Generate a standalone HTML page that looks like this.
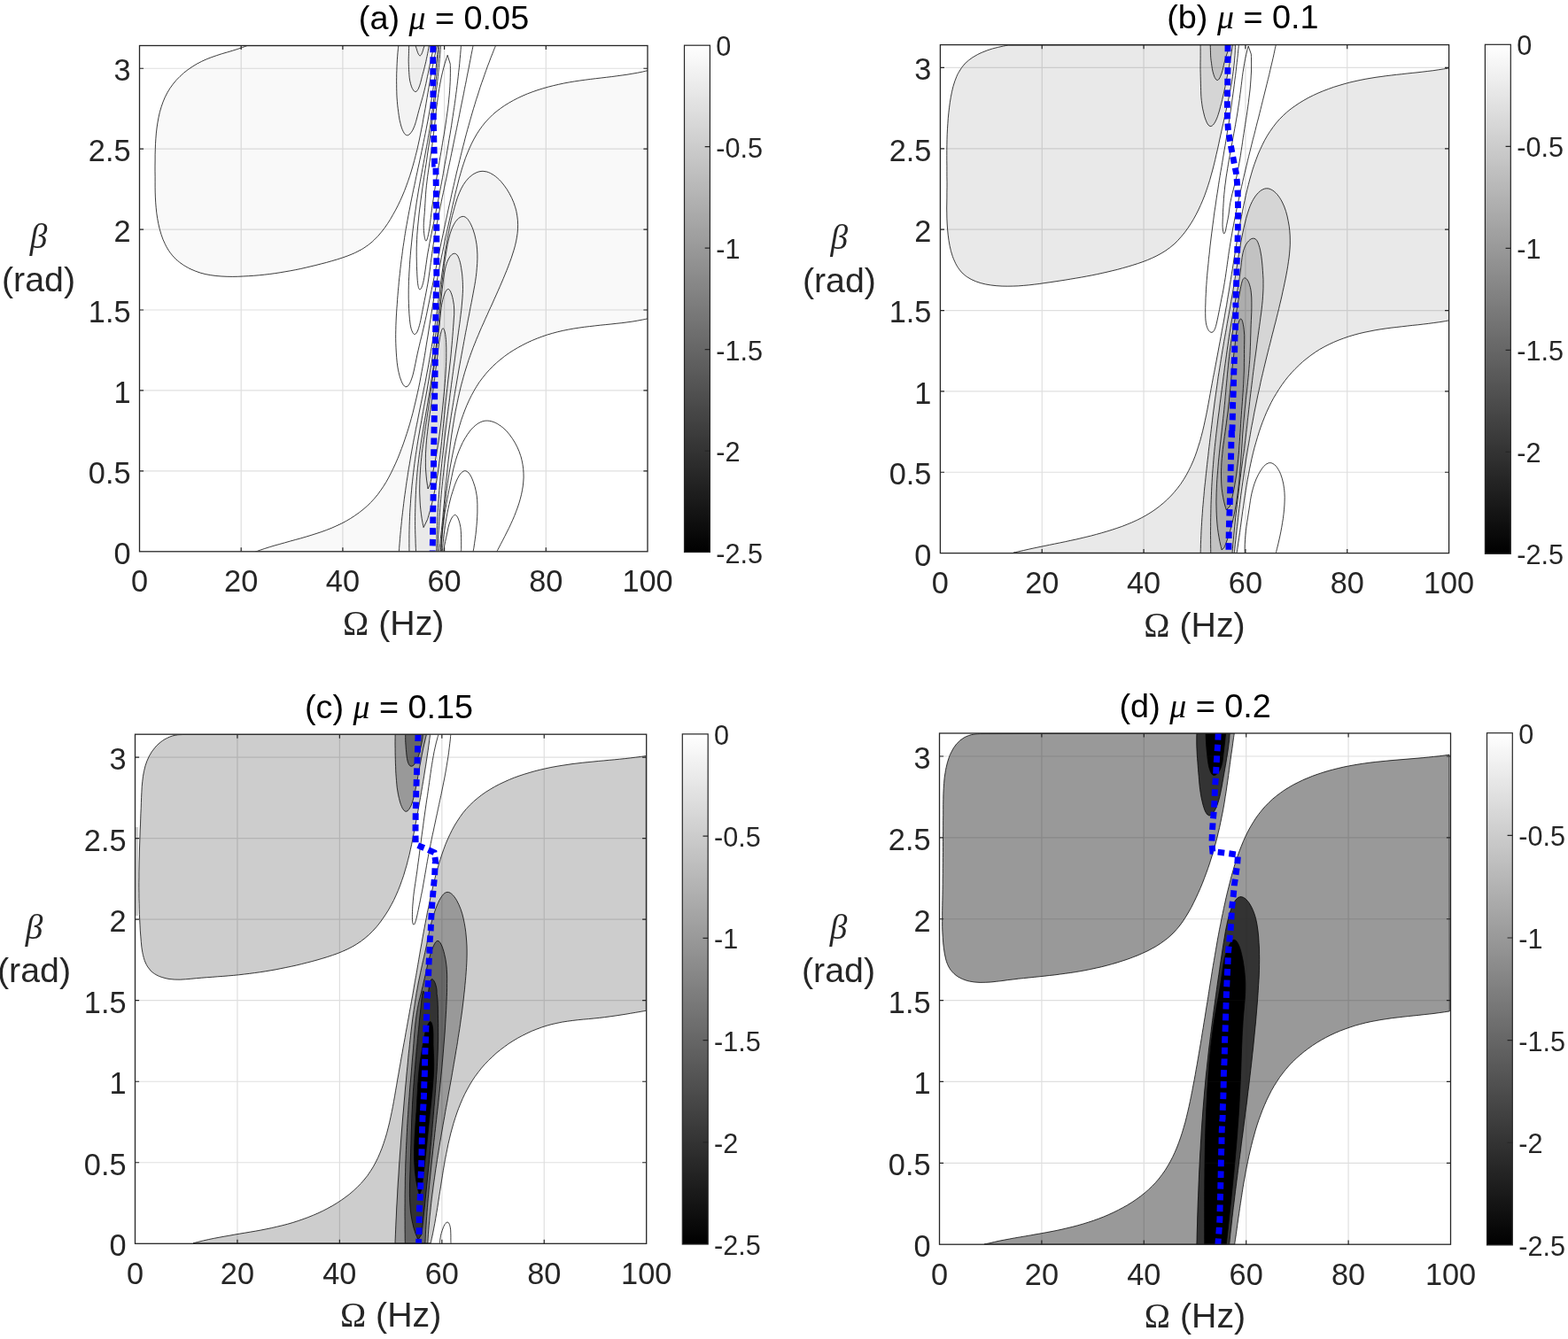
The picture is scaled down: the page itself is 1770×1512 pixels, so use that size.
<!DOCTYPE html>
<html lang="en"><head><meta charset="utf-8"><title>Contour figure</title>
<style>html,body{margin:0;padding:0;background:#fff}svg{display:block}text{font-family:"Liberation Sans",sans-serif;fill:#262626}.m{font-family:"Liberation Serif","DejaVu Serif",serif;font-style:italic}.r{font-family:"Liberation Serif","DejaVu Serif",serif}</style></head>
<body>
<svg xmlns="http://www.w3.org/2000/svg" width="1770" height="1512" viewBox="0 0 1770 1512">
<defs><linearGradient id="cb" x1="0" y1="0" x2="0" y2="1"><stop offset="0" stop-color="#fff"/><stop offset="1" stop-color="#000"/></linearGradient></defs>
<rect width="1770" height="1512" fill="#fff"/>
<g>
<g id="panel-a">
<clipPath id="clip-a"><rect x="157.5" y="51.5" width="573.5" height="571.3"/></clipPath>
<g clip-path="url(#clip-a)">
<path d="M279 51.6C278 51.9 275.3 53 273.5 53.6C271.7 54.3 269.8 54.9 267.9 55.5C266 56.1 264.1 56.7 262.2 57.3C260.2 57.9 258.3 58.4 256.4 59C254.4 59.6 252.5 60.1 250.5 60.7C248.6 61.3 246.6 61.9 244.7 62.6C242.8 63.2 240.8 63.9 238.9 64.6C237 65.3 235.1 66 233.2 66.8C231.4 67.6 229.5 68.4 227.7 69.3C225.9 70.2 224.1 71.1 222.3 72.1C220.5 73.1 218.8 74.2 217.1 75.3C215.4 76.4 213.7 77.5 212.1 78.7C210.5 79.9 208.9 81.1 207.4 82.4C205.9 83.7 204.4 85 203 86.4C201.6 87.7 200.2 89.2 198.9 90.6C197.6 92.1 196.4 93.6 195.2 95.1C194 96.6 192.9 98.2 191.8 99.8C190.8 101.4 189.8 103.1 188.8 104.8C187.9 106.4 187.1 108.2 186.2 109.9C185.4 111.6 184.7 113.4 184 115.2C183.3 117 182.7 118.9 182.1 120.7C181.5 122.6 180.9 124.5 180.4 126.4C179.9 128.3 179.5 130.2 179.1 132.2C178.7 134.1 178.3 136.1 178 138.1C177.6 140 177.3 142 177.1 144C176.8 146 176.6 148.1 176.4 150.1C176.2 152.1 176 154.2 175.9 156.2C175.7 158.3 175.6 160.3 175.5 162.4C175.4 164.5 175.3 166.5 175.3 168.6C175.2 170.7 175.2 172.7 175.1 174.8C175.1 176.9 175.1 178.9 175.1 181C175 183 175 185.1 175 187.1C175 189.2 175 191.2 175 193.2C175 195.3 175 197.3 175.1 199.3C175.1 201.3 175.1 203.3 175.1 205.3C175.1 207.2 175.1 209.2 175.1 211.2C175.1 213.1 175.2 215.1 175.2 217.1C175.3 219 175.3 221 175.4 222.9C175.5 224.9 175.6 226.8 175.7 228.8C175.8 230.8 176 232.7 176.2 234.7C176.4 236.7 176.6 238.6 176.8 240.6C177.1 242.6 177.4 244.6 177.7 246.6C178 248.6 178.4 250.6 178.8 252.6C179.2 254.6 179.7 256.6 180.2 258.6C180.7 260.5 181.3 262.5 181.9 264.5C182.5 266.4 183.2 268.3 183.9 270.2C184.7 272.1 185.5 273.9 186.4 275.7C187.2 277.5 188.2 279.3 189.2 280.9C190.2 282.6 191.3 284.3 192.5 285.8C193.6 287.4 194.9 288.8 196.2 290.2C197.5 291.7 198.9 293 200.4 294.3C201.8 295.5 203.4 296.7 205 297.9C206.5 299 208.2 300 209.9 301C211.5 302 213.3 302.9 215.1 303.8C216.8 304.6 218.6 305.4 220.5 306.1C222.3 306.8 224.2 307.5 226.1 308.1C228 308.6 230 309.1 231.9 309.6C233.9 310 235.9 310.4 237.8 310.7C239.8 311 241.8 311.3 243.9 311.5C245.9 311.7 247.9 311.9 249.9 312C252 312.2 254 312.3 256.1 312.3C258.1 312.4 260.2 312.4 262.2 312.4C264.3 312.4 266.3 312.3 268.4 312.3C270.4 312.2 272.4 312.1 274.5 312C276.5 312 278.5 311.8 280.5 311.7C282.5 311.6 284.5 311.5 286.5 311.3C288.5 311.1 290.5 311 292.5 310.8C294.5 310.6 296.5 310.4 298.4 310.2C300.4 309.9 302.4 309.7 304.3 309.5C306.3 309.2 308.3 308.9 310.2 308.7C312.2 308.4 314.1 308.1 316.1 307.8C318 307.5 320 307.2 321.9 306.8C323.9 306.5 325.8 306.1 327.7 305.8C329.7 305.4 331.6 305 333.6 304.7C335.5 304.3 337.4 303.9 339.4 303.5C341.3 303 343.3 302.6 345.2 302.2C347.2 301.7 349.1 301.3 351 300.8C353 300.4 354.9 299.9 356.9 299.4C358.8 298.9 360.8 298.4 362.7 297.9C364.7 297.4 366.7 296.9 368.6 296.4C370.6 295.8 372.6 295.3 374.5 294.7C376.5 294.2 378.5 293.6 380.4 293C382.4 292.4 384.3 291.8 386.3 291.1C388.2 290.5 390.1 289.8 392 289.1C393.9 288.4 395.8 287.6 397.7 286.8C399.5 286.1 401.3 285.2 403.1 284.3C404.9 283.4 406.7 282.5 408.4 281.5C410.1 280.5 411.7 279.5 413.3 278.3C415 277.2 416.5 276 418 274.8C419.6 273.6 421 272.3 422.4 270.9C423.9 269.6 425.2 268.1 426.6 266.7C427.9 265.2 429.2 263.7 430.4 262.2C431.7 260.7 432.9 259.1 434.1 257.5C435.2 255.9 436.4 254.2 437.5 252.6C438.6 250.9 439.7 249.2 440.7 247.5C441.7 245.8 442.8 244.1 443.7 242.3C444.7 240.6 445.7 238.9 446.6 237.1C447.5 235.4 448.4 233.6 449.3 231.8C450.2 230 451 228.2 451.9 226.4C452.7 224.6 453.5 222.8 454.3 221C455.1 219.2 455.8 217.3 456.6 215.5C457.3 213.6 458 211.8 458.7 209.9C459.4 208.1 460.1 206.2 460.7 204.3C461.4 202.5 462 200.6 462.6 198.7C463.2 196.8 463.8 194.9 464.4 193C465 191.1 465.6 189.2 466.1 187.2C466.7 185.3 467.2 183.4 467.7 181.4C468.2 179.5 468.7 177.6 469.2 175.6C469.7 173.7 470.2 171.7 470.7 169.8C471.1 167.8 471.6 165.9 472 163.9C472.5 161.9 472.9 160 473.3 158C473.7 156 474.1 154.1 474.5 152.1C474.9 150.1 475.3 148.1 475.7 146.1C476.1 144.2 476.5 142.2 476.9 140.2C477.2 138.2 477.6 136.2 477.9 134.2C478.3 132.2 478.7 130.2 479 128.2C479.4 126.3 479.7 124.3 480.1 122.3C480.4 120.3 480.7 118.3 481.1 116.3C481.4 114.3 481.8 112.3 482.1 110.3C482.4 108.3 482.8 106.3 483.1 104.4C483.5 102.4 483.8 100.4 484.1 98.4C484.5 96.4 484.8 94.4 485.2 92.5C485.5 90.5 485.9 88.5 486.2 86.5C486.6 84.6 486.9 82.6 487.3 80.6C487.7 78.7 488 76.7 488.4 74.8C488.8 72.8 489.2 70.9 489.6 68.9C489.9 67 490.3 65 490.8 63.1C491.2 61.2 491.6 59.2 492 57.3C492.4 55.4 493.1 52.5 493.3 51.6Z" fill="#f9f9f9" stroke="#000" stroke-opacity="0.85" stroke-width="0.9" stroke-linejoin="round"/>
<path d="M731.3 79.6C730.3 79.9 727.4 80.5 725.5 81C723.6 81.4 721.6 81.8 719.7 82.2C717.8 82.5 715.8 82.9 713.9 83.2C711.9 83.6 710 83.9 708 84.2C706.1 84.5 704.1 84.8 702.2 85C700.2 85.3 698.2 85.6 696.3 85.8C694.3 86.1 692.3 86.3 690.4 86.6C688.4 86.8 686.4 87.1 684.4 87.3C682.4 87.5 680.5 87.8 678.5 88C676.5 88.2 674.5 88.5 672.5 88.7C670.5 89 668.5 89.2 666.6 89.4C664.6 89.7 662.6 89.9 660.6 90.2C658.6 90.5 656.6 90.7 654.6 91C652.6 91.3 650.6 91.6 648.6 91.9C646.6 92.3 644.6 92.6 642.6 92.9C640.6 93.3 638.6 93.7 636.6 94C634.6 94.4 632.6 94.8 630.6 95.3C628.6 95.7 626.6 96.2 624.6 96.7C622.7 97.1 620.7 97.7 618.7 98.2C616.7 98.7 614.8 99.3 612.8 99.9C610.9 100.4 608.9 101 607 101.7C605.1 102.3 603.1 103 601.2 103.7C599.3 104.4 597.5 105.1 595.6 105.8C593.7 106.6 591.9 107.4 590 108.2C588.2 109 586.4 109.8 584.6 110.7C582.9 111.6 581.1 112.5 579.4 113.4C577.6 114.3 575.9 115.3 574.3 116.3C572.6 117.3 570.9 118.3 569.3 119.4C567.7 120.4 566.1 121.5 564.6 122.7C563 123.8 561.5 125 560 126.2C558.6 127.4 557.1 128.6 555.7 129.9C554.3 131.2 553 132.5 551.7 133.9C550.3 135.2 549.1 136.6 547.8 138.1C546.6 139.5 545.4 141 544.3 142.5C543.1 144 542 145.5 541 147.1C539.9 148.7 538.9 150.3 537.9 151.9C536.9 153.6 535.9 155.3 535 157C534.1 158.7 533.2 160.4 532.4 162.1C531.5 163.9 530.7 165.7 529.9 167.5C529.1 169.3 528.3 171.1 527.6 173C526.8 174.8 526.1 176.7 525.4 178.5C524.8 180.4 524.1 182.3 523.5 184.2C522.8 186.2 522.2 188.1 521.6 190C521 192 520.4 193.9 519.9 195.9C519.3 197.9 518.7 199.8 518.2 201.8C517.7 203.8 517.2 205.8 516.7 207.8C516.1 209.8 515.7 211.8 515.2 213.8C514.7 215.8 514.2 217.8 513.7 219.8C513.3 221.8 512.8 223.8 512.4 225.8C511.9 227.8 511.5 229.8 511 231.8C510.6 233.8 510.1 235.7 509.7 237.7C509.2 239.7 508.8 241.7 508.4 243.6C507.9 245.6 507.5 247.6 507.1 249.5C506.6 251.5 506.2 253.4 505.8 255.4C505.3 257.3 504.9 259.3 504.5 261.2C504.1 263.2 503.7 265.1 503.3 267C502.8 269 502.4 270.9 502 272.8C501.6 274.8 501.2 276.7 500.8 278.6C500.4 280.6 500 282.5 499.6 284.4C499.2 286.4 498.8 288.3 498.4 290.2C498 292.1 497.7 294.1 497.3 296C496.9 297.9 496.5 299.8 496.1 301.8C495.8 303.7 495.4 305.6 495 307.5C494.7 309.5 494.3 311.4 493.9 313.3C493.6 315.3 493.2 317.2 492.9 319.1C492.5 321.1 492.2 323 491.8 324.9C491.5 326.9 491.1 328.8 490.8 330.8C490.5 332.7 490.1 334.7 489.8 336.6C489.5 338.6 489.1 340.5 488.8 342.5C488.5 344.4 488.2 346.4 487.9 348.4C487.5 350.3 487.2 352.3 486.9 354.3C486.6 356.2 486.3 358.2 486 360.2C485.7 362.2 485.3 364.1 485 366.1C484.7 368.1 484.4 370.1 484.1 372C483.8 374 483.5 376 483.2 378C482.8 380 482.5 382 482.2 383.9C481.9 385.9 481.6 387.9 481.2 389.9C480.9 391.9 480.6 393.9 480.3 395.8C479.9 397.8 479.6 399.8 479.3 401.8C478.9 403.8 478.6 405.8 478.3 407.7C477.9 409.7 477.6 411.7 477.2 413.7C476.9 415.7 476.5 417.6 476.1 419.6C475.8 421.6 475.4 423.6 475 425.5C474.6 427.5 474.2 429.5 473.9 431.5C473.5 433.4 473.1 435.4 472.7 437.4C472.2 439.3 471.8 441.3 471.4 443.3C471 445.2 470.5 447.2 470.1 449.1C469.7 451.1 469.2 453 468.7 455C468.3 456.9 467.8 458.9 467.3 460.8C466.8 462.8 466.4 464.7 465.9 466.6C465.3 468.6 464.8 470.5 464.3 472.4C463.8 474.3 463.2 476.3 462.7 478.2C462.1 480.1 461.6 482 461 483.9C460.4 485.8 459.8 487.7 459.2 489.6C458.6 491.5 458 493.4 457.3 495.3C456.7 497.2 456.1 499.1 455.4 500.9C454.7 502.8 454 504.7 453.3 506.5C452.6 508.4 451.9 510.3 451.2 512.1C450.5 514 449.7 515.8 449 517.6C448.2 519.5 447.4 521.3 446.6 523.1C445.8 524.9 445 526.7 444.1 528.5C443.3 530.3 442.4 532.1 441.5 533.9C440.7 535.7 439.7 537.4 438.8 539.1C437.9 540.9 436.9 542.6 435.9 544.3C434.9 546 433.9 547.6 432.8 549.3C431.8 550.9 430.7 552.5 429.5 554.1C428.4 555.7 427.3 557.3 426.1 558.8C424.9 560.3 423.6 561.8 422.4 563.2C421.1 564.7 419.8 566.1 418.4 567.5C417.1 568.9 415.7 570.2 414.3 571.5C412.9 572.8 411.4 574.1 409.9 575.3C408.4 576.6 406.9 577.8 405.3 578.9C403.8 580.1 402.2 581.2 400.5 582.3C398.9 583.4 397.3 584.5 395.6 585.5C393.9 586.5 392.2 587.5 390.5 588.5C388.7 589.4 387 590.4 385.2 591.3C383.4 592.2 381.6 593 379.8 593.8C377.9 594.7 376.1 595.5 374.2 596.3C372.3 597 370.5 597.8 368.6 598.5C366.7 599.2 364.7 599.9 362.8 600.6C360.9 601.3 358.9 601.9 357 602.5C355 603.2 353.1 603.8 351.1 604.4C349.2 605 347.2 605.6 345.2 606.2C343.2 606.8 341.3 607.3 339.3 607.9C337.3 608.4 335.3 609 333.4 609.5C331.4 610.1 329.4 610.6 327.5 611.1C325.5 611.7 323.5 612.2 321.6 612.8C319.6 613.3 317.7 613.8 315.8 614.4C313.8 614.9 311.9 615.5 310 616C308.1 616.6 306.2 617.1 304.3 617.7C302.4 618.3 300.6 618.9 298.7 619.5C296.9 620.1 295.1 620.7 293.3 621.3C291.4 622 288.8 623 287.9 623.3L497.3 623.3C497.4 622.3 497.6 619.2 497.8 617.2C497.9 615.1 498.1 613.1 498.3 611.1C498.4 609.1 498.6 607.1 498.8 605.1C499 603.1 499.1 601.1 499.3 599.1C499.5 597.1 499.7 595.1 499.9 593.1C500 591.1 500.2 589.1 500.4 587.1C500.6 585.1 500.8 583.2 501 581.2C501.2 579.2 501.4 577.2 501.6 575.3C501.9 573.3 502.1 571.3 502.3 569.4C502.5 567.4 502.7 565.4 503 563.5C503.2 561.5 503.5 559.5 503.7 557.6C504 555.6 504.2 553.6 504.5 551.7C504.8 549.7 505 547.7 505.3 545.8C505.6 543.8 505.9 541.8 506.2 539.9C506.5 537.9 506.8 535.9 507.1 533.9C507.4 532 507.8 530 508.1 528C508.5 526 508.8 524 509.2 522C509.5 520.1 509.9 518.1 510.3 516.1C510.7 514.1 511.1 512.1 511.5 510.1C511.9 508.1 512.3 506.1 512.8 504.1C513.2 502.1 513.7 500.1 514.1 498.1C514.6 496.1 515.1 494.1 515.6 492.1C516.1 490.1 516.6 488.1 517.2 486.2C517.7 484.2 518.3 482.2 518.9 480.3C519.5 478.3 520.1 476.4 520.7 474.4C521.4 472.5 522 470.6 522.7 468.7C523.4 466.8 524.1 464.9 524.8 463C525.6 461.1 526.3 459.3 527.1 457.4C527.9 455.6 528.7 453.8 529.5 452C530.4 450.2 531.3 448.4 532.2 446.6C533.1 444.9 534 443.1 535 441.4C536 439.7 537 438 538 436.3C539 434.7 540.1 433 541.2 431.4C542.3 429.8 543.5 428.3 544.7 426.7C545.8 425.2 547.1 423.7 548.3 422.2C549.6 420.7 550.9 419.2 552.2 417.8C553.5 416.4 554.9 415 556.3 413.6C557.7 412.3 559.1 411 560.5 409.7C562 408.4 563.5 407.1 565 405.9C566.5 404.6 568.1 403.4 569.6 402.3C571.2 401.1 572.8 399.9 574.4 398.8C576.1 397.7 577.7 396.7 579.4 395.6C581.1 394.6 582.8 393.5 584.5 392.6C586.2 391.6 588 390.6 589.8 389.7C591.5 388.8 593.3 387.9 595.1 387C596.9 386.1 598.8 385.3 600.6 384.5C602.4 383.7 604.3 382.9 606.2 382.2C608.1 381.5 609.9 380.8 611.8 380.1C613.8 379.4 615.7 378.8 617.6 378.1C619.5 377.5 621.5 376.9 623.4 376.4C625.4 375.8 627.4 375.3 629.3 374.8C631.3 374.3 633.3 373.8 635.3 373.4C637.3 373 639.3 372.6 641.3 372.2C643.3 371.8 645.3 371.4 647.3 371.1C649.3 370.8 651.3 370.5 653.3 370.2C655.3 369.9 657.4 369.6 659.4 369.3C661.4 369.1 663.5 368.8 665.5 368.6C667.5 368.3 669.5 368.1 671.6 367.9C673.6 367.7 675.6 367.5 677.7 367.2C679.7 367 681.7 366.8 683.8 366.6C685.8 366.4 687.8 366.2 689.8 366C691.8 365.8 693.9 365.6 695.9 365.3C697.9 365.1 699.9 364.9 701.9 364.7C703.9 364.4 705.9 364.2 707.9 363.9C709.8 363.6 711.8 363.4 713.8 363.1C715.8 362.8 717.7 362.5 719.7 362.1C721.6 361.8 723.6 361.4 725.5 361C727.4 360.7 730.3 360 731.3 359.8Z" fill="#f9f9f9" stroke="#000" stroke-opacity="0.85" stroke-width="0.9" stroke-linejoin="round"/>
<path d="M450.3 623.3C450.4 622.5 450.6 620 450.7 618.3C450.8 616.7 450.9 615 451.1 613.3C451.2 611.7 451.3 610 451.5 608.4C451.6 606.7 451.8 605.1 451.9 603.4C452.1 601.7 452.2 600.1 452.4 598.4C452.5 596.8 452.7 595.1 452.9 593.4C453 591.8 453.2 590.1 453.4 588.5C453.6 586.8 453.7 585.2 453.9 583.5C454.1 581.8 454.3 580.2 454.5 578.5C454.7 576.9 454.9 575.2 455.1 573.5C455.3 571.9 455.5 570.2 455.7 568.6C455.9 566.9 456.1 565.3 456.3 563.6C456.6 561.9 456.8 560.3 457 558.6C457.2 557 457.5 555.3 457.7 553.7C457.9 552 458.2 550.4 458.4 548.7C458.6 547 458.9 545.4 459.1 543.7C459.4 542.1 459.6 540.4 459.9 538.8C460.1 537.1 460.4 535.5 460.6 533.8C460.9 532.2 461.2 530.5 461.4 528.9C461.7 527.2 462 525.6 462.3 523.9C462.5 522.3 462.8 520.7 463.1 519C463.4 517.4 463.6 515.7 463.9 514.1C464.2 512.4 464.5 510.8 464.8 509.2C465.1 507.5 465.4 505.9 465.7 504.2C466 502.6 466.3 501 466.6 499.3C466.9 497.7 467.2 496 467.5 494.4C467.8 492.8 468.2 491.1 468.5 489.5C468.8 487.9 469.1 486.3 469.4 484.6C469.7 483 470.1 481.4 470.4 479.7C470.7 478.1 471 476.5 471.4 474.8C471.7 473.2 472 471.6 472.3 470C472.7 468.3 473 466.7 473.3 465.1C473.6 463.4 474 461.8 474.3 460.2C474.6 458.6 475 456.9 475.3 455.3C475.6 453.7 475.9 452 476.3 450.4C476.6 448.8 476.9 447.2 477.3 445.5C477.6 443.9 477.9 442.3 478.2 440.6C478.6 439 478.9 437.4 479.2 435.7C479.5 434.1 479.8 432.5 480.2 430.9C480.5 429.2 480.8 427.6 481.1 425.9C481.4 424.3 481.7 422.7 482 421C482.3 419.4 482.7 417.8 483 416.1C483.3 414.5 483.6 412.9 483.9 411.2C484.2 409.6 484.5 407.9 484.7 406.3C485 404.6 485.3 403 485.6 401.3C485.9 399.7 486.2 398 486.4 396.4C486.7 394.7 487 393.1 487.3 391.4C487.5 389.8 487.8 388.1 488.1 386.5C488.3 384.8 488.6 383.2 488.8 381.5C489.1 379.8 489.3 378.2 489.6 376.5C489.8 374.9 490.1 373.2 490.3 371.5C490.6 369.9 490.8 368.2 491.1 366.6C491.3 364.9 491.5 363.2 491.8 361.6C492 359.9 492.2 358.3 492.5 356.6C492.7 354.9 492.9 353.3 493.2 351.6C493.4 350 493.6 348.3 493.8 346.6C494.1 345 494.3 343.3 494.5 341.7C494.7 340 495 338.3 495.2 336.7C495.4 335 495.6 333.4 495.9 331.7C496.1 330.1 496.3 328.4 496.5 326.8C496.8 325.1 497 323.5 497.2 321.8C497.4 320.2 497.6 318.6 497.9 316.9C498.1 315.3 498.3 313.6 498.5 312C498.8 310.4 499 308.7 499.2 307.1C499.5 305.5 499.7 303.8 499.9 302.2C500.2 300.6 500.4 299 500.6 297.3C500.9 295.7 501.1 294.1 501.3 292.5C501.6 290.9 501.8 289.3 502.1 287.7C502.3 286.1 502.6 284.5 502.8 282.9C503.1 281.2 503.3 279.6 503.6 278C503.9 276.4 504.1 274.8 504.4 273.2C504.7 271.6 505 270 505.3 268.4C505.6 266.8 505.9 265.1 506.2 263.5C506.5 261.9 506.8 260.3 507.2 258.6C507.5 257 507.8 255.3 508.2 253.7C508.6 252 508.9 250.4 509.3 248.7C509.7 247 510.1 245.3 510.5 243.6C511 241.9 511.4 240.2 511.9 238.5C512.3 236.8 512.8 235.1 513.3 233.3C513.8 231.6 514.3 229.8 514.8 228.1C515.4 226.3 515.9 224.6 516.5 222.8C517.2 221.1 517.8 219.4 518.5 217.8C519.2 216.1 519.9 214.5 520.7 212.9C521.5 211.3 522.4 209.8 523.3 208.3C524.2 206.9 525.2 205.5 526.2 204.2C527.2 202.9 528.4 201.7 529.5 200.5C530.6 199.4 531.9 198.4 533.1 197.5C534.3 196.7 535.6 195.9 536.9 195.3C538.2 194.6 539.6 194.1 540.9 193.8C542.3 193.5 543.7 193.3 545.1 193.3C546.5 193.4 547.9 193.6 549.3 193.9C550.7 194.3 552.1 194.8 553.5 195.5C554.8 196.2 556.2 197 557.6 197.9C558.9 198.9 560.3 199.9 561.6 201.1C562.9 202.2 564.1 203.5 565.4 204.8C566.6 206.2 567.8 207.6 568.9 209.1C570 210.5 571.1 212.1 572.1 213.6C573.1 215.2 574.1 216.8 575 218.4C575.9 220 576.8 221.7 577.6 223.4C578.4 225.1 579.1 226.8 579.8 228.5C580.4 230.2 581 231.9 581.5 233.6C582.1 235.3 582.5 237 582.9 238.7C583.3 240.4 583.6 242.1 583.8 243.8C584.1 245.4 584.3 247.1 584.4 248.8C584.5 250.4 584.6 252 584.6 253.7C584.6 255.3 584.6 256.9 584.5 258.6C584.4 260.2 584.3 261.8 584.1 263.4C583.9 265 583.7 266.6 583.4 268.2C583.1 269.8 582.8 271.4 582.5 272.9C582.2 274.5 581.8 276.1 581.4 277.7C581 279.2 580.5 280.8 580.1 282.3C579.6 283.9 579.1 285.5 578.6 287C578.1 288.6 577.6 290.1 577.1 291.7C576.5 293.2 576 294.7 575.4 296.3C574.8 297.8 574.3 299.4 573.7 300.9C573.1 302.4 572.5 304 571.9 305.5C571.3 307 570.7 308.6 570 310.1C569.4 311.6 568.8 313.1 568.1 314.7C567.5 316.2 566.9 317.7 566.2 319.2C565.6 320.8 564.9 322.3 564.2 323.8C563.6 325.3 562.9 326.8 562.2 328.4C561.6 329.9 560.9 331.4 560.2 332.9C559.5 334.4 558.8 335.9 558.1 337.5C557.5 339 556.8 340.5 556.1 342C555.4 343.5 554.7 345 554 346.6C553.3 348.1 552.6 349.6 551.9 351.1C551.2 352.6 550.5 354.2 549.9 355.7C549.2 357.2 548.5 358.7 547.8 360.2C547.1 361.8 546.4 363.3 545.8 364.8C545.1 366.3 544.4 367.9 543.7 369.4C543.1 370.9 542.4 372.5 541.7 374C541.1 375.5 540.4 377.1 539.8 378.6C539.1 380.1 538.5 381.7 537.8 383.2C537.2 384.7 536.6 386.3 536 387.8C535.4 389.4 534.7 390.9 534.1 392.5C533.5 394 533 395.6 532.4 397.1C531.8 398.7 531.2 400.3 530.7 401.8C530.1 403.4 529.6 405 529 406.5C528.5 408.1 528 409.7 527.5 411.3C527 412.8 526.5 414.4 526 416C525.5 417.6 525 419.2 524.5 420.8C524.1 422.3 523.6 423.9 523.2 425.5C522.7 427.1 522.3 428.7 521.9 430.3C521.4 431.9 521 433.5 520.6 435.1C520.2 436.8 519.8 438.4 519.4 440C519 441.6 518.7 443.2 518.3 444.8C517.9 446.4 517.6 448.1 517.2 449.7C516.8 451.3 516.5 452.9 516.2 454.6C515.8 456.2 515.5 457.8 515.2 459.4C514.9 461.1 514.5 462.7 514.2 464.3C513.9 466 513.6 467.6 513.3 469.2C513 470.9 512.8 472.5 512.5 474.2C512.2 475.8 511.9 477.5 511.7 479.1C511.4 480.7 511.1 482.4 510.9 484C510.6 485.7 510.4 487.3 510.1 489C509.9 490.6 509.7 492.3 509.4 493.9C509.2 495.6 509 497.3 508.7 498.9C508.5 500.6 508.3 502.2 508.1 503.9C507.9 505.5 507.7 507.2 507.5 508.9C507.3 510.5 507.1 512.2 506.9 513.8C506.7 515.5 506.5 517.2 506.3 518.8C506.1 520.5 505.9 522.2 505.7 523.8C505.6 525.5 505.4 527.1 505.2 528.8C505 530.5 504.8 532.1 504.7 533.8C504.5 535.5 504.3 537.1 504.2 538.8C504 540.5 503.8 542.1 503.7 543.8C503.5 545.5 503.3 547.1 503.2 548.8C503 550.5 502.9 552.1 502.7 553.8C502.5 555.5 502.4 557.1 502.2 558.8C502.1 560.5 501.9 562.1 501.8 563.8C501.6 565.4 501.4 567.1 501.3 568.8C501.1 570.4 501 572.1 500.8 573.8C500.7 575.4 500.5 577.1 500.3 578.7C500.2 580.4 500 582.1 499.9 583.7C499.7 585.4 499.5 587 499.4 588.7C499.2 590.4 499 592 498.9 593.7C498.7 595.3 498.5 597 498.4 598.6C498.2 600.3 498 601.9 497.8 603.6C497.7 605.2 497.5 606.9 497.3 608.5C497.1 610.2 496.9 611.8 496.8 613.4C496.6 615.1 496.4 616.7 496.2 618.4C496 620 495.7 622.5 495.6 623.3Z" fill="#f3f3f3" stroke="#000" stroke-opacity="0.85" stroke-width="0.9" stroke-linejoin="round"/>
<path d="M462 623.3C462 622.5 461.9 620 461.9 618.3C461.9 616.7 461.9 615 461.9 613.4C461.8 611.7 461.8 610 461.9 608.4C461.9 606.7 461.9 605.1 461.9 603.4C461.9 601.7 461.9 600.1 462 598.4C462 596.7 462.1 595.1 462.1 593.4C462.2 591.7 462.2 590.1 462.3 588.4C462.3 586.7 462.4 585.1 462.5 583.4C462.6 581.7 462.6 580.1 462.7 578.4C462.8 576.7 462.9 575.1 463 573.4C463.1 571.7 463.2 570 463.4 568.4C463.5 566.7 463.6 565 463.7 563.4C463.9 561.7 464 560 464.1 558.4C464.3 556.7 464.4 555 464.6 553.3C464.7 551.7 464.9 550 465 548.3C465.2 546.7 465.4 545 465.6 543.3C465.7 541.7 465.9 540 466.1 538.4C466.3 536.7 466.5 535 466.7 533.4C466.9 531.7 467.1 530.1 467.3 528.4C467.5 526.8 467.7 525.1 467.9 523.4C468.2 521.8 468.4 520.1 468.6 518.5C468.9 516.8 469.1 515.2 469.3 513.6C469.6 511.9 469.8 510.3 470.1 508.6C470.3 507 470.6 505.4 470.8 503.7C471.1 502.1 471.4 500.4 471.6 498.8C471.9 497.2 472.2 495.5 472.4 493.9C472.7 492.3 473 490.6 473.3 489C473.6 487.4 473.8 485.8 474.1 484.1C474.4 482.5 474.7 480.9 475 479.2C475.3 477.6 475.6 476 475.9 474.4C476.2 472.7 476.4 471.1 476.7 469.5C477 467.8 477.3 466.2 477.6 464.6C477.9 463 478.2 461.3 478.5 459.7C478.8 458.1 479.1 456.4 479.4 454.8C479.7 453.2 480 451.5 480.3 449.9C480.6 448.3 480.9 446.6 481.2 445C481.5 443.4 481.8 441.7 482.1 440.1C482.3 438.4 482.6 436.8 482.9 435.1C483.2 433.5 483.5 431.9 483.8 430.2C484.1 428.6 484.3 426.9 484.6 425.2C484.9 423.6 485.2 421.9 485.4 420.3C485.7 418.6 486 417 486.2 415.3C486.5 413.6 486.8 412 487 410.3C487.3 408.6 487.5 407 487.8 405.3C488 403.6 488.3 402 488.5 400.3C488.8 398.6 489 396.9 489.3 395.3C489.5 393.6 489.7 391.9 490 390.3C490.2 388.6 490.5 386.9 490.7 385.3C490.9 383.6 491.1 381.9 491.4 380.3C491.6 378.6 491.8 376.9 492.1 375.3C492.3 373.6 492.5 371.9 492.7 370.3C492.9 368.6 493.1 367 493.4 365.3C493.6 363.6 493.8 362 494 360.3C494.2 358.7 494.4 357.1 494.6 355.4C494.8 353.8 495 352.1 495.2 350.5C495.4 348.9 495.6 347.2 495.8 345.6C496 344 496.2 342.4 496.4 340.7C496.6 339.1 496.8 337.5 497 335.9C497.2 334.3 497.4 332.7 497.5 331.1C497.7 329.5 497.9 327.9 498.1 326.4C498.3 324.8 498.5 323.2 498.6 321.6C498.8 320 499 318.5 499.2 316.9C499.4 315.3 499.6 313.7 499.8 312.1C500 310.5 500.2 308.9 500.4 307.3C500.6 305.6 500.8 304 501 302.3C501.3 300.7 501.5 299 501.7 297.3C502 295.6 502.2 293.9 502.5 292.1C502.8 290.4 503.1 288.6 503.4 286.8C503.6 284.9 504 283.1 504.3 281.2C504.6 279.3 505 277.4 505.3 275.5C505.7 273.6 506.1 271.6 506.6 269.7C507 267.8 507.5 265.9 508 264.1C508.6 262.2 509.2 260.4 509.9 258.7C510.5 257 511.3 255.4 512.1 253.9C512.9 252.4 513.8 250.9 514.7 249.7C515.6 248.5 516.6 247.4 517.6 246.6C518.6 245.8 519.6 245.1 520.7 244.8C521.7 244.4 522.7 244.3 523.7 244.5C524.7 244.8 525.7 245.3 526.6 246.1C527.6 246.9 528.5 248.1 529.3 249.4C530.2 250.7 531 252.2 531.8 253.9C532.6 255.5 533.3 257.3 534 259.2C534.6 261 535.2 263 535.8 264.9C536.3 266.9 536.7 268.8 537.1 270.7C537.5 272.7 537.8 274.5 538.1 276.4C538.3 278.2 538.5 280.1 538.6 281.9C538.8 283.7 538.8 285.4 538.9 287.2C538.9 289 538.9 290.7 538.9 292.4C538.8 294.2 538.8 295.9 538.7 297.6C538.6 299.3 538.5 300.9 538.3 302.6C538.2 304.3 538 305.9 537.9 307.6C537.7 309.3 537.5 310.9 537.3 312.5C537 314.2 536.8 315.8 536.6 317.4C536.3 319 536 320.7 535.8 322.3C535.5 323.9 535.2 325.5 534.9 327.1C534.6 328.7 534.3 330.3 534 331.9C533.7 333.5 533.4 335.1 533.1 336.7C532.8 338.3 532.5 339.9 532.2 341.5C531.8 343.1 531.5 344.8 531.2 346.4C530.9 348 530.6 349.6 530.3 351.2C530 352.8 529.7 354.5 529.4 356.1C529 357.7 528.7 359.3 528.4 360.9C528.1 362.6 527.8 364.2 527.5 365.8C527.2 367.5 526.9 369.1 526.6 370.7C526.3 372.3 525.9 374 525.6 375.6C525.3 377.3 525 378.9 524.7 380.5C524.4 382.2 524.1 383.8 523.8 385.4C523.5 387.1 523.2 388.7 522.9 390.4C522.6 392 522.3 393.6 522 395.3C521.7 396.9 521.4 398.6 521.1 400.2C520.8 401.9 520.5 403.5 520.2 405.2C519.9 406.8 519.6 408.4 519.3 410.1C519 411.7 518.7 413.4 518.4 415C518.1 416.7 517.8 418.3 517.5 420C517.2 421.6 516.9 423.3 516.7 424.9C516.4 426.6 516.1 428.2 515.8 429.9C515.5 431.5 515.2 433.2 515 434.8C514.7 436.5 514.4 438.1 514.1 439.8C513.8 441.4 513.6 443.1 513.3 444.7C513 446.3 512.7 448 512.5 449.6C512.2 451.3 511.9 452.9 511.7 454.6C511.4 456.2 511.1 457.9 510.9 459.5C510.6 461.2 510.3 462.8 510.1 464.5C509.8 466.1 509.6 467.7 509.3 469.4C509.1 471 508.8 472.7 508.6 474.3C508.3 476 508.1 477.6 507.8 479.3C507.6 480.9 507.3 482.6 507.1 484.2C506.9 485.8 506.6 487.5 506.4 489.1C506.1 490.8 505.9 492.4 505.7 494.1C505.4 495.7 505.2 497.4 505 499C504.8 500.7 504.5 502.3 504.3 504C504.1 505.6 503.9 507.3 503.7 508.9C503.5 510.5 503.2 512.2 503 513.8C502.8 515.5 502.6 517.1 502.4 518.8C502.2 520.4 502 522.1 501.8 523.7C501.6 525.4 501.4 527 501.2 528.7C501 530.3 500.8 532 500.7 533.6C500.5 535.3 500.3 536.9 500.1 538.6C499.9 540.2 499.8 541.9 499.6 543.5C499.4 545.2 499.2 546.8 499.1 548.5C498.9 550.1 498.7 551.8 498.6 553.4C498.4 555.1 498.3 556.8 498.1 558.4C498 560.1 497.8 561.7 497.7 563.4C497.5 565 497.4 566.7 497.2 568.3C497.1 570 497 571.7 496.8 573.3C496.7 575 496.6 576.6 496.5 578.3C496.3 579.9 496.2 581.6 496.1 583.3C496 584.9 495.9 586.6 495.8 588.3C495.7 589.9 495.6 591.6 495.5 593.2C495.4 594.9 495.3 596.6 495.2 598.2C495.1 599.9 495 601.6 494.9 603.2C494.8 604.9 494.7 606.6 494.7 608.2C494.6 609.9 494.5 611.6 494.5 613.2C494.4 614.9 494.3 616.6 494.3 618.3C494.2 619.9 494.1 622.4 494.1 623.3Z" fill="#eeeeee" stroke="#000" stroke-opacity="0.85" stroke-width="0.9" stroke-linejoin="round"/>
<path d="M469.6 623.3C469.5 622.5 469.4 620 469.3 618.4C469.3 616.7 469.2 615.1 469.1 613.4C469.1 611.8 469 610.1 469 608.5C468.9 606.8 468.9 605.1 468.8 603.5C468.8 601.8 468.7 600.2 468.7 598.5C468.7 596.8 468.7 595.2 468.6 593.5C468.6 591.8 468.6 590.2 468.6 588.5C468.6 586.8 468.6 585.1 468.6 583.5C468.6 581.8 468.6 580.1 468.7 578.4C468.7 576.8 468.7 575.1 468.8 573.4C468.8 571.7 468.8 570.1 468.9 568.4C468.9 566.7 469 565 469.1 563.4C469.1 561.7 469.2 560 469.3 558.4C469.4 556.7 469.4 555 469.5 553.3C469.6 551.7 469.7 550 469.8 548.3C469.9 546.7 470.1 545 470.2 543.3C470.3 541.7 470.4 540 470.6 538.3C470.7 536.7 470.9 535 471 533.4C471.2 531.7 471.4 530.1 471.5 528.4C471.7 526.8 471.9 525.1 472.1 523.5C472.3 521.8 472.5 520.2 472.7 518.6C472.9 516.9 473.1 515.3 473.3 513.6C473.5 512 473.7 510.4 474 508.7C474.2 507.1 474.4 505.5 474.7 503.9C474.9 502.2 475.2 500.6 475.4 499C475.7 497.3 475.9 495.7 476.2 494.1C476.4 492.5 476.7 490.8 477 489.2C477.2 487.6 477.5 485.9 477.8 484.3C478.1 482.7 478.3 481.1 478.6 479.4C478.9 477.8 479.2 476.2 479.4 474.6C479.7 472.9 480 471.3 480.3 469.7C480.6 468 480.8 466.4 481.1 464.8C481.4 463.1 481.7 461.5 482 459.8C482.3 458.2 482.5 456.6 482.8 454.9C483.1 453.3 483.4 451.6 483.6 450C483.9 448.3 484.2 446.7 484.5 445C484.7 443.3 485 441.7 485.3 440C485.5 438.4 485.8 436.7 486.1 435C486.3 433.4 486.6 431.7 486.8 430C487.1 428.4 487.3 426.7 487.6 425C487.8 423.4 488.1 421.7 488.3 420C488.6 418.3 488.8 416.7 489.1 415C489.3 413.3 489.5 411.7 489.8 410C490 408.3 490.2 406.7 490.4 405C490.7 403.3 490.9 401.7 491.1 400C491.3 398.4 491.5 396.7 491.8 395.1C492 393.4 492.2 391.8 492.4 390.1C492.6 388.5 492.8 386.8 493 385.2C493.2 383.6 493.4 381.9 493.6 380.3C493.8 378.7 493.9 377.1 494.1 375.4C494.3 373.8 494.5 372.2 494.7 370.6C494.8 369 495 367.4 495.2 365.8C495.3 364.2 495.5 362.7 495.7 361.1C495.8 359.5 496 357.9 496.1 356.4C496.3 354.8 496.4 353.2 496.6 351.7C496.7 350.1 496.9 348.5 497 346.9C497.2 345.3 497.3 343.7 497.5 342C497.7 340.4 497.8 338.8 498 337.1C498.2 335.4 498.4 333.7 498.6 332C498.8 330.2 499 328.4 499.2 326.6C499.4 324.8 499.6 322.9 499.9 321C500.1 319.1 500.3 317.2 500.6 315.2C500.9 313.2 501.2 311.1 501.5 309.1C501.8 307.2 502.2 305.1 502.6 303.2C503.1 301.3 503.5 299.4 504.1 297.7C504.6 296 505.3 294.4 506 293C506.7 291.6 507.5 290.3 508.3 289.2C509.1 288.2 510 287.4 510.9 286.9C511.7 286.4 512.6 286.1 513.5 286.3C514.3 286.4 515.1 286.9 515.8 287.7C516.5 288.5 517.2 289.7 517.8 291.2C518.4 292.6 518.9 294.4 519.4 296.2C519.9 298.1 520.3 300.2 520.6 302.4C521 304.5 521.3 306.7 521.6 308.9C521.8 311.1 522 313.3 522.1 315.3C522.3 317.4 522.4 319.3 522.4 321.2C522.5 323 522.5 324.8 522.5 326.5C522.4 328.2 522.4 329.8 522.3 331.4C522.2 333 522.1 334.6 522 336.2C521.9 337.8 521.7 339.4 521.6 341C521.5 342.6 521.3 344.2 521.2 345.8C521 347.4 520.8 349 520.7 350.6C520.5 352.3 520.3 353.9 520.1 355.5C519.9 357.2 519.7 358.8 519.5 360.4C519.3 362.1 519.1 363.7 518.9 365.3C518.6 367 518.4 368.6 518.2 370.3C518 371.9 517.7 373.6 517.5 375.2C517.3 376.8 517.1 378.5 516.8 380.1C516.6 381.8 516.4 383.4 516.2 385.1C515.9 386.7 515.7 388.4 515.5 390C515.3 391.7 515 393.3 514.8 395C514.6 396.6 514.4 398.3 514.1 399.9C513.9 401.6 513.7 403.2 513.5 404.9C513.2 406.5 513 408.2 512.8 409.8C512.6 411.5 512.4 413.1 512.1 414.8C511.9 416.4 511.7 418.1 511.5 419.7C511.3 421.4 511 423 510.8 424.7C510.6 426.3 510.4 428 510.2 429.6C509.9 431.3 509.7 432.9 509.5 434.6C509.3 436.2 509.1 437.9 508.9 439.5C508.7 441.2 508.4 442.8 508.2 444.5C508 446.1 507.8 447.8 507.6 449.4C507.4 451.1 507.2 452.7 507 454.4C506.7 456 506.5 457.7 506.3 459.3C506.1 461 505.9 462.6 505.7 464.3C505.5 465.9 505.3 467.6 505.1 469.2C504.9 470.9 504.6 472.5 504.4 474.2C504.2 475.8 504 477.5 503.8 479.1C503.6 480.8 503.4 482.4 503.2 484.1C503 485.7 502.8 487.4 502.6 489C502.4 490.7 502.2 492.3 502 494C501.8 495.6 501.6 497.3 501.4 498.9C501.3 500.6 501.1 502.2 500.9 503.9C500.7 505.5 500.5 507.2 500.3 508.8C500.1 510.5 499.9 512.2 499.8 513.8C499.6 515.5 499.4 517.1 499.2 518.8C499.1 520.4 498.9 522.1 498.7 523.7C498.5 525.4 498.4 527 498.2 528.7C498 530.3 497.9 532 497.7 533.6C497.6 535.3 497.4 537 497.2 538.6C497.1 540.3 496.9 541.9 496.8 543.6C496.6 545.2 496.5 546.9 496.4 548.5C496.2 550.2 496.1 551.9 495.9 553.5C495.8 555.2 495.7 556.8 495.5 558.5C495.4 560.1 495.3 561.8 495.2 563.5C495.1 565.1 494.9 566.8 494.8 568.4C494.7 570.1 494.6 571.7 494.5 573.4C494.4 575.1 494.3 576.7 494.2 578.4C494.1 580 494 581.7 493.9 583.4C493.8 585 493.7 586.7 493.7 588.3C493.6 590 493.5 591.7 493.5 593.3C493.4 595 493.3 596.6 493.3 598.3C493.2 600 493.1 601.6 493.1 603.3C493 605 493 606.6 493 608.3C492.9 610 492.9 611.6 492.9 613.3C492.8 614.9 492.8 616.6 492.8 618.3C492.8 619.9 492.8 622.4 492.8 623.3Z" fill="#e9e9e9" stroke="#000" stroke-opacity="0.85" stroke-width="0.9" stroke-linejoin="round"/>
<path d="M478.1 595.6C477.9 594.7 477.4 592.3 477.1 590.6C476.8 589 476.5 587.4 476.2 585.7C475.9 584.1 475.7 582.4 475.5 580.8C475.3 579.1 475.1 577.5 474.9 575.8C474.7 574.2 474.6 572.6 474.4 570.9C474.3 569.3 474.2 567.6 474.1 566C474 564.3 473.9 562.7 473.9 561C473.8 559.4 473.8 557.7 473.7 556.1C473.7 554.4 473.7 552.8 473.7 551.1C473.7 549.5 473.7 547.8 473.8 546.2C473.8 544.5 473.9 542.8 473.9 541.2C474 539.5 474.1 537.9 474.2 536.2C474.2 534.6 474.3 532.9 474.5 531.3C474.6 529.6 474.7 528 474.8 526.3C475 524.7 475.1 523 475.3 521.3C475.4 519.7 475.6 518 475.8 516.4C476 514.7 476.2 513.1 476.3 511.4C476.5 509.8 476.7 508.1 476.9 506.5C477.2 504.8 477.4 503.1 477.6 501.5C477.8 499.8 478 498.2 478.3 496.5C478.5 494.9 478.7 493.2 479 491.6C479.2 489.9 479.5 488.3 479.7 486.6C479.9 485 480.2 483.3 480.4 481.7C480.7 480 480.9 478.4 481.2 476.7C481.4 475 481.7 473.4 482 471.8C482.2 470.1 482.5 468.5 482.7 466.8C483 465.2 483.2 463.5 483.5 461.9C483.7 460.2 484 458.6 484.2 456.9C484.4 455.3 484.7 453.6 484.9 452C485.2 450.3 485.4 448.7 485.6 447.1C485.8 445.4 486.1 443.8 486.3 442.1C486.5 440.5 486.7 438.8 487 437.2C487.2 435.6 487.4 433.9 487.6 432.3C487.8 430.6 488.1 429 488.3 427.4C488.5 425.7 488.7 424.1 488.9 422.4C489.1 420.8 489.3 419.1 489.5 417.5C489.8 415.8 490 414.2 490.2 412.6C490.4 410.9 490.6 409.3 490.8 407.6C491 406 491.3 404.3 491.5 402.7C491.7 401 491.9 399.4 492.1 397.7C492.4 396.1 492.6 394.4 492.8 392.7C493 391.1 493.3 389.4 493.5 387.8C493.7 386.1 494 384.4 494.2 382.8C494.4 381.2 494.6 379.5 494.8 377.9C495 376.3 495.2 374.7 495.4 373.2C495.6 371.6 495.8 370.1 496 368.5C496.1 367 496.3 365.4 496.4 363.8C496.6 362.1 496.7 360.4 496.9 358.7C497.1 356.9 497.2 355 497.4 353.1C497.6 351.2 497.8 349.3 498.1 347.3C498.4 345.3 498.7 343.3 499.2 341.3C499.6 339.4 500.1 337.3 500.6 335.5C501.2 333.7 501.8 331.9 502.4 330.5C503 329.1 503.7 327.9 504.4 327.2C505 326.6 505.7 326.3 506.4 326.5C507 326.8 507.7 327.6 508.3 328.7C508.9 329.8 509.5 331.3 510 332.9C510.5 334.6 511 336.5 511.4 338.4C511.8 340.4 512.1 342.5 512.4 344.4C512.6 346.3 512.7 348.2 512.7 350C512.8 351.8 512.7 353.5 512.7 355.2C512.6 356.8 512.5 358.4 512.3 360C512.2 361.7 512.1 363.3 512 364.9C511.9 366.5 511.7 368.1 511.6 369.8C511.5 371.4 511.4 373 511.3 374.6C511.1 376.3 511 377.9 510.9 379.5C510.8 381.2 510.6 382.8 510.5 384.4C510.4 386.1 510.2 387.7 510.1 389.3C509.9 391 509.8 392.6 509.6 394.2C509.5 395.9 509.3 397.5 509.2 399.2C509 400.8 508.8 402.5 508.7 404.1C508.5 405.8 508.3 407.4 508.2 409C508 410.7 507.8 412.3 507.6 414C507.4 415.6 507.3 417.3 507.1 418.9C506.9 420.6 506.7 422.3 506.5 423.9C506.3 425.6 506.1 427.2 505.9 428.9C505.8 430.5 505.6 432.2 505.4 433.8C505.2 435.5 505 437.1 504.8 438.8C504.6 440.5 504.4 442.1 504.2 443.8C504.1 445.4 503.9 447.1 503.7 448.8C503.5 450.4 503.3 452.1 503.1 453.7C503 455.4 502.8 457 502.6 458.7C502.4 460.4 502.3 462 502.1 463.7C501.9 465.3 501.7 467 501.6 468.6C501.4 470.3 501.3 472 501.1 473.6C500.9 475.3 500.8 476.9 500.6 478.6C500.4 480.2 500.3 481.9 500.1 483.6C500 485.2 499.8 486.9 499.6 488.5C499.5 490.2 499.3 491.8 499.1 493.5C499 495.1 498.8 496.8 498.6 498.4C498.4 500.1 498.3 501.7 498.1 503.4C497.9 505 497.7 506.7 497.5 508.3C497.4 510 497.2 511.6 497 513.3C496.8 514.9 496.6 516.6 496.4 518.2C496.2 519.9 496 521.5 495.7 523.2C495.5 524.8 495.3 526.4 495.1 528.1C494.8 529.7 494.6 531.4 494.4 533C494.1 534.6 493.9 536.3 493.6 537.9C493.3 539.5 493.1 541.2 492.8 542.8C492.5 544.4 492.2 546.1 491.9 547.7C491.6 549.3 491.3 551 491 552.6C490.7 554.2 490.4 555.8 490 557.5C489.7 559.1 489.3 560.7 489 562.3C488.6 564 488.3 565.6 487.9 567.2C487.5 568.8 487.1 570.4 486.7 572C486.3 573.7 485.8 575.3 485.4 576.9C485 578.5 484.5 580.1 484 581.7C483.6 583.3 482.8 585.7 482.6 586.5Z" fill="#e4e4e4" stroke="#000" stroke-opacity="0.85" stroke-width="0.9" stroke-linejoin="round"/>
<path d="M483.1 552C483 551.2 482.5 548.7 482.3 547C482 545.4 481.8 543.7 481.6 542.1C481.4 540.4 481.2 538.8 481.1 537.1C480.9 535.4 480.8 533.8 480.7 532.1C480.6 530.5 480.5 528.8 480.4 527.1C480.4 525.5 480.4 523.8 480.4 522.2C480.3 520.5 480.4 518.8 480.4 517.2C480.4 515.5 480.5 513.9 480.5 512.2C480.6 510.5 480.7 508.9 480.8 507.2C480.9 505.6 481 503.9 481.1 502.2C481.2 500.6 481.4 498.9 481.5 497.2C481.7 495.6 481.8 493.9 482 492.3C482.2 490.6 482.4 488.9 482.6 487.3C482.8 485.6 483 483.9 483.2 482.3C483.4 480.6 483.6 478.9 483.8 477.3C484 475.6 484.3 473.9 484.5 472.3C484.7 470.6 484.9 468.9 485.2 467.3C485.4 465.6 485.7 463.9 485.9 462.3C486.1 460.6 486.4 458.9 486.6 457.2C486.8 455.6 487.1 453.9 487.3 452.2C487.5 450.6 487.7 448.9 488 447.2C488.2 445.5 488.4 443.9 488.6 442.2C488.8 440.5 489.1 438.9 489.3 437.2C489.5 435.6 489.7 433.9 489.9 432.2C490.2 430.6 490.4 428.9 490.6 427.3C490.8 425.7 491 424 491.2 422.4C491.4 420.8 491.6 419.1 491.8 417.5C492.1 415.9 492.3 414.3 492.5 412.7C492.7 411.1 492.9 409.5 493.1 407.9C493.3 406.3 493.5 404.8 493.7 403.1C493.9 401.5 494.1 399.9 494.3 398.2C494.5 396.4 494.6 394.7 494.9 392.8C495.1 390.9 495.3 388.9 495.6 386.8C495.9 384.7 496.3 382.4 496.7 380.3C497.1 378.3 497.5 376.2 498 374.7C498.4 373.1 498.9 371.8 499.4 371.2C499.9 370.6 500.4 370.7 500.9 371.3C501.3 371.9 501.8 373.4 502.2 374.9C502.6 376.4 502.9 378.4 503.1 380.4C503.4 382.3 503.5 384.5 503.6 386.6C503.7 388.7 503.7 390.8 503.8 392.8C503.8 394.8 503.8 396.7 503.8 398.5C503.8 400.3 503.8 402 503.8 403.7C503.8 405.3 503.7 406.9 503.7 408.5C503.6 410.1 503.6 411.7 503.5 413.3C503.4 414.8 503.3 416.4 503.2 418C503.1 419.5 503 421.1 502.9 422.8C502.8 424.4 502.7 426 502.6 427.6C502.5 429.3 502.4 430.9 502.2 432.6C502.1 434.2 502 435.9 501.8 437.6C501.7 439.3 501.5 441 501.4 442.6C501.2 444.3 501.1 446 500.9 447.7C500.7 449.4 500.6 451.1 500.4 452.8C500.2 454.5 500.1 456.2 499.9 457.9C499.7 459.6 499.6 461.2 499.4 462.9C499.2 464.6 499 466.3 498.8 467.9C498.7 469.6 498.5 471.3 498.3 473C498.1 474.6 497.9 476.3 497.7 477.9C497.5 479.6 497.3 481.3 497.1 482.9C496.9 484.6 496.7 486.2 496.4 487.9C496.2 489.5 496 491.2 495.8 492.8C495.5 494.5 495.3 496.1 495.1 497.8C494.8 499.4 494.6 501 494.3 502.7C494.1 504.3 493.8 506 493.5 507.6C493.3 509.2 493 510.9 492.7 512.5C492.4 514.2 492.1 515.8 491.8 517.4C491.5 519.1 491.2 520.7 490.9 522.3C490.6 524 490.3 525.6 489.9 527.2C489.6 528.9 489.2 530.5 488.9 532.2C488.5 533.8 488.2 535.4 487.8 537.1C487.4 538.7 487 540.3 486.6 542C486.2 543.6 485.6 546.1 485.4 546.9Z" fill="#dfdfdf" stroke="#000" stroke-opacity="0.85" stroke-width="0.9" stroke-linejoin="round"/>
<path d="M449.8 51.6C449.7 52.2 449.5 54.1 449.4 55.4C449.3 56.7 449.1 58 449 59.3C448.9 60.6 448.8 61.9 448.7 63.2C448.6 64.6 448.5 65.9 448.4 67.2C448.4 68.6 448.3 69.9 448.2 71.3C448.1 72.6 448.1 74 448 75.3C448 76.7 447.9 78.1 447.9 79.4C447.8 80.8 447.8 82.1 447.7 83.5C447.7 84.8 447.7 86.2 447.7 87.5C447.7 88.9 447.6 90.2 447.6 91.5C447.6 92.9 447.6 94.2 447.7 95.5C447.7 96.8 447.7 98.1 447.7 99.4C447.7 100.7 447.8 102 447.8 103.3C447.8 104.6 447.9 105.8 447.9 107.1C448 108.3 448.1 109.6 448.1 110.9C448.2 112.1 448.3 113.4 448.4 114.6C448.5 115.9 448.6 117.2 448.7 118.5C448.9 119.8 449 121.1 449.2 122.4C449.3 123.8 449.5 125.1 449.7 126.5C449.9 127.9 450.1 129.3 450.3 130.7C450.5 132.2 450.8 133.7 451 135.2C451.3 136.7 451.7 138.2 452.1 139.7C452.4 141.2 452.9 142.8 453.4 144.2C453.9 145.7 454.5 147.2 455.2 148.5C455.8 149.7 456.5 150.9 457.2 151.6C458 152.3 458.8 152.8 459.5 152.8C460.3 152.9 461.2 152.5 461.9 151.9C462.7 151.4 463.5 150.5 464.2 149.5C465 148.5 465.7 147.2 466.3 146C467 144.7 467.5 143.3 468.1 141.8C468.6 140.4 469 138.9 469.5 137.4C469.9 136 470.3 134.4 470.7 133C471 131.5 471.4 130 471.8 128.6C472.2 127.2 472.5 125.9 472.9 124.5C473.3 123.2 473.6 121.9 474 120.6C474.3 119.4 474.7 118.1 475 116.9C475.4 115.7 475.7 114.5 476.1 113.2C476.4 112 476.8 110.8 477.1 109.6C477.4 108.4 477.8 107.2 478.1 105.9C478.4 104.7 478.7 103.5 479 102.2C479.3 101 479.6 99.7 479.9 98.4C480.2 97.1 480.5 95.9 480.8 94.6C481.1 93.3 481.3 92 481.6 90.7C481.9 89.3 482.2 88 482.4 86.7C482.7 85.4 483 84.1 483.3 82.7C483.5 81.4 483.8 80.1 484.1 78.8C484.4 77.4 484.6 76.1 484.9 74.8C485.2 73.5 485.5 72.1 485.7 70.8C486 69.5 486.3 68.2 486.6 66.9C486.9 65.6 487.2 64.3 487.4 63C487.7 61.7 488 60.4 488.3 59.1C488.7 57.8 489 56.6 489.3 55.3C489.6 54.1 490.1 52.2 490.3 51.6Z" fill="#f3f3f3" stroke="#000" stroke-opacity="0.85" stroke-width="0.9" stroke-linejoin="round"/>
<path d="M461.7 51.6C461.6 52.1 461.6 53.5 461.6 54.5C461.5 55.5 461.5 56.6 461.5 57.6C461.4 58.6 461.4 59.7 461.4 60.7C461.3 61.7 461.3 62.8 461.3 63.8C461.2 64.8 461.2 65.9 461.2 66.9C461.2 67.9 461.2 68.8 461.2 69.8C461.2 70.8 461.2 71.7 461.3 72.7C461.3 73.6 461.3 74.5 461.4 75.5C461.4 76.5 461.5 77.4 461.5 78.4C461.6 79.4 461.6 80.4 461.7 81.4C461.8 82.4 461.8 83.5 461.9 84.6C462 85.6 462.1 86.7 462.2 87.8C462.4 88.9 462.5 90 462.7 91.1C462.9 92.2 463.2 93.4 463.5 94.5C463.8 95.6 464.1 96.7 464.5 97.8C464.9 98.8 465.4 99.9 465.9 100.7C466.4 101.6 466.9 102.4 467.5 102.9C468 103.4 468.6 103.7 469.1 103.6C469.7 103.5 470.2 103.1 470.8 102.6C471.3 102 471.8 101.1 472.3 100.2C472.7 99.2 473.2 98.1 473.6 96.9C474 95.8 474.3 94.6 474.7 93.4C475 92.2 475.3 91 475.6 89.9C475.9 88.7 476.2 87.6 476.4 86.6C476.7 85.5 477 84.6 477.2 83.6C477.5 82.6 477.7 81.7 478 80.8C478.2 79.9 478.4 79 478.7 78.1C478.9 77.2 479.1 76.2 479.4 75.3C479.6 74.4 479.8 73.4 480.1 72.4C480.3 71.5 480.5 70.5 480.8 69.5C481 68.5 481.2 67.5 481.4 66.5C481.7 65.5 481.9 64.5 482.1 63.5C482.3 62.5 482.5 61.5 482.7 60.5C482.9 59.5 483.1 58.5 483.3 57.5C483.5 56.5 483.6 55.5 483.8 54.5C484 53.5 484.2 52.1 484.3 51.6Z" fill="#eeeeee" stroke="#000" stroke-opacity="0.85" stroke-width="0.9" stroke-linejoin="round"/>
<path d="M469 51.6C469.2 52 469.6 53.2 469.9 54.2C470.3 55.2 470.6 56.6 471 57.8C471.4 58.9 471.8 60.4 472.4 61.2C472.9 62.1 473.5 62.9 474.1 62.9C474.7 62.9 475.3 62.1 475.8 61.2C476.3 60.4 476.8 58.9 477.2 57.8C477.6 56.6 477.9 55.2 478.2 54.2C478.6 53.2 479 52 479.2 51.6Z" fill="#e9e9e9" stroke="#000" stroke-opacity="0.85" stroke-width="0.9" stroke-linejoin="round"/>
<path d="M494.5 51.6C494.4 52.4 494.2 54.9 494.1 56.5C493.9 58.2 493.8 59.9 493.6 61.5C493.5 63.2 493.3 64.8 493.2 66.5C493 68.2 492.8 69.8 492.6 71.5C492.5 73.1 492.3 74.8 492.1 76.5C491.9 78.1 491.7 79.8 491.5 81.4C491.3 83.1 491.1 84.8 490.9 86.4C490.7 88.1 490.4 89.7 490.2 91.4C490 93 489.8 94.7 489.5 96.4C489.3 98 489.1 99.7 488.8 101.3C488.6 103 488.3 104.6 488.1 106.3C487.8 108 487.5 109.6 487.3 111.3C487 112.9 486.7 114.6 486.5 116.2C486.2 117.9 485.9 119.5 485.6 121.2C485.3 122.8 485.1 124.5 484.8 126.1C484.5 127.8 484.2 129.4 483.9 131.1C483.6 132.7 483.3 134.4 483 136C482.7 137.7 482.4 139.3 482 141C481.7 142.6 481.4 144.2 481.1 145.9C480.8 147.5 480.5 149.2 480.1 150.8C479.8 152.4 479.5 154.1 479.1 155.7C478.8 157.3 478.5 159 478.1 160.6C477.8 162.2 477.5 163.9 477.1 165.5C476.8 167.1 476.4 168.8 476.1 170.4C475.8 172 475.4 173.6 475.1 175.3C474.7 176.9 474.4 178.5 474 180.2C473.7 181.8 473.3 183.4 473 185C472.6 186.7 472.3 188.3 471.9 189.9C471.6 191.5 471.2 193.1 470.9 194.8C470.5 196.4 470.2 198 469.8 199.6C469.5 201.3 469.1 202.9 468.8 204.5C468.5 206.1 468.1 207.8 467.8 209.4C467.4 211 467.1 212.7 466.7 214.3C466.4 215.9 466.1 217.5 465.7 219.2C465.4 220.8 465.1 222.4 464.7 224.1C464.4 225.7 464.1 227.3 463.7 229C463.4 230.6 463.1 232.2 462.8 233.9C462.4 235.5 462.1 237.1 461.8 238.8C461.5 240.4 461.2 242.1 460.9 243.7C460.6 245.4 460.3 247 460 248.6C459.7 250.3 459.4 251.9 459.1 253.6C458.8 255.2 458.5 256.9 458.2 258.6C458 260.2 457.7 261.9 457.4 263.5C457.2 265.2 456.9 266.9 456.6 268.5C456.4 270.2 456.1 271.9 455.9 273.5C455.6 275.2 455.4 276.9 455.1 278.5C454.9 280.2 454.7 281.9 454.4 283.6C454.2 285.2 454 286.9 453.8 288.6C453.5 290.2 453.3 291.9 453.1 293.6C452.9 295.3 452.7 296.9 452.5 298.6C452.3 300.3 452.1 301.9 451.9 303.6C451.7 305.3 451.5 307 451.4 308.6C451.2 310.3 451 312 450.8 313.6C450.7 315.3 450.5 317 450.3 318.6C450.2 320.3 450 321.9 449.9 323.6C449.7 325.3 449.6 326.9 449.4 328.6C449.3 330.2 449.1 331.9 449 333.5C448.9 335.2 448.7 336.8 448.6 338.5C448.5 340.1 448.4 341.7 448.3 343.4C448.1 345 448 346.6 447.9 348.3C447.8 349.9 447.7 351.5 447.6 353.1C447.5 354.8 447.4 356.4 447.3 358C447.3 359.6 447.2 361.2 447.1 362.8C447 364.4 447 366 446.9 367.6C446.8 369.3 446.8 370.9 446.8 372.5C446.7 374.1 446.7 375.8 446.7 377.4C446.7 379.1 446.7 380.7 446.7 382.4C446.7 384.1 446.7 385.8 446.8 387.5C446.8 389.2 446.9 391 447 392.7C447 394.5 447.1 396.3 447.3 398.1C447.4 399.9 447.5 401.8 447.7 403.6C447.8 405.5 448 407.4 448.2 409.3C448.5 411.2 448.7 413.1 449 415C449.3 416.9 449.7 418.8 450.1 420.5C450.5 422.3 450.9 424.1 451.4 425.8C451.9 427.5 452.5 429.1 453.2 430.6C453.8 432.1 454.6 433.6 455.3 434.6C456.1 435.7 456.9 436.5 457.8 436.8C458.6 437 459.4 436.7 460.2 436.1C461 435.4 461.8 434.2 462.6 432.8C463.3 431.5 464 429.7 464.6 427.9C465.3 426.1 465.9 424.1 466.4 422.1C466.9 420.1 467.4 418 467.8 416C468.2 414 468.6 412 469 410.2C469.4 408.3 469.7 406.6 470.1 404.8C470.4 403.1 470.8 401.5 471.1 399.9C471.5 398.3 471.8 396.7 472.2 395.1C472.5 393.5 472.9 391.9 473.3 390.4C473.7 388.8 474.1 387.2 474.4 385.6C474.8 384 475.2 382.4 475.6 380.8C476 379.2 476.4 377.6 476.8 376C477.2 374.4 477.6 372.8 477.9 371.2C478.3 369.6 478.7 368 479 366.4C479.4 364.8 479.8 363.2 480.1 361.5C480.5 359.9 480.8 358.3 481.2 356.7C481.5 355 481.9 353.4 482.2 351.8C482.6 350.1 482.9 348.5 483.2 346.9C483.6 345.2 483.9 343.6 484.2 342C484.6 340.3 484.9 338.7 485.2 337C485.6 335.4 485.9 333.8 486.2 332.1C486.6 330.5 486.9 328.8 487.2 327.2C487.5 325.6 487.9 323.9 488.2 322.3C488.5 320.6 488.9 319 489.2 317.4C489.5 315.7 489.9 314.1 490.2 312.5C490.5 310.8 490.9 309.2 491.2 307.5C491.5 305.9 491.8 304.3 492.2 302.6C492.5 301 492.8 299.4 493.2 297.7C493.5 296.1 493.9 294.5 494.2 292.8C494.5 291.2 494.9 289.6 495.2 287.9C495.5 286.3 495.9 284.7 496.2 283C496.5 281.4 496.9 279.8 497.2 278.2C497.6 276.5 497.9 274.9 498.2 273.3C498.6 271.6 498.9 270 499.3 268.4C499.6 266.7 500 265.1 500.3 263.5C500.6 261.8 501 260.2 501.3 258.6C501.7 257 502 255.3 502.4 253.7C502.7 252.1 503.1 250.4 503.4 248.8C503.8 247.2 504.1 245.6 504.5 243.9C504.8 242.3 505.2 240.7 505.5 239C505.9 237.4 506.2 235.8 506.6 234.1C507 232.5 507.3 230.9 507.7 229.3C508 227.6 508.4 226 508.8 224.4C509.1 222.7 509.5 221.1 509.8 219.5C510.2 217.9 510.6 216.2 510.9 214.6C511.3 213 511.7 211.3 512.1 209.7C512.4 208.1 512.8 206.4 513.2 204.8C513.5 203.2 513.9 201.6 514.3 199.9C514.7 198.3 515.1 196.7 515.4 195C515.8 193.4 516.2 191.8 516.6 190.2C517 188.5 517.4 186.9 517.8 185.3C518.2 183.7 518.6 182 519 180.4C519.4 178.8 519.8 177.2 520.2 175.5C520.6 173.9 521 172.3 521.4 170.7C521.8 169.1 522.2 167.4 522.6 165.8C523 164.2 523.4 162.6 523.9 161C524.3 159.3 524.7 157.7 525.1 156.1C525.6 154.5 526 152.9 526.4 151.3C526.9 149.6 527.3 148 527.7 146.4C528.2 144.8 528.6 143.2 529.1 141.6C529.5 140 530 138.4 530.4 136.8C530.9 135.1 531.3 133.5 531.8 131.9C532.3 130.3 532.7 128.7 533.2 127.1C533.7 125.5 534.1 123.9 534.6 122.3C535.1 120.7 535.6 119.1 536.1 117.5C536.6 115.9 537.1 114.3 537.5 112.7C538 111.1 538.5 109.6 539.1 108C539.6 106.4 540.1 104.8 540.6 103.2C541.1 101.6 541.6 100 542.1 98.4C542.7 96.9 543.2 95.3 543.7 93.7C544.3 92.1 544.8 90.5 545.4 89C545.9 87.4 546.4 85.8 547 84.3C547.6 82.7 548.1 81.1 548.7 79.5C549.3 78 549.8 76.4 550.4 74.8C551 73.3 551.6 71.7 552.2 70.2C552.7 68.6 553.3 67.1 553.9 65.5C554.5 63.9 555.1 62.4 555.8 60.8C556.4 59.3 557 57.7 557.6 56.2C558.2 54.7 559.2 52.3 559.5 51.6" fill="none" stroke="#000" stroke-opacity="0.85" stroke-width="0.9" stroke-linejoin="round"/>
<path d="M495.9 51.6C495.8 52.4 495.6 54.8 495.5 56.5C495.3 58.1 495.1 59.8 495 61.4C494.8 63.1 494.7 64.7 494.5 66.3C494.3 68 494.2 69.6 494 71.3C493.9 72.9 493.7 74.6 493.5 76.3C493.4 77.9 493.2 79.6 493.1 81.2C492.9 82.9 492.7 84.5 492.6 86.2C492.4 87.9 492.2 89.5 492 91.2C491.9 92.8 491.7 94.5 491.5 96.2C491.3 97.8 491.2 99.5 491 101.2C490.8 102.8 490.6 104.5 490.4 106.1C490.2 107.8 490 109.5 489.8 111.1C489.6 112.8 489.4 114.4 489.2 116.1C489 117.8 488.8 119.4 488.6 121.1C488.4 122.7 488.2 124.4 487.9 126C487.7 127.7 487.5 129.3 487.2 131C487 132.6 486.8 134.3 486.5 135.9C486.3 137.6 486 139.2 485.8 140.8C485.5 142.5 485.3 144.1 485 145.7C484.7 147.4 484.5 149 484.2 150.6C483.9 152.3 483.6 153.9 483.3 155.5C483.1 157.1 482.8 158.8 482.5 160.4C482.2 162 481.9 163.6 481.6 165.3C481.3 166.9 481 168.5 480.7 170.1C480.4 171.7 480.1 173.4 479.8 175C479.5 176.6 479.2 178.2 478.9 179.8C478.6 181.5 478.3 183.1 478 184.7C477.7 186.3 477.4 187.9 477.1 189.6C476.8 191.2 476.5 192.8 476.2 194.4C475.9 196.1 475.6 197.7 475.3 199.3C475 200.9 474.7 202.6 474.4 204.2C474.1 205.8 473.8 207.5 473.5 209.1C473.2 210.8 472.9 212.4 472.6 214C472.4 215.7 472.1 217.3 471.8 219C471.5 220.6 471.3 222.3 471 223.9C470.7 225.6 470.5 227.2 470.2 228.9C470 230.6 469.7 232.2 469.5 233.9C469.2 235.6 469 237.2 468.8 238.9C468.5 240.6 468.3 242.2 468.1 243.9C467.8 245.6 467.6 247.2 467.4 248.9C467.2 250.6 467 252.3 466.8 253.9C466.6 255.6 466.4 257.3 466.2 258.9C466 260.6 465.8 262.3 465.6 263.9C465.4 265.6 465.2 267.3 465.1 268.9C464.9 270.6 464.7 272.3 464.6 273.9C464.4 275.6 464.2 277.2 464.1 278.9C463.9 280.5 463.8 282.2 463.6 283.8C463.5 285.4 463.4 287.1 463.2 288.7C463.1 290.3 463 292 462.8 293.6C462.7 295.2 462.6 296.8 462.5 298.4C462.4 300 462.3 301.6 462.2 303.2C462.1 304.8 462 306.4 461.9 308C461.8 309.6 461.7 311.1 461.7 312.7C461.6 314.3 461.5 315.9 461.4 317.4C461.4 319 461.3 320.6 461.3 322.2C461.3 323.8 461.2 325.4 461.2 327.1C461.2 328.7 461.2 330.4 461.2 332.1C461.2 333.8 461.2 335.5 461.2 337.2C461.3 339 461.3 340.8 461.4 342.6C461.4 344.5 461.5 346.4 461.6 348.3C461.7 350.2 461.8 352.2 461.9 354.3C462 356.3 462.2 358.4 462.4 360.3C462.6 362.3 462.8 364.3 463.1 366.2C463.4 368 463.8 369.8 464.2 371.3C464.7 372.8 465.2 374.3 465.8 375.4C466.3 376.4 467 377.2 467.6 377.4C468.3 377.6 469 377.3 469.7 376.6C470.4 375.9 471.1 374.5 471.7 373C472.3 371.5 472.9 369.5 473.4 367.6C474 365.7 474.4 363.5 474.9 361.4C475.3 359.3 475.7 357.2 476.1 355.2C476.5 353.2 476.9 351.4 477.2 349.6C477.5 347.8 477.9 346.1 478.2 344.5C478.5 342.8 478.8 341.2 479.1 339.6C479.5 338 479.8 336.4 480.1 334.9C480.4 333.3 480.7 331.7 481 330.2C481.3 328.6 481.6 327.1 481.9 325.5C482.2 323.9 482.5 322.4 482.8 320.8C483 319.2 483.3 317.6 483.6 316C483.8 314.4 484.1 312.7 484.3 311.1C484.5 309.5 484.8 307.8 485 306.2C485.2 304.6 485.4 302.9 485.7 301.3C485.9 299.6 486.1 297.9 486.3 296.3C486.5 294.6 486.8 293 487 291.3C487.2 289.6 487.4 288 487.7 286.3C487.9 284.6 488.1 283 488.4 281.3C488.6 279.7 488.9 278 489.1 276.4C489.4 274.7 489.7 273 489.9 271.4C490.2 269.7 490.5 268.1 490.8 266.5C491 264.8 491.3 263.2 491.6 261.5C491.9 259.9 492.2 258.3 492.5 256.6C492.8 255 493.1 253.4 493.4 251.7C493.7 250.1 494 248.5 494.4 246.8C494.7 245.2 495 243.6 495.3 241.9C495.7 240.3 496 238.7 496.3 237.1C496.6 235.4 497 233.8 497.3 232.2C497.6 230.6 498 228.9 498.3 227.3C498.7 225.7 499 224.1 499.3 222.5C499.7 220.8 500 219.2 500.4 217.6C500.7 216 501 214.4 501.4 212.7C501.7 211.1 502.1 209.5 502.4 207.9C502.8 206.3 503.1 204.6 503.5 203C503.8 201.4 504.1 199.8 504.5 198.1C504.8 196.5 505.2 194.9 505.5 193.3C505.9 191.6 506.2 190 506.5 188.4C506.9 186.8 507.2 185.2 507.6 183.5C507.9 181.9 508.2 180.3 508.6 178.7C508.9 177 509.2 175.4 509.6 173.8C509.9 172.1 510.3 170.5 510.6 168.9C510.9 167.3 511.3 165.6 511.6 164C511.9 162.4 512.3 160.8 512.6 159.1C512.9 157.5 513.3 155.9 513.6 154.2C513.9 152.6 514.3 151 514.6 149.4C514.9 147.7 515.3 146.1 515.6 144.5C515.9 142.8 516.3 141.2 516.6 139.6C516.9 137.9 517.2 136.3 517.6 134.7C517.9 133.1 518.2 131.4 518.6 129.8C518.9 128.2 519.2 126.5 519.5 124.9C519.9 123.3 520.2 121.6 520.5 120C520.9 118.4 521.2 116.8 521.5 115.1C521.8 113.5 522.2 111.9 522.5 110.2C522.8 108.6 523.1 107 523.5 105.3C523.8 103.7 524.1 102.1 524.4 100.4C524.8 98.8 525.1 97.2 525.4 95.6C525.7 93.9 526 92.3 526.4 90.7C526.7 89 527 87.4 527.3 85.8C527.7 84.1 528 82.5 528.3 80.9C528.6 79.3 528.9 77.6 529.3 76C529.6 74.4 529.9 72.7 530.2 71.1C530.5 69.5 530.9 67.9 531.2 66.2C531.5 64.6 531.8 63 532.1 61.3C532.5 59.7 532.8 58.1 533.1 56.5C533.4 54.8 533.9 52.4 534 51.6" fill="none" stroke="#000" stroke-opacity="0.85" stroke-width="0.9" stroke-linejoin="round"/>
<path d="M497.5 51.6C497.5 52.4 497.3 54.9 497.2 56.5C497 58.2 496.9 59.8 496.8 61.5C496.6 63.2 496.5 64.8 496.3 66.5C496.2 68.2 496 69.8 495.9 71.5C495.7 73.2 495.6 74.8 495.4 76.5C495.2 78.2 495 79.8 494.9 81.5C494.7 83.2 494.5 84.8 494.3 86.5C494.1 88.2 494 89.9 493.8 91.5C493.6 93.2 493.4 94.9 493.2 96.6C493 98.2 492.8 99.9 492.6 101.6C492.4 103.2 492.2 104.9 492 106.6C491.8 108.3 491.5 109.9 491.3 111.6C491.1 113.3 490.9 114.9 490.7 116.6C490.5 118.2 490.2 119.9 490 121.6C489.8 123.2 489.6 124.9 489.4 126.5C489.1 128.2 488.9 129.9 488.7 131.5C488.5 133.2 488.2 134.8 488 136.5C487.8 138.1 487.5 139.7 487.3 141.4C487.1 143 486.8 144.7 486.6 146.3C486.4 148 486.1 149.6 485.9 151.3C485.7 152.9 485.4 154.5 485.2 156.2C485 157.8 484.7 159.5 484.5 161.1C484.2 162.7 484 164.4 483.8 166C483.5 167.7 483.3 169.3 483 171C482.8 172.6 482.6 174.3 482.3 175.9C482.1 177.6 481.8 179.2 481.6 180.9C481.3 182.5 481.1 184.2 480.9 185.8C480.6 187.5 480.4 189.1 480.1 190.8C479.9 192.5 479.6 194.1 479.4 195.8C479.1 197.5 478.9 199.1 478.6 200.8C478.4 202.5 478.1 204.2 477.9 205.8C477.6 207.5 477.4 209.2 477.1 210.9C476.9 212.6 476.7 214.2 476.4 215.9C476.2 217.6 475.9 219.3 475.7 221C475.5 222.7 475.2 224.3 475 226C474.8 227.7 474.6 229.4 474.4 231.1C474.1 232.7 473.9 234.4 473.7 236.1C473.5 237.8 473.3 239.4 473.1 241.1C472.9 242.7 472.7 244.4 472.6 246.1C472.4 247.7 472.2 249.4 472.1 251C471.9 252.6 471.7 254.3 471.6 255.9C471.5 257.5 471.3 259.2 471.2 260.8C471.1 262.4 471 264 470.8 265.6C470.7 267.2 470.7 268.8 470.6 270.4C470.5 272 470.4 273.5 470.4 275.1C470.3 276.7 470.3 278.3 470.2 279.9C470.2 281.5 470.2 283.1 470.2 284.8C470.1 286.4 470.2 288.1 470.2 289.8C470.2 291.5 470.2 293.3 470.3 295.1C470.3 296.9 470.3 298.8 470.4 300.7C470.5 302.6 470.6 304.6 470.7 306.7C470.8 308.7 470.8 311 471 313.1C471.1 315.2 471.3 317.5 471.5 319.4C471.8 321.4 472.1 323.4 472.4 324.6C472.8 325.9 473.2 326.7 473.7 326.9C474.1 327.1 474.7 326.7 475.2 325.9C475.7 325.1 476.3 323.8 476.8 322.3C477.3 320.7 477.8 318.8 478.2 316.8C478.6 314.8 479 312.5 479.3 310.4C479.6 308.3 479.9 306.1 480.2 304.1C480.5 302.1 480.7 300.3 481 298.5C481.2 296.8 481.5 295.2 481.7 293.5C482 291.9 482.2 290.3 482.4 288.8C482.7 287.2 483 285.6 483.2 284.1C483.5 282.5 483.8 281 484.1 279.4C484.3 277.8 484.6 276.2 484.9 274.6C485.3 273 485.6 271.4 485.9 269.8C486.2 268.2 486.5 266.5 486.9 264.9C487.2 263.3 487.5 261.6 487.9 259.9C488.2 258.3 488.5 256.6 488.9 255C489.2 253.3 489.6 251.6 489.9 250C490.2 248.3 490.6 246.7 490.9 245C491.2 243.3 491.6 241.7 491.9 240C492.2 238.4 492.6 236.7 492.9 235.1C493.2 233.4 493.5 231.8 493.9 230.1C494.2 228.5 494.5 226.8 494.8 225.2C495.1 223.5 495.5 221.9 495.8 220.3C496.1 218.6 496.4 217 496.7 215.3C497 213.7 497.3 212 497.6 210.4C497.9 208.8 498.2 207.1 498.6 205.5C498.9 203.8 499.2 202.2 499.5 200.6C499.8 198.9 500.1 197.3 500.4 195.6C500.7 194 501 192.4 501.2 190.7C501.5 189.1 501.8 187.4 502.1 185.8C502.4 184.1 502.7 182.5 503 180.9C503.3 179.2 503.6 177.6 503.9 175.9C504.2 174.3 504.4 172.6 504.7 171C505 169.3 505.3 167.7 505.6 166C505.9 164.4 506.1 162.8 506.4 161.1C506.7 159.5 507 157.8 507.2 156.2C507.5 154.5 507.8 152.8 508.1 151.2C508.3 149.5 508.6 147.9 508.9 146.2C509.1 144.6 509.4 142.9 509.7 141.3C509.9 139.6 510.2 138 510.4 136.3C510.7 134.7 510.9 133 511.2 131.3C511.4 129.7 511.7 128 511.9 126.4C512.2 124.7 512.4 123.1 512.7 121.4C512.9 119.7 513.1 118.1 513.4 116.4C513.6 114.8 513.8 113.1 514.1 111.4C514.3 109.8 514.5 108.1 514.7 106.5C514.9 104.8 515.2 103.1 515.4 101.5C515.6 99.8 515.8 98.2 516 96.5C516.2 94.8 516.4 93.2 516.6 91.5C516.8 89.8 517 88.2 517.2 86.5C517.4 84.9 517.6 83.2 517.7 81.5C517.9 79.9 518.1 78.2 518.3 76.5C518.4 74.9 518.6 73.2 518.8 71.5C518.9 69.9 519.1 68.2 519.2 66.6C519.4 64.9 519.5 63.2 519.7 61.6C519.8 59.9 520 58.2 520.1 56.6C520.2 54.9 520.4 52.4 520.5 51.6" fill="none" stroke="#000" stroke-opacity="0.85" stroke-width="0.9" stroke-linejoin="round"/>
<path d="M505.2 62.3C504.9 63.1 504.1 65.4 503.6 67C503.1 68.5 502.6 70.1 502.2 71.7C501.7 73.2 501.2 74.8 500.8 76.4C500.4 78 500 79.6 499.6 81.2C499.2 82.8 498.9 84.4 498.5 86C498.1 87.6 497.8 89.2 497.5 90.8C497.2 92.5 496.9 94.1 496.6 95.7C496.3 97.4 496 99 495.7 100.6C495.4 102.3 495.2 103.9 494.9 105.6C494.7 107.2 494.5 108.8 494.2 110.5C494 112.1 493.8 113.8 493.6 115.5C493.3 117.1 493.1 118.8 492.9 120.4C492.7 122.1 492.5 123.8 492.3 125.4C492.1 127.1 492 128.7 491.8 130.4C491.6 132.1 491.4 133.7 491.2 135.4C491 137.1 490.9 138.7 490.7 140.4C490.5 142.1 490.3 143.7 490.1 145.4C489.9 147.1 489.7 148.7 489.5 150.4C489.3 152 489.2 153.7 488.9 155.4C488.7 157 488.5 158.7 488.3 160.3C488.1 162 487.9 163.6 487.7 165.3C487.4 166.9 487.2 168.6 486.9 170.2C486.7 171.8 486.5 173.5 486.2 175.1C486 176.8 485.7 178.4 485.5 180C485.2 181.7 485 183.3 484.7 185C484.5 186.6 484.2 188.2 484 189.9C483.7 191.5 483.5 193.2 483.3 194.8C483 196.4 482.8 198.1 482.6 199.7C482.4 201.4 482.2 203 482 204.7C481.8 206.4 481.6 208 481.4 209.7C481.2 211.3 481.1 213 480.9 214.7C480.8 216.4 480.6 218 480.5 219.7C480.4 221.4 480.3 223.1 480.2 224.8C480.1 226.4 480 228.1 479.9 229.8C479.8 231.4 479.7 233.1 479.6 234.7C479.5 236.4 479.4 238 479.3 239.6C479.1 241.2 479 242.8 478.9 244.4C478.7 246 478.6 247.5 478.5 249.2C478.4 250.8 478.2 252.5 478.2 254.4C478.2 256.3 478.3 258.4 478.4 260.5C478.6 262.6 478.8 265.1 479.1 266.9C479.4 268.7 479.8 270.5 480.2 271.3C480.6 272.1 481 272.2 481.5 271.6C481.9 271 482.4 269.3 482.9 267.6C483.3 265.9 483.8 263.5 484.2 261.4C484.6 259.4 484.9 257.1 485.2 255.2C485.5 253.3 485.7 251.6 485.8 250C486 248.3 486.2 246.8 486.4 245.3C486.5 243.7 486.7 242.2 486.9 240.6C487.1 239 487.3 237.4 487.5 235.8C487.8 234.1 488 232.5 488.2 230.9C488.5 229.2 488.7 227.6 489 225.9C489.2 224.2 489.5 222.6 489.7 220.9C490 219.2 490.3 217.6 490.5 215.9C490.8 214.2 491 212.6 491.3 210.9C491.6 209.3 491.8 207.6 492.1 206C492.4 204.3 492.7 202.7 492.9 201C493.2 199.4 493.5 197.8 493.7 196.1C494 194.5 494.3 192.8 494.5 191.2C494.8 189.6 495.1 187.9 495.4 186.3C495.6 184.7 495.9 183 496.2 181.4C496.5 179.8 496.7 178.1 497 176.5C497.3 174.9 497.6 173.2 497.9 171.6C498.1 169.9 498.4 168.3 498.7 166.7C499 165 499.2 163.4 499.5 161.7C499.8 160.1 500.1 158.5 500.3 156.8C500.6 155.2 500.9 153.5 501.2 151.9C501.4 150.2 501.7 148.6 502 146.9C502.2 145.3 502.5 143.6 502.8 142C503 140.3 503.3 138.7 503.5 137C503.8 135.4 504 133.7 504.2 132.1C504.5 130.4 504.7 128.8 504.9 127.1C505.2 125.5 505.4 123.8 505.6 122.2C505.8 120.5 506 118.8 506.2 117.2C506.4 115.5 506.5 113.9 506.7 112.2C506.9 110.6 507 108.9 507.2 107.2C507.3 105.6 507.5 103.9 507.6 102.3C507.7 100.6 507.8 98.9 507.9 97.3C508 95.6 508.1 94 508.2 92.3C508.2 90.6 508.3 89 508.3 87.3C508.4 85.7 508.4 84 508.4 82.3C508.4 80.7 508.4 79 508.4 77.4C508.4 75.7 508.3 73.2 508.3 72.4Z" fill="none" stroke="#000" stroke-opacity="0.85" stroke-width="0.9" stroke-linejoin="round"/>
<path d="M498.4 623.3C498.4 622.4 498.4 619.9 498.4 618.2C498.5 616.5 498.5 614.8 498.6 613.1C498.7 611.5 498.7 609.8 498.9 608.1C499 606.4 499.1 604.7 499.2 603.1C499.4 601.4 499.5 599.7 499.7 598.1C499.9 596.4 500 594.7 500.2 593.1C500.4 591.4 500.6 589.7 500.9 588.1C501.1 586.4 501.3 584.8 501.6 583.1C501.8 581.4 502.1 579.8 502.3 578.1C502.6 576.5 502.9 574.8 503.2 573.2C503.4 571.5 503.7 569.9 504 568.2C504.3 566.6 504.6 565 504.9 563.3C505.2 561.7 505.6 560 505.9 558.4C506.2 556.8 506.5 555.1 506.8 553.5C507.2 551.9 507.5 550.2 507.8 548.6C508.1 547 508.5 545.3 508.8 543.7C509.1 542.1 509.4 540.5 509.8 538.8C510.1 537.2 510.5 535.6 510.8 534C511.2 532.3 511.5 530.7 511.9 529.1C512.3 527.5 512.7 525.8 513.2 524.2C513.6 522.6 514 521 514.5 519.3C515 517.7 515.5 516.1 516.1 514.4C516.7 512.8 517.3 511.2 517.9 509.5C518.5 507.9 519.2 506.2 520 504.6C520.7 502.9 521.5 501.3 522.3 499.6C523.2 498 524.1 496.4 525 494.8C525.9 493.2 526.9 491.7 527.9 490.2C529 488.7 530 487.3 531.1 485.9C532.2 484.6 533.4 483.3 534.6 482.2C535.8 481.1 537 480 538.3 479.1C539.5 478.2 540.8 477.4 542.2 476.8C543.5 476.2 544.8 475.7 546.2 475.4C547.6 475.1 549.1 475 550.5 475.1C551.9 475.1 553.4 475.4 554.9 475.8C556.4 476.2 557.8 476.7 559.3 477.4C560.8 478.1 562.2 479 563.6 479.9C565 480.8 566.4 481.9 567.8 483C569.1 484.2 570.4 485.4 571.7 486.7C572.9 488.1 574.1 489.5 575.3 490.9C576.4 492.4 577.5 493.9 578.5 495.4C579.5 496.9 580.5 498.5 581.4 500.1C582.3 501.7 583.1 503.3 583.9 504.9C584.7 506.5 585.4 508.1 586 509.7C586.6 511.3 587.2 513 587.7 514.6C588.2 516.2 588.7 517.8 589 519.5C589.4 521.1 589.8 522.7 590 524.4C590.3 526 590.5 527.6 590.7 529.3C590.9 530.9 591 532.5 591 534.2C591.1 535.8 591.1 537.4 591.1 539.1C591 540.7 590.9 542.3 590.8 544C590.7 545.6 590.5 547.2 590.3 548.9C590.1 550.5 589.8 552.1 589.5 553.7C589.2 555.4 588.9 557 588.5 558.6C588.1 560.2 587.7 561.8 587.3 563.4C586.8 565 586.4 566.6 585.9 568.2C585.4 569.8 584.8 571.4 584.3 573C583.7 574.6 583.1 576.2 582.5 577.8C581.9 579.3 581.3 580.9 580.7 582.5C580 584.1 579.3 585.6 578.7 587.2C578 588.7 577.3 590.3 576.6 591.8C575.8 593.4 575.1 594.9 574.4 596.5C573.6 598 572.9 599.5 572.1 601C571.4 602.6 570.6 604.1 569.8 605.6C569.1 607.1 568.3 608.6 567.5 610.1C566.8 611.6 566 613.1 565.2 614.5C564.4 616 563.7 617.5 562.9 618.9C562.1 620.4 561 622.6 560.6 623.3" fill="none" stroke="#000" stroke-opacity="0.85" stroke-width="0.9" stroke-linejoin="round"/>
<path d="M499.3 623.3C499.4 622.5 499.5 620.1 499.6 618.5C499.8 616.8 499.9 615.2 500.1 613.5C500.2 611.9 500.4 610.2 500.6 608.6C500.7 606.9 500.9 605.3 501.1 603.6C501.3 601.9 501.6 600.3 501.8 598.6C502 596.9 502.2 595.3 502.5 593.6C502.7 592 503 590.3 503.3 588.7C503.6 587 503.8 585.4 504.1 583.8C504.4 582.1 504.7 580.5 505 578.9C505.3 577.4 505.7 575.8 506 574.2C506.3 572.7 506.6 571.1 507 569.6C507.3 568.1 507.7 566.6 508.1 565C508.5 563.5 508.9 562 509.3 560.4C509.8 558.8 510.3 557.2 510.8 555.5C511.3 553.8 511.9 552.1 512.5 550.3C513.1 548.5 513.7 546.6 514.5 544.8C515.2 543 516 541.1 516.9 539.5C517.8 537.8 518.7 536.2 519.7 535C520.8 533.8 521.9 532.8 522.9 532.2C524 531.7 525.1 531.5 526.1 531.9C527.2 532.2 528.2 533 529.1 534.1C530.1 535.1 531 536.7 531.8 538.2C532.6 539.8 533.4 541.7 534.1 543.6C534.8 545.4 535.4 547.4 536 549.3C536.5 551.1 536.9 553 537.3 554.7C537.7 556.5 537.9 558.2 538.2 559.8C538.4 561.5 538.6 563.1 538.7 564.7C538.8 566.3 538.9 567.8 538.9 569.4C539 571 539 572.5 538.9 574.1C538.9 575.7 538.9 577.3 538.9 578.9C538.8 580.5 538.7 582.1 538.7 583.8C538.6 585.4 538.5 587.1 538.4 588.7C538.3 590.4 538.1 592 538 593.7C537.8 595.4 537.7 597 537.5 598.7C537.3 600.4 537.2 602 537 603.7C536.8 605.4 536.6 607 536.3 608.7C536.1 610.3 535.9 612 535.6 613.6C535.4 615.3 535.1 616.9 534.9 618.5C534.6 620.1 534.2 622.5 534 623.3" fill="none" stroke="#000" stroke-opacity="0.85" stroke-width="0.9" stroke-linejoin="round"/>
<path d="M500.7 623.3C500.8 622.6 501 620.4 501.2 619.1C501.5 617.7 501.7 616.5 501.9 615.2C502.2 613.9 502.4 612.7 502.7 611.5C503 610.2 503.2 609 503.5 607.7C503.8 606.5 504.1 605.2 504.3 603.9C504.6 602.6 504.9 601.3 505.2 599.9C505.4 598.5 505.7 597.1 506 595.7C506.4 594.2 506.8 592.8 507.2 591.3C507.7 589.9 508.3 588.4 508.9 587C509.5 585.7 510.3 584.2 511 583.3C511.8 582.4 512.6 581.6 513.4 581.5C514.1 581.3 514.9 581.8 515.6 582.6C516.2 583.3 516.9 584.7 517.4 586C518 587.4 518.5 589.1 518.9 590.7C519.3 592.2 519.6 593.9 519.9 595.4C520.1 596.9 520.2 598.2 520.3 599.6C520.4 601 520.5 602.2 520.5 603.5C520.6 604.8 520.6 606.1 520.6 607.4C520.6 608.7 520.7 609.9 520.7 611.2C520.7 612.5 520.7 613.8 520.7 615.2C520.7 616.5 520.7 617.8 520.7 619.2C520.6 620.5 520.5 622.6 520.5 623.3" fill="none" stroke="#000" stroke-opacity="0.85" stroke-width="0.9" stroke-linejoin="round"/>
</g>
<path d="M272.2 51.5V622.8M386.9 51.5V622.8M501.6 51.5V622.8M616.3 51.5V622.8M157.5 531.87H731M157.5 440.95H731M157.5 350.02H731M157.5 259.1H731M157.5 168.17H731M157.5 77.25H731" stroke="#262626" stroke-opacity="0.15" stroke-width="1.2" fill="none"/>
<g clip-path="url(#clip-a)">
<path d="M488.8 51.6L488.8 71.9L488.8 94.6L489.1 117.2L489.4 139.8L489.9 162.4L490.5 185.1L491.9 185L492.2 207.6L492.5 230.2L492.8 252.9L492.8 275.5L492.8 298.1L492.8 320.7L492.2 330L491.9 352.6L491.6 375.2L491.4 397.9L491.1 420.5L490.7 443.1L490.5 465.7L490.3 470L489.9 492.6L489.6 515.2L489.4 537.9L489.1 560.5L488.8 583.1L488.5 605.7L488.2 623.3" stroke="#0000ff" stroke-width="6.9" stroke-dasharray="7.6 5.1" stroke-dashoffset="0" fill="none"/>
</g>
<path d="M272.2 622.8v-4.6M272.2 51.5v4.6M386.9 622.8v-4.6M386.9 51.5v4.6M501.6 622.8v-4.6M501.6 51.5v4.6M616.3 622.8v-4.6M616.3 51.5v4.6M157.5 531.87h4.6M731 531.87h-4.6M157.5 440.95h4.6M731 440.95h-4.6M157.5 350.02h4.6M731 350.02h-4.6M157.5 259.1h4.6M731 259.1h-4.6M157.5 168.17h4.6M731 168.17h-4.6M157.5 77.25h4.6M731 77.25h-4.6" stroke="#262626" stroke-width="1.2" fill="none"/>
<rect x="157.5" y="51.5" width="573.5" height="571.3" fill="none" stroke="#262626" stroke-width="1.3"/>
<text x="157.5" y="668.3" font-size="34.3" text-anchor="middle">0</text>
<text x="272.2" y="668.3" font-size="34.3" text-anchor="middle">20</text>
<text x="386.9" y="668.3" font-size="34.3" text-anchor="middle">40</text>
<text x="501.6" y="668.3" font-size="34.3" text-anchor="middle">60</text>
<text x="616.3" y="668.3" font-size="34.3" text-anchor="middle">80</text>
<text x="731" y="668.3" font-size="34.3" text-anchor="middle">100</text>
<text x="147.5" y="636.7" font-size="34.3" text-anchor="end">0</text>
<text x="147.5" y="545.77" font-size="34.3" text-anchor="end">0.5</text>
<text x="147.5" y="454.85" font-size="34.3" text-anchor="end">1</text>
<text x="147.5" y="363.92" font-size="34.3" text-anchor="end">1.5</text>
<text x="147.5" y="273" font-size="34.3" text-anchor="end">2</text>
<text x="147.5" y="182.07" font-size="34.3" text-anchor="end">2.5</text>
<text x="147.5" y="91.15" font-size="34.3" text-anchor="end">3</text>
<text x="444.25" y="716.8" font-size="39.3" text-anchor="middle"><tspan class="r">Ω</tspan> (Hz)</text>
<text x="43.5" y="280.15" font-size="39.3" text-anchor="middle" class="m">β</text>
<text x="43.5" y="329.15" font-size="39.3" text-anchor="middle">(rad)</text>
<text x="501" y="33.2" font-size="37.8" text-anchor="middle" style="fill:#000">(a) <tspan class="m">μ</tspan> = 0.05</text>
<rect x="772.5" y="51.2" width="28.9" height="572.3" fill="url(#cb)" stroke="#262626" stroke-width="1.2"/>
<text x="808.3" y="63.2" font-size="30.6">0</text>
<text x="808.3" y="177.66" font-size="30.6">-0.5</text>
<text x="808.3" y="292.12" font-size="30.6">-1</text>
<text x="808.3" y="406.58" font-size="30.6">-1.5</text>
<text x="808.3" y="521.04" font-size="30.6">-2</text>
<text x="808.3" y="635.5" font-size="30.6">-2.5</text>
<path d="M801.4 165.66h-5.7M801.4 280.12h-5.7M801.4 394.58h-5.7M801.4 509.04h-5.7" stroke="#262626" stroke-width="1.2" fill="none"/>
</g>
<g id="panel-b">
<clipPath id="clip-b"><rect x="1061.4" y="50.6" width="574.2" height="574"/></clipPath>
<g clip-path="url(#clip-b)">
<path d="M1138.2 51.1C1137.3 51.2 1134.4 51.7 1132.4 52.1C1130.5 52.5 1128.5 52.9 1126.5 53.4C1124.5 53.8 1122.5 54.4 1120.5 54.9C1118.5 55.5 1116.5 56.1 1114.6 56.8C1112.6 57.5 1110.7 58.3 1108.8 59.1C1106.9 59.9 1105.1 60.7 1103.3 61.7C1101.5 62.6 1099.8 63.6 1098.1 64.7C1096.5 65.8 1094.9 66.9 1093.4 68.1C1091.9 69.3 1090.5 70.6 1089.1 72C1087.8 73.4 1086.6 74.9 1085.5 76.4C1084.4 77.9 1083.4 79.5 1082.5 81.2C1081.5 82.8 1080.7 84.5 1079.9 86.3C1079.1 88.1 1078.4 89.9 1077.8 91.7C1077.1 93.6 1076.5 95.5 1076 97.4C1075.5 99.3 1075 101.3 1074.6 103.2C1074.1 105.2 1073.8 107.2 1073.4 109.2C1073 111.2 1072.7 113.2 1072.4 115.2C1072.1 117.2 1071.8 119.2 1071.6 121.2C1071.3 123.2 1071.1 125.2 1070.9 127.2C1070.7 129.3 1070.5 131.3 1070.3 133.3C1070.1 135.3 1070 137.3 1069.9 139.3C1069.7 141.3 1069.6 143.3 1069.5 145.3C1069.4 147.3 1069.3 149.3 1069.2 151.3C1069.2 153.3 1069.1 155.3 1069 157.3C1069 159.4 1068.9 161.4 1068.9 163.4C1068.9 165.4 1068.9 167.4 1068.8 169.4C1068.8 171.4 1068.8 173.4 1068.8 175.4C1068.8 177.4 1068.8 179.4 1068.8 181.4C1068.8 183.4 1068.8 185.4 1068.9 187.4C1068.9 189.3 1068.9 191.3 1068.9 193.3C1068.9 195.3 1068.9 197.3 1068.9 199.3C1068.9 201.3 1069 203.3 1069 205.3C1069 207.3 1069 209.2 1069 211.2C1069 213.2 1068.9 215.2 1068.9 217.2C1068.9 219.1 1068.9 221.1 1068.9 223.1C1068.8 225.1 1068.8 227 1068.8 229C1068.8 231 1068.8 233 1068.7 235C1068.7 236.9 1068.8 238.9 1068.8 240.9C1068.8 242.9 1068.8 244.9 1068.9 246.9C1069 248.9 1069 250.9 1069.2 253C1069.3 255 1069.4 257 1069.6 259.1C1069.7 261.1 1069.9 263.2 1070.2 265.2C1070.4 267.3 1070.7 269.4 1071 271.4C1071.3 273.5 1071.7 275.6 1072.1 277.6C1072.5 279.7 1073 281.7 1073.5 283.7C1074.1 285.7 1074.7 287.6 1075.3 289.5C1076 291.4 1076.7 293.3 1077.6 295.1C1078.4 296.9 1079.2 298.6 1080.2 300.2C1081.2 301.9 1082.2 303.4 1083.4 304.9C1084.5 306.4 1085.8 307.7 1087.1 309C1088.4 310.3 1089.9 311.4 1091.4 312.5C1092.9 313.5 1094.5 314.5 1096.2 315.4C1097.8 316.2 1099.6 317 1101.3 317.7C1103.1 318.4 1105 319 1106.9 319.6C1108.8 320.1 1110.7 320.6 1112.7 321C1114.7 321.4 1116.7 321.7 1118.7 322C1120.7 322.3 1122.8 322.5 1124.9 322.7C1126.9 322.9 1129 323 1131.1 323.1C1133.1 323.2 1135.2 323.2 1137.3 323.2C1139.3 323.2 1141.4 323.2 1143.4 323.1C1145.4 323.1 1147.4 323 1149.4 322.9C1151.5 322.7 1153.5 322.6 1155.4 322.4C1157.4 322.3 1159.4 322.1 1161.4 321.9C1163.4 321.7 1165.4 321.5 1167.3 321.2C1169.3 321 1171.3 320.7 1173.2 320.5C1175.2 320.2 1177.2 319.9 1179.1 319.6C1181.1 319.4 1183.1 319.1 1185 318.8C1187 318.5 1189 318.2 1191 317.9C1192.9 317.6 1194.9 317.3 1196.9 317C1198.8 316.7 1200.8 316.4 1202.8 316.1C1204.8 315.8 1206.8 315.4 1208.7 315.1C1210.7 314.8 1212.7 314.5 1214.7 314.1C1216.6 313.8 1218.6 313.4 1220.6 313.1C1222.6 312.7 1224.5 312.4 1226.5 312C1228.5 311.6 1230.5 311.3 1232.4 310.9C1234.4 310.5 1236.3 310.1 1238.3 309.7C1240.3 309.3 1242.2 308.9 1244.2 308.4C1246.1 308 1248.1 307.6 1250 307.1C1252 306.7 1253.9 306.2 1255.8 305.7C1257.8 305.3 1259.7 304.8 1261.6 304.3C1263.5 303.8 1265.5 303.3 1267.4 302.7C1269.3 302.2 1271.2 301.7 1273.1 301.1C1275 300.6 1276.9 300 1278.7 299.4C1280.6 298.8 1282.5 298.2 1284.4 297.6C1286.2 297 1288.1 296.3 1289.9 295.7C1291.7 295 1293.6 294.3 1295.4 293.6C1297.2 292.8 1299 292.1 1300.7 291.3C1302.5 290.5 1304.2 289.7 1305.9 288.8C1307.7 287.9 1309.3 287 1311 286C1312.7 285.1 1314.3 284 1315.9 283C1317.5 281.9 1319.1 280.8 1320.6 279.6C1322.1 278.4 1323.6 277.2 1325.1 275.9C1326.5 274.6 1327.9 273.2 1329.3 271.8C1330.7 270.4 1332 268.9 1333.3 267.4C1334.6 265.9 1335.9 264.4 1337.1 262.8C1338.3 261.2 1339.5 259.6 1340.7 257.9C1341.8 256.3 1342.9 254.6 1344 252.9C1345.1 251.2 1346.1 249.4 1347.2 247.7C1348.2 245.9 1349.1 244.2 1350.1 242.4C1351 240.6 1351.9 238.8 1352.8 237C1353.7 235.2 1354.5 233.4 1355.3 231.6C1356.1 229.7 1356.9 227.9 1357.7 226.1C1358.4 224.2 1359.2 222.4 1359.9 220.5C1360.6 218.6 1361.2 216.8 1361.9 214.9C1362.5 213 1363.2 211.1 1363.8 209.2C1364.4 207.3 1365 205.4 1365.6 203.5C1366.1 201.6 1366.7 199.7 1367.2 197.8C1367.8 195.9 1368.3 193.9 1368.8 192C1369.3 190.1 1369.8 188.1 1370.3 186.2C1370.7 184.3 1371.2 182.3 1371.7 180.4C1372.1 178.4 1372.6 176.5 1373 174.5C1373.5 172.6 1373.9 170.6 1374.4 168.7C1374.8 166.7 1375.2 164.8 1375.7 162.8C1376.1 160.9 1376.5 158.9 1376.9 157C1377.4 155 1377.8 153 1378.2 151.1C1378.6 149.1 1379.1 147.2 1379.5 145.2C1379.9 143.3 1380.4 141.3 1380.8 139.4C1381.2 137.4 1381.7 135.5 1382.1 133.5C1382.6 131.6 1383 129.6 1383.4 127.7C1383.9 125.7 1384.3 123.8 1384.7 121.8C1385.1 119.9 1385.6 117.9 1386 116C1386.4 114 1386.8 112.1 1387.2 110.1C1387.6 108.2 1388 106.2 1388.3 104.3C1388.7 102.3 1389.1 100.4 1389.4 98.4C1389.8 96.4 1390.1 94.5 1390.5 92.5C1390.8 90.5 1391.1 88.6 1391.4 86.6C1391.7 84.6 1392 82.7 1392.2 80.7C1392.5 78.7 1392.7 76.7 1392.9 74.7C1393.2 72.7 1393.4 70.8 1393.5 68.8C1393.7 66.8 1393.9 64.8 1394 62.8C1394.1 60.8 1394.2 58.7 1394.3 56.7C1394.4 54.7 1394.4 51.7 1394.5 50.7Z" fill="#e9e9e9" stroke="#000" stroke-opacity="0.85" stroke-width="0.9" stroke-linejoin="round"/>
<path d="M1635.7 76.9C1634.7 77.1 1631.7 77.6 1629.7 77.9C1627.7 78.3 1625.7 78.6 1623.7 78.8C1621.7 79.1 1619.7 79.4 1617.8 79.7C1615.8 79.9 1613.8 80.2 1611.8 80.4C1609.8 80.7 1607.9 80.9 1605.9 81.1C1603.9 81.3 1602 81.6 1600 81.8C1598 82 1596.1 82.2 1594.1 82.4C1592.2 82.6 1590.2 82.8 1588.2 83C1586.3 83.2 1584.3 83.4 1582.4 83.7C1580.4 83.9 1578.5 84.1 1576.5 84.3C1574.5 84.5 1572.6 84.7 1570.6 85C1568.7 85.2 1566.7 85.4 1564.7 85.7C1562.8 85.9 1560.8 86.2 1558.9 86.5C1556.9 86.7 1554.9 87 1553 87.3C1551 87.6 1549 87.9 1547 88.3C1545.1 88.6 1543.1 89 1541.1 89.3C1539.1 89.7 1537.1 90.1 1535.1 90.5C1533.1 90.9 1531.1 91.3 1529.1 91.8C1527.1 92.3 1525.1 92.7 1523.1 93.2C1521.1 93.8 1519.2 94.3 1517.2 94.8C1515.2 95.4 1513.2 96 1511.2 96.6C1509.2 97.2 1507.3 97.8 1505.3 98.4C1503.4 99.1 1501.4 99.8 1499.5 100.5C1497.6 101.2 1495.6 101.9 1493.7 102.7C1491.8 103.4 1490 104.2 1488.1 105C1486.2 105.9 1484.4 106.7 1482.5 107.6C1480.7 108.5 1478.9 109.4 1477.1 110.3C1475.4 111.2 1473.6 112.2 1471.9 113.2C1470.1 114.2 1468.4 115.2 1466.8 116.3C1465.1 117.3 1463.5 118.4 1461.9 119.6C1460.3 120.7 1458.7 121.9 1457.1 123C1455.6 124.2 1454.1 125.5 1452.6 126.7C1451.2 128 1449.7 129.3 1448.4 130.6C1447 132 1445.6 133.3 1444.3 134.7C1443 136.1 1441.8 137.6 1440.5 139C1439.3 140.5 1438.2 142 1437 143.6C1435.9 145.1 1434.8 146.7 1433.7 148.3C1432.6 149.9 1431.6 151.5 1430.6 153.1C1429.6 154.8 1428.7 156.5 1427.7 158.2C1426.8 159.9 1425.9 161.6 1425.1 163.4C1424.2 165.1 1423.4 166.9 1422.6 168.7C1421.7 170.5 1421 172.3 1420.2 174.1C1419.5 176 1418.8 177.8 1418.1 179.7C1417.4 181.6 1416.7 183.5 1416 185.4C1415.4 187.3 1414.8 189.2 1414.1 191.1C1413.5 193 1412.9 195 1412.4 196.9C1411.8 198.8 1411.3 200.8 1410.7 202.8C1410.2 204.7 1409.7 206.7 1409.2 208.7C1408.7 210.7 1408.2 212.6 1407.7 214.6C1407.2 216.6 1406.8 218.6 1406.3 220.6C1405.9 222.6 1405.4 224.6 1405 226.6C1404.6 228.5 1404.2 230.5 1403.7 232.5C1403.3 234.5 1402.9 236.5 1402.5 238.5C1402.1 240.5 1401.7 242.4 1401.4 244.4C1401 246.4 1400.6 248.4 1400.2 250.4C1399.9 252.3 1399.5 254.3 1399.1 256.3C1398.8 258.3 1398.4 260.3 1398.1 262.2C1397.7 264.2 1397.4 266.2 1397 268.2C1396.7 270.1 1396.4 272.1 1396 274.1C1395.7 276 1395.4 278 1395.1 280C1394.7 281.9 1394.4 283.9 1394.1 285.9C1393.8 287.8 1393.5 289.8 1393.1 291.8C1392.8 293.7 1392.5 295.7 1392.2 297.7C1391.9 299.6 1391.6 301.6 1391.3 303.5C1390.9 305.5 1390.6 307.5 1390.3 309.4C1390 311.4 1389.7 313.3 1389.4 315.3C1389.1 317.2 1388.8 319.2 1388.4 321.1C1388.1 323.1 1387.8 325 1387.5 327C1387.2 328.9 1386.9 330.9 1386.5 332.8C1386.2 334.8 1385.9 336.7 1385.5 338.7C1385.2 340.6 1384.9 342.6 1384.6 344.5C1384.2 346.5 1383.9 348.4 1383.5 350.3C1383.2 352.3 1382.9 354.2 1382.5 356.2C1382.2 358.1 1381.8 360.1 1381.5 362C1381.1 363.9 1380.8 365.9 1380.4 367.8C1380.1 369.8 1379.7 371.7 1379.3 373.7C1379 375.6 1378.6 377.6 1378.3 379.5C1377.9 381.5 1377.5 383.4 1377.2 385.4C1376.8 387.3 1376.4 389.3 1376.1 391.2C1375.7 393.2 1375.4 395.1 1375 397.1C1374.6 399 1374.2 401 1373.9 403C1373.5 404.9 1373.1 406.9 1372.8 408.9C1372.4 410.8 1372 412.8 1371.7 414.8C1371.3 416.7 1370.9 418.7 1370.6 420.7C1370.2 422.7 1369.8 424.7 1369.4 426.6C1369.1 428.6 1368.7 430.6 1368.3 432.6C1368 434.6 1367.6 436.6 1367.2 438.6C1366.9 440.6 1366.5 442.6 1366.1 444.6C1365.8 446.6 1365.4 448.6 1365 450.7C1364.7 452.7 1364.3 454.7 1363.9 456.7C1363.5 458.7 1363.1 460.7 1362.8 462.7C1362.4 464.8 1362 466.8 1361.6 468.8C1361.2 470.8 1360.7 472.8 1360.3 474.8C1359.9 476.8 1359.4 478.8 1359 480.8C1358.5 482.8 1358.1 484.8 1357.6 486.7C1357.1 488.7 1356.6 490.7 1356.1 492.6C1355.6 494.6 1355 496.5 1354.5 498.5C1353.9 500.4 1353.3 502.3 1352.7 504.2C1352.1 506.1 1351.5 508 1350.9 509.9C1350.2 511.8 1349.6 513.6 1348.9 515.5C1348.2 517.3 1347.4 519.2 1346.7 521C1345.9 522.8 1345.1 524.6 1344.3 526.4C1343.5 528.1 1342.6 529.9 1341.7 531.6C1340.9 533.3 1339.9 535 1339 536.7C1338 538.4 1337 540.1 1336 541.7C1335 543.3 1333.9 544.9 1332.8 546.5C1331.7 548.1 1330.5 549.7 1329.3 551.2C1328.1 552.7 1326.9 554.2 1325.6 555.7C1324.4 557.2 1323 558.6 1321.7 560C1320.4 561.4 1319 562.8 1317.6 564.1C1316.1 565.5 1314.7 566.8 1313.2 568.1C1311.7 569.4 1310.2 570.6 1308.7 571.8C1307.1 573 1305.5 574.2 1303.9 575.4C1302.3 576.5 1300.7 577.6 1299 578.7C1297.3 579.7 1295.6 580.8 1293.9 581.8C1292.2 582.8 1290.5 583.7 1288.7 584.7C1286.9 585.6 1285.1 586.5 1283.3 587.4C1281.5 588.2 1279.7 589.1 1277.8 589.9C1276 590.7 1274.1 591.5 1272.2 592.2C1270.4 593 1268.5 593.7 1266.6 594.4C1264.7 595.1 1262.8 595.8 1260.8 596.4C1258.9 597.1 1257 597.7 1255.1 598.3C1253.1 599 1251.2 599.6 1249.2 600.1C1247.3 600.7 1245.4 601.3 1243.4 601.8C1241.5 602.4 1239.5 602.9 1237.6 603.4C1235.6 604 1233.7 604.5 1231.7 605C1229.8 605.5 1227.8 606 1225.9 606.4C1223.9 606.9 1221.9 607.4 1220 607.8C1218 608.3 1216.1 608.7 1214.1 609.2C1212.2 609.6 1210.2 610 1208.2 610.4C1206.3 610.9 1204.3 611.3 1202.4 611.7C1200.4 612.1 1198.4 612.5 1196.5 612.9C1194.5 613.3 1192.6 613.7 1190.6 614.1C1188.7 614.5 1186.7 614.9 1184.7 615.3C1182.8 615.7 1180.8 616.1 1178.9 616.5C1176.9 616.9 1175 617.3 1173 617.7C1171.1 618.1 1169.1 618.5 1167.2 618.9C1165.2 619.4 1163.3 619.8 1161.3 620.2C1159.4 620.6 1157.5 621 1155.5 621.5C1153.6 621.9 1151.7 622.4 1149.7 622.8C1147.8 623.3 1144.9 624 1143.9 624.2L1396.2 624.4C1396.3 623.5 1396.7 620.7 1397 618.8C1397.3 616.9 1397.6 615 1397.8 613.1C1398.1 611.2 1398.4 609.3 1398.7 607.4C1398.9 605.5 1399.2 603.5 1399.5 601.6C1399.7 599.6 1400 597.7 1400.3 595.7C1400.5 593.7 1400.8 591.8 1401.1 589.8C1401.3 587.8 1401.6 585.8 1401.9 583.8C1402.2 581.8 1402.4 579.8 1402.7 577.8C1403 575.8 1403.3 573.8 1403.6 571.8C1403.8 569.8 1404.1 567.8 1404.4 565.8C1404.7 563.7 1405 561.7 1405.3 559.7C1405.7 557.7 1406 555.6 1406.3 553.6C1406.6 551.6 1407 549.5 1407.3 547.5C1407.6 545.5 1408 543.5 1408.3 541.4C1408.7 539.4 1409.1 537.4 1409.5 535.4C1409.8 533.3 1410.2 531.3 1410.6 529.3C1411 527.3 1411.5 525.3 1411.9 523.2C1412.3 521.2 1412.8 519.2 1413.2 517.2C1413.7 515.2 1414.2 513.2 1414.6 511.2C1415.1 509.3 1415.6 507.3 1416.1 505.3C1416.7 503.3 1417.2 501.4 1417.8 499.4C1418.3 497.4 1418.9 495.5 1419.5 493.6C1420.1 491.6 1420.7 489.7 1421.3 487.8C1421.9 485.9 1422.6 483.9 1423.2 482.1C1423.9 480.2 1424.6 478.3 1425.3 476.4C1426 474.5 1426.7 472.7 1427.5 470.8C1428.2 469 1429 467.2 1429.8 465.3C1430.6 463.5 1431.5 461.7 1432.3 459.9C1433.2 458.2 1434 456.4 1434.9 454.6C1435.8 452.9 1436.8 451.2 1437.7 449.4C1438.7 447.7 1439.6 446 1440.7 444.4C1441.7 442.7 1442.7 441 1443.8 439.4C1444.8 437.7 1445.9 436.1 1447.1 434.5C1448.2 432.9 1449.3 431.4 1450.5 429.8C1451.7 428.3 1452.9 426.7 1454.2 425.2C1455.4 423.7 1456.7 422.2 1458 420.8C1459.3 419.3 1460.7 417.9 1462.1 416.5C1463.4 415.1 1464.8 413.7 1466.3 412.4C1467.7 411 1469.2 409.7 1470.6 408.4C1472.1 407.1 1473.6 405.9 1475.2 404.7C1476.7 403.4 1478.3 402.2 1479.9 401.1C1481.5 399.9 1483.1 398.8 1484.7 397.7C1486.4 396.6 1488.1 395.6 1489.7 394.5C1491.4 393.5 1493.2 392.5 1494.9 391.6C1496.6 390.7 1498.4 389.7 1500.2 388.9C1502 388 1503.8 387.2 1505.6 386.4C1507.4 385.6 1509.2 384.8 1511.1 384.1C1513 383.3 1514.8 382.6 1516.7 382C1518.6 381.3 1520.5 380.7 1522.4 380C1524.4 379.4 1526.3 378.8 1528.2 378.3C1530.2 377.7 1532.1 377.2 1534.1 376.7C1536 376.2 1538 375.8 1540 375.3C1542 374.9 1544 374.4 1546 374.1C1548 373.7 1550 373.3 1552 372.9C1554 372.6 1556 372.2 1558 371.9C1560 371.6 1562 371.3 1564.1 371C1566.1 370.7 1568.1 370.5 1570.1 370.2C1572.2 369.9 1574.2 369.7 1576.2 369.5C1578.3 369.2 1580.3 369 1582.3 368.8C1584.3 368.5 1586.4 368.3 1588.4 368.1C1590.4 367.9 1592.4 367.7 1594.4 367.4C1596.5 367.2 1598.5 367 1600.5 366.8C1602.5 366.6 1604.5 366.3 1606.5 366.1C1608.5 365.9 1610.4 365.6 1612.4 365.4C1614.4 365.2 1616.4 364.9 1618.3 364.6C1620.3 364.4 1622.3 364.1 1624.2 363.8C1626.1 363.5 1628.1 363.2 1630 362.9C1631.9 362.6 1634.7 362 1635.7 361.9Z" fill="#e9e9e9" stroke="#000" stroke-opacity="0.85" stroke-width="0.9" stroke-linejoin="round"/>
<path d="M1355.2 624.4C1355.2 623.6 1355.2 621.1 1355.3 619.4C1355.3 617.8 1355.3 616.1 1355.4 614.4C1355.4 612.8 1355.5 611.1 1355.6 609.4C1355.6 607.8 1355.7 606.1 1355.8 604.4C1355.8 602.8 1355.9 601.1 1356 599.4C1356.1 597.8 1356.2 596.1 1356.3 594.4C1356.4 592.8 1356.5 591.1 1356.6 589.4C1356.7 587.8 1356.8 586.1 1356.9 584.4C1357 582.8 1357.1 581.1 1357.3 579.4C1357.4 577.7 1357.5 576.1 1357.6 574.4C1357.8 572.7 1357.9 571.1 1358.1 569.4C1358.2 567.7 1358.4 566 1358.5 564.4C1358.7 562.7 1358.8 561 1359 559.4C1359.1 557.7 1359.3 556 1359.4 554.4C1359.6 552.7 1359.8 551 1359.9 549.4C1360.1 547.7 1360.3 546 1360.5 544.3C1360.6 542.7 1360.8 541 1361 539.3C1361.2 537.7 1361.3 536 1361.5 534.4C1361.7 532.7 1361.9 531 1362.1 529.4C1362.3 527.7 1362.5 526 1362.6 524.4C1362.8 522.7 1363 521 1363.2 519.4C1363.4 517.7 1363.6 516.1 1363.8 514.4C1364 512.8 1364.1 511.1 1364.3 509.4C1364.5 507.8 1364.7 506.1 1364.9 504.5C1365.1 502.8 1365.3 501.2 1365.5 499.5C1365.7 497.9 1365.9 496.2 1366.1 494.6C1366.3 492.9 1366.5 491.3 1366.7 489.6C1366.9 488 1367.1 486.3 1367.3 484.7C1367.5 483 1367.7 481.4 1367.9 479.7C1368.1 478.1 1368.3 476.4 1368.5 474.8C1368.7 473.1 1368.9 471.5 1369.1 469.8C1369.3 468.2 1369.5 466.5 1369.7 464.9C1370 463.2 1370.2 461.6 1370.4 460C1370.6 458.3 1370.8 456.7 1371 455C1371.3 453.4 1371.5 451.7 1371.7 450.1C1371.9 448.4 1372.2 446.8 1372.4 445.1C1372.6 443.5 1372.8 441.8 1373.1 440.2C1373.3 438.5 1373.5 436.9 1373.8 435.2C1374 433.6 1374.3 431.9 1374.5 430.3C1374.8 428.6 1375 427 1375.2 425.3C1375.5 423.7 1375.7 422 1376 420.4C1376.3 418.7 1376.5 417 1376.8 415.4C1377 413.7 1377.3 412.1 1377.6 410.4C1377.8 408.8 1378.1 407.1 1378.4 405.4C1378.6 403.8 1378.9 402.1 1379.2 400.5C1379.5 398.8 1379.7 397.1 1380 395.5C1380.3 393.8 1380.6 392.1 1380.9 390.5C1381.2 388.8 1381.4 387.2 1381.7 385.5C1382 383.8 1382.3 382.2 1382.6 380.5C1382.9 378.8 1383.2 377.2 1383.5 375.5C1383.8 373.9 1384.1 372.2 1384.4 370.5C1384.7 368.9 1384.9 367.2 1385.2 365.6C1385.5 363.9 1385.8 362.2 1386.1 360.6C1386.4 358.9 1386.7 357.3 1387 355.6C1387.3 354 1387.6 352.3 1387.9 350.7C1388.2 349 1388.5 347.4 1388.8 345.7C1389.1 344.1 1389.4 342.4 1389.6 340.8C1389.9 339.2 1390.2 337.5 1390.5 335.9C1390.8 334.2 1391.1 332.6 1391.4 331C1391.6 329.4 1391.9 327.7 1392.2 326.1C1392.5 324.5 1392.7 322.9 1393 321.2C1393.3 319.6 1393.6 318 1393.8 316.4C1394.1 314.8 1394.4 313.2 1394.6 311.6C1394.9 310 1395.1 308.4 1395.4 306.8C1395.6 305.2 1395.9 303.6 1396.1 302C1396.4 300.4 1396.6 298.8 1396.9 297.3C1397.1 295.7 1397.3 294.1 1397.6 292.5C1397.8 290.9 1398.1 289.3 1398.3 287.7C1398.6 286.1 1398.9 284.5 1399.1 282.9C1399.4 281.3 1399.7 279.6 1400 278C1400.2 276.3 1400.5 274.7 1400.8 273C1401.2 271.3 1401.5 269.7 1401.8 268C1402.1 266.3 1402.5 264.5 1402.9 262.8C1403.2 261 1403.6 259.3 1404 257.5C1404.4 255.7 1404.8 253.9 1405.3 252C1405.7 250.2 1406.2 248.3 1406.7 246.5C1407.2 244.6 1407.7 242.7 1408.3 240.9C1408.8 239 1409.4 237.2 1410.1 235.4C1410.8 233.6 1411.4 231.8 1412.2 230.2C1413 228.5 1413.8 226.8 1414.7 225.3C1415.6 223.8 1416.5 222.3 1417.5 221C1418.5 219.7 1419.6 218.4 1420.7 217.4C1421.7 216.3 1422.9 215.4 1424 214.7C1425.2 214 1426.3 213.4 1427.5 213.1C1428.7 212.8 1429.9 212.7 1431.1 212.8C1432.3 212.9 1433.5 213.3 1434.7 213.9C1435.9 214.4 1437.1 215.2 1438.2 216.1C1439.3 217 1440.5 218.1 1441.5 219.3C1442.6 220.5 1443.6 221.9 1444.6 223.4C1445.5 224.8 1446.5 226.4 1447.3 228C1448.1 229.6 1448.9 231.3 1449.6 233C1450.3 234.8 1450.9 236.6 1451.5 238.4C1452.1 240.2 1452.6 242.1 1453 243.9C1453.5 245.8 1453.9 247.7 1454.2 249.6C1454.6 251.4 1454.9 253.3 1455.2 255.2C1455.4 257 1455.6 258.8 1455.8 260.6C1456 262.4 1456.1 264.2 1456.2 265.9C1456.3 267.7 1456.3 269.4 1456.3 271.1C1456.3 272.8 1456.3 274.5 1456.3 276.2C1456.2 277.9 1456.1 279.5 1456 281.2C1455.9 282.8 1455.8 284.4 1455.6 286.1C1455.5 287.7 1455.3 289.3 1455.1 290.9C1454.9 292.5 1454.7 294.1 1454.4 295.7C1454.2 297.3 1454 298.9 1453.7 300.5C1453.4 302.1 1453.2 303.7 1452.9 305.3C1452.6 306.9 1452.3 308.5 1452 310.1C1451.7 311.7 1451.4 313.3 1451.1 314.9C1450.8 316.5 1450.4 318.1 1450.1 319.7C1449.8 321.3 1449.4 322.9 1449.1 324.5C1448.7 326.1 1448.4 327.7 1448 329.3C1447.7 330.9 1447.3 332.5 1447 334.1C1446.6 335.7 1446.2 337.3 1445.9 338.9C1445.5 340.6 1445.1 342.2 1444.7 343.8C1444.3 345.4 1443.9 347 1443.6 348.6C1443.2 350.2 1442.8 351.8 1442.4 353.5C1442 355.1 1441.6 356.7 1441.2 358.3C1440.8 359.9 1440.4 361.5 1440 363.2C1439.5 364.8 1439.1 366.4 1438.7 368C1438.3 369.6 1437.9 371.3 1437.5 372.9C1437.1 374.5 1436.7 376.1 1436.2 377.8C1435.8 379.4 1435.4 381 1435 382.6C1434.6 384.2 1434.2 385.9 1433.8 387.5C1433.3 389.1 1432.9 390.8 1432.5 392.4C1432.1 394 1431.7 395.6 1431.3 397.3C1430.9 398.9 1430.5 400.5 1430.1 402.1C1429.7 403.8 1429.3 405.4 1428.9 407C1428.5 408.7 1428.1 410.3 1427.7 411.9C1427.3 413.5 1426.9 415.2 1426.5 416.8C1426.1 418.4 1425.7 420.1 1425.4 421.7C1425 423.3 1424.6 425 1424.2 426.6C1423.9 428.2 1423.5 429.9 1423.1 431.5C1422.8 433.1 1422.4 434.8 1422.1 436.4C1421.7 438 1421.3 439.7 1421 441.3C1420.6 442.9 1420.3 444.6 1419.9 446.2C1419.6 447.8 1419.3 449.5 1418.9 451.1C1418.6 452.7 1418.2 454.4 1417.9 456C1417.6 457.6 1417.2 459.3 1416.9 460.9C1416.6 462.6 1416.3 464.2 1415.9 465.8C1415.6 467.5 1415.3 469.1 1415 470.7C1414.7 472.4 1414.4 474 1414.1 475.7C1413.8 477.3 1413.4 478.9 1413.1 480.6C1412.8 482.2 1412.5 483.9 1412.2 485.5C1411.9 487.1 1411.7 488.8 1411.4 490.4C1411.1 492.1 1410.8 493.7 1410.5 495.3C1410.2 497 1409.9 498.6 1409.7 500.3C1409.4 501.9 1409.1 503.6 1408.8 505.2C1408.5 506.8 1408.3 508.5 1408 510.1C1407.7 511.8 1407.5 513.4 1407.2 515.1C1406.9 516.7 1406.7 518.4 1406.4 520C1406.2 521.7 1405.9 523.3 1405.7 525C1405.4 526.6 1405.2 528.2 1404.9 529.9C1404.7 531.5 1404.4 533.2 1404.2 534.8C1403.9 536.5 1403.7 538.1 1403.5 539.8C1403.2 541.4 1403 543.1 1402.8 544.7C1402.5 546.4 1402.3 548 1402.1 549.7C1401.8 551.4 1401.6 553 1401.4 554.7C1401.2 556.3 1400.9 558 1400.7 559.6C1400.5 561.3 1400.3 562.9 1400.1 564.6C1399.9 566.2 1399.7 567.9 1399.5 569.6C1399.2 571.2 1399 572.9 1398.8 574.5C1398.6 576.2 1398.4 577.8 1398.2 579.5C1398 581.2 1397.8 582.8 1397.6 584.5C1397.4 586.1 1397.2 587.8 1397.1 589.5C1396.9 591.1 1396.7 592.8 1396.5 594.4C1396.3 596.1 1396.1 597.8 1395.9 599.4C1395.7 601.1 1395.6 602.8 1395.4 604.4C1395.2 606.1 1395 607.7 1394.9 609.4C1394.7 611.1 1394.5 612.7 1394.3 614.4C1394.2 616.1 1394 617.7 1393.8 619.4C1393.7 621.1 1393.4 623.6 1393.3 624.4Z" fill="#d5d5d5" stroke="#000" stroke-opacity="0.85" stroke-width="0.9" stroke-linejoin="round"/>
<path d="M1366.7 624.4C1366.7 623.6 1366.7 621.1 1366.7 619.4C1366.6 617.8 1366.6 616.1 1366.6 614.5C1366.6 612.8 1366.6 611.2 1366.6 609.5C1366.6 607.8 1366.6 606.2 1366.5 604.5C1366.5 602.8 1366.5 601.2 1366.5 599.5C1366.5 597.8 1366.6 596.2 1366.6 594.5C1366.6 592.8 1366.6 591.2 1366.6 589.5C1366.6 587.8 1366.6 586.1 1366.7 584.5C1366.7 582.8 1366.7 581.1 1366.8 579.5C1366.8 577.8 1366.8 576.1 1366.9 574.4C1366.9 572.8 1367 571.1 1367 569.4C1367.1 567.8 1367.1 566.1 1367.2 564.4C1367.2 562.7 1367.3 561.1 1367.4 559.4C1367.4 557.7 1367.5 556.1 1367.6 554.4C1367.6 552.7 1367.7 551.1 1367.8 549.4C1367.9 547.7 1368 546 1368.1 544.4C1368.2 542.7 1368.3 541 1368.4 539.4C1368.5 537.7 1368.6 536.1 1368.7 534.4C1368.8 532.7 1368.9 531.1 1369.1 529.4C1369.2 527.8 1369.3 526.1 1369.5 524.4C1369.6 522.8 1369.7 521.1 1369.9 519.5C1370 517.8 1370.2 516.2 1370.3 514.5C1370.5 512.9 1370.6 511.2 1370.8 509.6C1371 507.9 1371.1 506.3 1371.3 504.6C1371.5 503 1371.6 501.3 1371.8 499.7C1372 498 1372.2 496.4 1372.4 494.7C1372.6 493.1 1372.7 491.4 1372.9 489.8C1373.1 488.1 1373.3 486.5 1373.5 484.8C1373.7 483.2 1373.9 481.6 1374.1 479.9C1374.3 478.3 1374.5 476.6 1374.7 475C1374.9 473.3 1375.1 471.7 1375.3 470C1375.5 468.4 1375.7 466.7 1376 465.1C1376.2 463.4 1376.4 461.8 1376.6 460.1C1376.8 458.5 1377 456.8 1377.2 455.2C1377.4 453.5 1377.7 451.9 1377.9 450.2C1378.1 448.6 1378.3 446.9 1378.5 445.2C1378.7 443.6 1379 441.9 1379.2 440.3C1379.4 438.6 1379.6 437 1379.8 435.3C1380 433.6 1380.3 432 1380.5 430.3C1380.7 428.6 1380.9 427 1381.1 425.3C1381.3 423.6 1381.6 422 1381.8 420.3C1382 418.6 1382.2 417 1382.4 415.3C1382.7 413.6 1382.9 412 1383.1 410.3C1383.3 408.6 1383.6 407 1383.8 405.3C1384 403.6 1384.2 402 1384.5 400.3C1384.7 398.7 1384.9 397 1385.2 395.3C1385.4 393.7 1385.6 392 1385.9 390.4C1386.1 388.7 1386.4 387.1 1386.6 385.4C1386.8 383.8 1387.1 382.1 1387.3 380.5C1387.6 378.8 1387.8 377.2 1388.1 375.5C1388.4 373.9 1388.6 372.3 1388.9 370.6C1389.1 369 1389.4 367.4 1389.7 365.8C1390 364.1 1390.2 362.5 1390.5 360.9C1390.8 359.3 1391.1 357.7 1391.4 356.1C1391.6 354.4 1391.9 352.8 1392.2 351.2C1392.5 349.6 1392.8 348.1 1393.1 346.5C1393.4 344.9 1393.7 343.3 1394.1 341.7C1394.4 340.1 1394.7 338.5 1395 336.9C1395.3 335.4 1395.6 333.8 1395.9 332.2C1396.2 330.6 1396.6 329 1396.9 327.3C1397.2 325.7 1397.5 324.1 1397.8 322.5C1398 320.8 1398.3 319.2 1398.6 317.5C1398.9 315.8 1399.2 314.1 1399.4 312.4C1399.7 310.6 1399.9 308.9 1400.1 307.1C1400.4 305.4 1400.6 303.5 1400.8 301.7C1401 299.9 1401.2 298 1401.4 296.2C1401.6 294.3 1401.8 292.5 1402.1 290.6C1402.4 288.8 1402.7 287 1403.1 285.3C1403.5 283.5 1404 281.8 1404.6 280.3C1405.2 278.7 1405.8 277.1 1406.7 275.8C1407.5 274.4 1408.5 273.1 1409.5 272C1410.5 271 1411.6 270.1 1412.7 269.6C1413.8 269.2 1414.9 269 1416 269.3C1417 269.6 1418 270.4 1418.8 271.6C1419.7 272.8 1420.4 274.7 1421 276.6C1421.7 278.4 1422.2 280.8 1422.7 282.9C1423.1 285 1423.5 287.2 1423.8 289.2C1424.1 291.2 1424.3 293.1 1424.5 294.9C1424.7 296.8 1424.9 298.5 1425 300.3C1425.2 302.1 1425.3 303.8 1425.4 305.5C1425.5 307.2 1425.7 308.9 1425.7 310.5C1425.8 312.2 1425.9 313.9 1426 315.5C1426 317.1 1426 318.7 1426 320.3C1426 322 1426 323.6 1426 325.2C1426 326.8 1425.9 328.4 1425.8 330C1425.8 331.6 1425.7 333.2 1425.5 334.8C1425.4 336.4 1425.3 338 1425.2 339.5C1425 341.1 1424.9 342.7 1424.7 344.3C1424.5 345.9 1424.4 347.5 1424.2 349.1C1424 350.7 1423.8 352.4 1423.6 354C1423.4 355.6 1423.2 357.2 1422.9 358.8C1422.7 360.4 1422.5 362.1 1422.3 363.7C1422.1 365.4 1421.8 367 1421.6 368.7C1421.4 370.3 1421.1 372 1420.9 373.7C1420.7 375.3 1420.5 377 1420.2 378.7C1420 380.4 1419.8 382.1 1419.5 383.8C1419.3 385.5 1419.1 387.2 1418.8 388.9C1418.6 390.6 1418.4 392.3 1418.2 394C1417.9 395.7 1417.7 397.4 1417.5 399.1C1417.3 400.8 1417 402.5 1416.8 404.2C1416.6 405.9 1416.4 407.6 1416.1 409.3C1415.9 411 1415.7 412.7 1415.5 414.4C1415.3 416.1 1415 417.8 1414.8 419.5C1414.6 421.2 1414.4 422.9 1414.2 424.6C1414 426.2 1413.8 427.9 1413.6 429.6C1413.4 431.2 1413.2 432.9 1413 434.5C1412.8 436.1 1412.6 437.8 1412.4 439.4C1412.2 441 1412 442.6 1411.8 444.2C1411.6 445.8 1411.4 447.4 1411.2 449C1411 450.5 1410.9 452.1 1410.7 453.6C1410.5 455.2 1410.3 456.7 1410.2 458.2C1410 459.7 1409.8 461.2 1409.7 462.7C1409.5 464.2 1409.4 465.6 1409.2 467.1C1409 468.6 1408.9 470 1408.7 471.5C1408.6 472.9 1408.4 474.4 1408.2 475.8C1408.1 477.3 1407.9 478.7 1407.8 480.1C1407.6 481.6 1407.4 483 1407.3 484.5C1407.1 485.9 1407 487.3 1406.8 488.8C1406.6 490.2 1406.4 491.7 1406.3 493.2C1406.1 494.6 1405.9 496.1 1405.7 497.6C1405.5 499 1405.3 500.5 1405.1 502C1404.9 503.5 1404.8 505 1404.6 506.5C1404.4 508 1404.2 509.5 1404 511.1C1403.7 512.6 1403.5 514.1 1403.3 515.7C1403.1 517.2 1402.9 518.7 1402.7 520.3C1402.5 521.9 1402.3 523.4 1402.1 525C1401.9 526.6 1401.7 528.2 1401.4 529.7C1401.2 531.3 1401 532.9 1400.8 534.6C1400.6 536.2 1400.4 537.8 1400.2 539.4C1400 541 1399.7 542.7 1399.5 544.3C1399.3 546 1399.1 547.6 1398.9 549.3C1398.7 551 1398.5 552.6 1398.3 554.3C1398.1 556 1397.9 557.6 1397.7 559.3C1397.5 561 1397.2 562.7 1397 564.4C1396.8 566.1 1396.6 567.8 1396.4 569.5C1396.3 571.1 1396.1 572.8 1395.9 574.5C1395.7 576.2 1395.5 577.9 1395.3 579.6C1395.1 581.3 1394.9 583 1394.7 584.7C1394.6 586.4 1394.4 588.1 1394.2 589.8C1394 591.5 1393.9 593.2 1393.7 594.8C1393.5 596.5 1393.3 598.2 1393.2 599.9C1393 601.5 1392.9 603.2 1392.7 604.9C1392.6 606.5 1392.4 608.2 1392.3 609.8C1392.1 611.5 1392 613.1 1391.8 614.7C1391.7 616.4 1391.6 618 1391.4 619.6C1391.3 621.2 1391.1 623.6 1391.1 624.4Z" fill="#c2c2c2" stroke="#000" stroke-opacity="0.85" stroke-width="0.9" stroke-linejoin="round"/>
<path d="M1379.2 621C1379 620.2 1378.3 617.9 1378 616.3C1377.6 614.7 1377.2 613.1 1376.9 611.5C1376.6 609.9 1376.3 608.2 1376 606.6C1375.7 605 1375.4 603.4 1375.2 601.7C1374.9 600.1 1374.7 598.5 1374.5 596.8C1374.3 595.2 1374.2 593.5 1374 591.9C1373.8 590.2 1373.7 588.6 1373.6 586.9C1373.5 585.3 1373.4 583.6 1373.3 581.9C1373.2 580.3 1373.1 578.6 1373.1 576.9C1373 575.3 1373 573.6 1373 571.9C1372.9 570.2 1372.9 568.6 1372.9 566.9C1372.9 565.2 1373 563.5 1373 561.9C1373 560.2 1373.1 558.5 1373.1 556.8C1373.2 555.1 1373.2 553.5 1373.3 551.8C1373.4 550.1 1373.5 548.4 1373.5 546.8C1373.6 545.1 1373.7 543.4 1373.8 541.7C1374 540.1 1374.1 538.4 1374.2 536.7C1374.3 535.1 1374.4 533.4 1374.6 531.7C1374.7 530.1 1374.8 528.4 1375 526.7C1375.1 525.1 1375.3 523.4 1375.4 521.8C1375.6 520.1 1375.7 518.5 1375.9 516.8C1376.1 515.1 1376.2 513.5 1376.4 511.8C1376.6 510.2 1376.7 508.5 1376.9 506.9C1377.1 505.2 1377.3 503.6 1377.4 501.9C1377.6 500.3 1377.8 498.7 1378 497C1378.2 495.4 1378.3 493.7 1378.5 492.1C1378.7 490.4 1378.9 488.8 1379.1 487.1C1379.3 485.5 1379.4 483.8 1379.6 482.2C1379.8 480.5 1380 478.9 1380.2 477.2C1380.4 475.6 1380.5 473.9 1380.7 472.3C1380.9 470.6 1381.1 468.9 1381.3 467.3C1381.4 465.6 1381.6 464 1381.8 462.3C1381.9 460.7 1382.1 459 1382.3 457.3C1382.4 455.7 1382.6 454 1382.8 452.3C1382.9 450.7 1383.1 449 1383.2 447.3C1383.4 445.6 1383.5 444 1383.7 442.3C1383.8 440.6 1384 438.9 1384.1 437.3C1384.3 435.6 1384.5 433.9 1384.6 432.3C1384.8 430.6 1384.9 428.9 1385.1 427.2C1385.2 425.6 1385.4 423.9 1385.5 422.2C1385.7 420.5 1385.9 418.9 1386 417.2C1386.2 415.5 1386.3 413.9 1386.5 412.2C1386.7 410.5 1386.9 408.9 1387 407.2C1387.2 405.6 1387.4 403.9 1387.6 402.3C1387.8 400.6 1388 399 1388.2 397.3C1388.4 395.7 1388.6 394 1388.8 392.4C1389 390.7 1389.2 389.1 1389.5 387.5C1389.7 385.8 1389.9 384.2 1390.2 382.6C1390.4 381 1390.7 379.4 1390.9 377.7C1391.2 376.1 1391.5 374.5 1391.8 372.9C1392 371.3 1392.3 369.7 1392.6 368.1C1392.9 366.5 1393.2 364.9 1393.5 363.3C1393.8 361.7 1394.1 360.1 1394.4 358.4C1394.7 356.8 1395.1 355.2 1395.4 353.5C1395.7 351.9 1396 350.2 1396.3 348.5C1396.6 346.8 1396.9 345.2 1397.2 343.4C1397.5 341.7 1397.8 340 1398.1 338.2C1398.4 336.5 1398.7 334.7 1399 332.8C1399.4 330.9 1399.7 328.9 1400.1 326.9C1400.5 324.8 1400.9 322.4 1401.4 320.5C1401.9 318.6 1402.5 316.5 1403.1 315.4C1403.8 314.3 1404.5 313.8 1405.3 313.9C1406.1 313.9 1406.9 314.6 1407.7 315.6C1408.4 316.5 1409.2 317.9 1409.8 319.4C1410.4 320.9 1410.9 322.7 1411.4 324.5C1411.8 326.2 1412.1 328.2 1412.3 330.1C1412.5 332 1412.7 334 1412.8 336C1412.9 337.9 1412.9 339.9 1412.9 341.8C1412.9 343.7 1412.9 345.5 1412.9 347.2C1412.9 349 1412.8 350.6 1412.8 352.3C1412.7 353.9 1412.6 355.4 1412.6 357C1412.5 358.6 1412.4 360.1 1412.4 361.6C1412.3 363.2 1412.2 364.7 1412.2 366.3C1412.1 367.9 1412.1 369.5 1412 371.1C1412 372.7 1411.9 374.4 1411.9 376C1411.8 377.7 1411.8 379.4 1411.7 381C1411.7 382.7 1411.6 384.4 1411.6 386.1C1411.5 387.8 1411.5 389.5 1411.4 391.2C1411.4 392.9 1411.3 394.6 1411.2 396.3C1411.1 398 1411.1 399.7 1411 401.4C1410.9 403.1 1410.8 404.8 1410.7 406.5C1410.6 408.2 1410.4 409.8 1410.3 411.5C1410.2 413.2 1410.1 414.9 1409.9 416.5C1409.8 418.2 1409.6 419.9 1409.5 421.5C1409.3 423.2 1409.2 424.8 1409 426.5C1408.8 428.1 1408.7 429.8 1408.5 431.5C1408.3 433.1 1408.2 434.7 1408 436.4C1407.8 438 1407.6 439.7 1407.5 441.3C1407.3 443 1407.1 444.6 1406.9 446.3C1406.7 447.9 1406.6 449.5 1406.4 451.2C1406.2 452.8 1406 454.5 1405.9 456.1C1405.7 457.8 1405.5 459.4 1405.3 461.1C1405.2 462.7 1405 464.3 1404.8 466C1404.7 467.6 1404.5 469.3 1404.4 471C1404.2 472.6 1404.1 474.3 1403.9 475.9C1403.8 477.6 1403.6 479.2 1403.5 480.9C1403.4 482.6 1403.2 484.2 1403.1 485.9C1403 487.6 1402.9 489.2 1402.7 490.9C1402.6 492.6 1402.5 494.2 1402.4 495.9C1402.3 497.6 1402.2 499.3 1402.1 500.9C1401.9 502.6 1401.8 504.3 1401.7 506C1401.6 507.6 1401.5 509.3 1401.4 511C1401.3 512.7 1401.1 514.4 1401 516C1400.9 517.7 1400.8 519.4 1400.7 521.1C1400.5 522.7 1400.4 524.4 1400.3 526.1C1400.2 527.8 1400 529.4 1399.9 531.1C1399.7 532.8 1399.6 534.4 1399.5 536.1C1399.3 537.8 1399.1 539.5 1399 541.1C1398.8 542.8 1398.6 544.5 1398.5 546.1C1398.3 547.8 1398.1 549.4 1397.9 551.1C1397.7 552.7 1397.5 554.4 1397.3 556.1C1397.1 557.7 1396.9 559.4 1396.6 561C1396.4 562.6 1396.2 564.3 1395.9 565.9C1395.6 567.6 1395.4 569.2 1395.1 570.8C1394.8 572.5 1394.5 574.1 1394.2 575.7C1393.9 577.3 1393.6 578.9 1393.3 580.6C1392.9 582.2 1392.6 583.8 1392.2 585.4C1391.9 587 1391.5 588.6 1391.1 590.2C1390.7 591.8 1390.3 593.4 1389.8 594.9C1389.4 596.5 1389 598.1 1388.5 599.7C1388 601.2 1387.6 602.8 1387.1 604.4C1386.6 605.9 1386 607.5 1385.5 609C1385 610.6 1384.4 612.1 1383.8 613.6C1383.2 615.2 1382.3 617.4 1382 618.2Z" fill="#adadad" stroke="#000" stroke-opacity="0.85" stroke-width="0.9" stroke-linejoin="round"/>
<path d="M1384.3 575.8C1384 575 1383.3 572.6 1382.8 571C1382.4 569.4 1382 567.8 1381.6 566.2C1381.2 564.6 1380.9 563 1380.6 561.4C1380.3 559.8 1380.1 558.2 1379.8 556.6C1379.6 555 1379.4 553.4 1379.2 551.8C1379.1 550.1 1378.9 548.5 1378.8 546.9C1378.7 545.3 1378.6 543.6 1378.6 542C1378.5 540.4 1378.5 538.7 1378.5 537.1C1378.4 535.5 1378.5 533.8 1378.5 532.2C1378.5 530.6 1378.6 528.9 1378.7 527.3C1378.7 525.6 1378.8 524 1378.9 522.3C1379.1 520.7 1379.2 519 1379.3 517.4C1379.5 515.8 1379.6 514.1 1379.8 512.5C1380 510.8 1380.1 509.1 1380.3 507.5C1380.5 505.8 1380.7 504.2 1380.9 502.5C1381.1 500.9 1381.4 499.2 1381.6 497.6C1381.8 495.9 1382 494.3 1382.3 492.6C1382.5 491 1382.7 489.3 1383 487.7C1383.2 486 1383.4 484.4 1383.7 482.7C1383.9 481.1 1384.1 479.4 1384.4 477.8C1384.6 476.1 1384.8 474.5 1385 472.8C1385.3 471.2 1385.5 469.5 1385.7 467.9C1385.9 466.2 1386.1 464.6 1386.3 463C1386.5 461.3 1386.7 459.7 1386.8 458.1C1387 456.4 1387.2 454.8 1387.4 453.1C1387.5 451.5 1387.7 449.9 1387.8 448.2C1388 446.6 1388.2 445 1388.3 443.3C1388.5 441.7 1388.6 440.1 1388.8 438.4C1388.9 436.8 1389.1 435.2 1389.2 433.5C1389.4 431.9 1389.5 430.2 1389.7 428.6C1389.8 427 1390 425.3 1390.1 423.7C1390.3 422 1390.5 420.4 1390.6 418.7C1390.8 417.1 1391 415.4 1391.2 413.7C1391.4 412.1 1391.6 410.4 1391.8 408.8C1392 407.1 1392.2 405.5 1392.4 403.8C1392.6 402.2 1392.8 400.6 1392.9 399C1393.1 397.5 1393.3 396 1393.5 394.5C1393.7 392.9 1393.9 391.4 1394.1 389.7C1394.3 388 1394.4 386.3 1394.6 384.4C1394.9 382.5 1395.1 380.4 1395.3 378.4C1395.6 376.4 1395.9 374.3 1396.2 372.3C1396.6 370.3 1397 368.2 1397.5 366.5C1397.9 364.8 1398.5 363 1399 361.9C1399.5 360.9 1400.1 360 1400.6 360C1401.1 360 1401.7 360.7 1402.1 361.7C1402.6 362.8 1403 364.5 1403.3 366.2C1403.7 368 1404 370.2 1404.2 372.2C1404.4 374.2 1404.6 376.3 1404.7 378.3C1404.7 380.2 1404.7 382.1 1404.7 383.9C1404.7 385.8 1404.6 387.5 1404.6 389.3C1404.6 391 1404.5 392.8 1404.5 394.5C1404.5 396.2 1404.5 397.8 1404.5 399.5C1404.5 401.1 1404.5 402.8 1404.5 404.4C1404.5 406 1404.5 407.7 1404.4 409.3C1404.4 410.9 1404.4 412.5 1404.4 414.1C1404.4 415.7 1404.3 417.3 1404.3 419C1404.3 420.6 1404.2 422.2 1404.1 423.8C1404.1 425.5 1404 427.1 1403.9 428.7C1403.9 430.4 1403.8 432 1403.7 433.7C1403.6 435.3 1403.5 437 1403.4 438.6C1403.3 440.3 1403.2 441.9 1403.1 443.6C1402.9 445.2 1402.8 446.9 1402.7 448.6C1402.6 450.2 1402.5 451.9 1402.4 453.5C1402.2 455.2 1402.1 456.9 1402 458.5C1401.9 460.2 1401.7 461.9 1401.6 463.5C1401.5 465.2 1401.4 466.9 1401.3 468.5C1401.2 470.2 1401 471.9 1400.9 473.5C1400.8 475.2 1400.7 476.8 1400.6 478.5C1400.5 480.2 1400.4 481.8 1400.3 483.5C1400.2 485.2 1400.1 486.8 1400 488.5C1399.9 490.1 1399.8 491.8 1399.6 493.4C1399.5 495.1 1399.4 496.8 1399.3 498.4C1399.2 500.1 1399.1 501.7 1398.9 503.4C1398.8 505 1398.7 506.7 1398.6 508.3C1398.4 510 1398.3 511.6 1398.2 513.3C1398 514.9 1397.9 516.6 1397.7 518.2C1397.5 519.9 1397.4 521.5 1397.2 523.1C1397 524.8 1396.8 526.4 1396.6 528.1C1396.4 529.7 1396.2 531.3 1396 533C1395.8 534.6 1395.6 536.2 1395.4 537.9C1395.1 539.5 1394.9 541.1 1394.6 542.8C1394.3 544.4 1394.1 546 1393.8 547.6C1393.5 549.3 1393.2 550.9 1392.9 552.5C1392.5 554.1 1392.2 555.7 1391.9 557.3C1391.5 559 1391.1 560.6 1390.8 562.2C1390.4 563.8 1390 565.4 1389.6 567C1389.1 568.6 1388.5 571 1388.2 571.8Z" fill="#999999" stroke="#000" stroke-opacity="0.85" stroke-width="0.9" stroke-linejoin="round"/>
<path d="M1355.1 50.7C1355.1 51.3 1355.1 53.4 1355.1 54.7C1355.1 56.1 1355.1 57.4 1355.1 58.7C1355.1 60 1355.1 61.3 1355.1 62.6C1355.1 63.9 1355.1 65.2 1355.1 66.5C1355 67.8 1355 69.1 1355 70.5C1355 71.8 1355 73.1 1355 74.4C1355 75.8 1355 77.1 1355 78.5C1355.1 79.8 1355.1 81.2 1355.1 82.6C1355.1 84 1355.2 85.3 1355.2 86.7C1355.2 88.1 1355.3 89.4 1355.3 90.8C1355.3 92.1 1355.4 93.4 1355.4 94.8C1355.5 96.1 1355.5 97.3 1355.5 98.6C1355.5 99.9 1355.6 101.1 1355.6 102.3C1355.6 103.6 1355.7 104.8 1355.7 106C1355.8 107.3 1355.9 108.5 1355.9 109.7C1356 111 1356.1 112.3 1356.3 113.6C1356.4 114.9 1356.6 116.3 1356.8 117.7C1357 119.1 1357.3 120.6 1357.5 122.1C1357.8 123.6 1358.2 125.3 1358.6 126.9C1358.9 128.5 1359.4 130.2 1359.8 131.8C1360.3 133.3 1360.8 134.9 1361.4 136.2C1361.9 137.6 1362.5 138.9 1363.1 139.9C1363.7 140.8 1364.4 141.7 1365.1 142.1C1365.7 142.6 1366.5 142.7 1367.2 142.5C1367.9 142.3 1368.7 141.7 1369.4 141C1370.2 140.2 1370.9 139.1 1371.6 137.9C1372.3 136.7 1372.9 135.3 1373.5 133.9C1374.1 132.5 1374.7 131 1375.1 129.5C1375.6 128 1376.1 126.5 1376.5 125C1376.9 123.5 1377.3 122.1 1377.6 120.7C1378 119.3 1378.4 117.9 1378.7 116.6C1379 115.2 1379.3 113.9 1379.7 112.6C1380 111.4 1380.3 110.1 1380.5 108.9C1380.8 107.6 1381.1 106.4 1381.4 105.2C1381.7 103.9 1381.9 102.7 1382.2 101.5C1382.4 100.3 1382.7 99 1383 97.8C1383.2 96.6 1383.5 95.3 1383.7 94C1384 92.8 1384.3 91.5 1384.5 90.2C1384.8 88.9 1385 87.6 1385.3 86.3C1385.6 85 1385.8 83.6 1386.1 82.3C1386.3 81 1386.6 79.6 1386.8 78.3C1387.1 77 1387.3 75.6 1387.6 74.3C1387.8 73 1388.1 71.6 1388.3 70.3C1388.5 68.9 1388.8 67.6 1389 66.3C1389.2 64.9 1389.4 63.6 1389.7 62.3C1389.9 61 1390.1 59.7 1390.3 58.4C1390.5 57 1390.7 55.8 1390.9 54.5C1391.1 53.2 1391.3 51.3 1391.4 50.7Z" fill="#d5d5d5" stroke="#000" stroke-opacity="0.85" stroke-width="0.9" stroke-linejoin="round"/>
<path d="M1366.2 50.7C1366.2 51.2 1366.3 52.6 1366.3 53.6C1366.3 54.6 1366.3 55.7 1366.4 56.8C1366.4 57.8 1366.4 58.9 1366.5 59.9C1366.5 60.9 1366.6 61.9 1366.6 62.9C1366.7 63.9 1366.7 64.8 1366.8 65.7C1366.9 66.6 1367 67.5 1367.1 68.4C1367.2 69.4 1367.3 70.3 1367.5 71.2C1367.6 72.2 1367.8 73.2 1367.9 74.3C1368.1 75.4 1368.2 76.5 1368.4 77.7C1368.7 78.8 1368.9 80 1369.1 81.1C1369.4 82.3 1369.7 83.4 1370.1 84.5C1370.4 85.6 1370.9 86.7 1371.3 87.6C1371.8 88.5 1372.3 89.4 1372.9 89.9C1373.4 90.4 1374 90.7 1374.5 90.5C1375.1 90.4 1375.6 89.8 1376.2 89.1C1376.7 88.4 1377.2 87.3 1377.7 86.2C1378.2 85.1 1378.6 83.9 1379 82.8C1379.4 81.6 1379.7 80.5 1380 79.4C1380.3 78.4 1380.5 77.3 1380.8 76.3C1381 75.3 1381.2 74.4 1381.4 73.4C1381.7 72.4 1381.9 71.5 1382.1 70.5C1382.4 69.6 1382.6 68.6 1382.9 67.7C1383.1 66.7 1383.4 65.8 1383.7 64.8C1384 63.9 1384.3 62.9 1384.6 62C1384.9 61.1 1385.3 60.1 1385.6 59.2C1385.9 58.2 1386.3 57.3 1386.6 56.4C1387 55.4 1387.3 54.5 1387.7 53.5C1388.1 52.6 1388.6 51.1 1388.8 50.7Z" fill="#c2c2c2" stroke="#000" stroke-opacity="0.85" stroke-width="0.9" stroke-linejoin="round"/>
<path d="M1398.4 50.7C1398.3 51.5 1398.1 53.9 1397.9 55.6C1397.7 57.2 1397.6 58.9 1397.4 60.5C1397.2 62.2 1397 63.8 1396.9 65.5C1396.7 67.1 1396.5 68.8 1396.3 70.4C1396.1 72.1 1395.9 73.7 1395.7 75.4C1395.5 77 1395.4 78.7 1395.2 80.3C1395 82 1394.8 83.6 1394.6 85.3C1394.4 86.9 1394.2 88.6 1393.9 90.2C1393.7 91.9 1393.5 93.6 1393.3 95.2C1393.1 96.9 1392.9 98.5 1392.7 100.2C1392.5 101.8 1392.2 103.5 1392 105.2C1391.8 106.8 1391.6 108.5 1391.3 110.1C1391.1 111.8 1390.9 113.4 1390.6 115.1C1390.4 116.7 1390.2 118.4 1389.9 120C1389.7 121.7 1389.5 123.3 1389.2 125C1389 126.6 1388.7 128.3 1388.5 129.9C1388.2 131.5 1388 133.2 1387.7 134.8C1387.5 136.5 1387.2 138.1 1387 139.7C1386.7 141.4 1386.4 143 1386.2 144.6C1385.9 146.3 1385.7 147.9 1385.4 149.5C1385.1 151.2 1384.9 152.8 1384.6 154.4C1384.3 156.1 1384.1 157.7 1383.8 159.3C1383.5 160.9 1383.2 162.6 1383 164.2C1382.7 165.8 1382.4 167.5 1382.1 169.1C1381.9 170.7 1381.6 172.3 1381.3 174C1381 175.6 1380.8 177.2 1380.5 178.8C1380.2 180.5 1380 182.1 1379.7 183.7C1379.4 185.4 1379.1 187 1378.9 188.6C1378.6 190.3 1378.3 191.9 1378 193.5C1377.8 195.2 1377.5 196.8 1377.2 198.4C1377 200.1 1376.7 201.7 1376.4 203.3C1376.2 205 1375.9 206.6 1375.6 208.3C1375.4 209.9 1375.1 211.6 1374.9 213.2C1374.6 214.9 1374.3 216.5 1374.1 218.2C1373.8 219.8 1373.6 221.5 1373.3 223.2C1373.1 224.8 1372.8 226.5 1372.6 228.1C1372.3 229.8 1372.1 231.5 1371.9 233.1C1371.6 234.8 1371.4 236.5 1371.1 238.1C1370.9 239.8 1370.7 241.4 1370.4 243.1C1370.2 244.8 1370 246.4 1369.8 248.1C1369.5 249.8 1369.3 251.4 1369.1 253.1C1368.9 254.8 1368.7 256.4 1368.5 258.1C1368.2 259.8 1368 261.4 1367.8 263.1C1367.6 264.7 1367.4 266.4 1367.2 268C1367 269.7 1366.8 271.3 1366.6 273C1366.4 274.6 1366.2 276.3 1366 277.9C1365.9 279.6 1365.7 281.2 1365.5 282.8C1365.3 284.5 1365.1 286.1 1365 287.7C1364.8 289.3 1364.6 291 1364.4 292.6C1364.3 294.2 1364.1 295.8 1364 297.4C1363.8 299 1363.6 300.6 1363.5 302.2C1363.3 303.8 1363.2 305.4 1363 307C1362.9 308.6 1362.8 310.1 1362.6 311.7C1362.5 313.3 1362.4 314.9 1362.2 316.5C1362.1 318.1 1362 319.7 1361.9 321.3C1361.8 323 1361.6 324.6 1361.5 326.3C1361.5 327.9 1361.4 329.6 1361.3 331.3C1361.2 333 1361.1 334.7 1361 336.5C1361 338.3 1360.9 340.1 1360.9 341.9C1360.8 343.7 1360.8 345.6 1360.7 347.5C1360.7 349.4 1360.7 351.4 1360.7 353.4C1360.7 355.3 1360.7 357.3 1360.8 359.2C1360.9 361.1 1361.1 363.1 1361.4 364.8C1361.7 366.5 1362.1 368.2 1362.6 369.6C1363.1 371 1363.8 372.4 1364.5 373.3C1365.2 374.2 1366 375 1366.8 375.2C1367.6 375.5 1368.4 375.4 1369.2 374.8C1370 374.1 1370.8 372.9 1371.5 371.3C1372.1 369.7 1372.8 367.3 1373.3 365.1C1373.9 362.9 1374.4 360.4 1374.8 358.2C1375.3 356.1 1375.6 354.1 1376 352.2C1376.4 350.3 1376.7 348.6 1377 346.9C1377.3 345.2 1377.6 343.6 1378 341.9C1378.3 340.3 1378.6 338.8 1378.9 337.2C1379.2 335.6 1379.5 334.1 1379.9 332.5C1380.2 331 1380.5 329.4 1380.8 327.9C1381.1 326.3 1381.4 324.7 1381.6 323.2C1381.9 321.6 1382.2 320 1382.4 318.4C1382.7 316.8 1382.9 315.2 1383.2 313.5C1383.4 311.9 1383.7 310.3 1383.9 308.6C1384.1 307 1384.4 305.3 1384.6 303.7C1384.8 302 1385.1 300.4 1385.3 298.7C1385.5 297 1385.8 295.4 1386 293.7C1386.2 292 1386.5 290.4 1386.7 288.7C1386.9 287 1387.2 285.4 1387.4 283.7C1387.7 282.1 1387.9 280.4 1388.2 278.8C1388.5 277.1 1388.7 275.4 1389 273.8C1389.3 272.2 1389.5 270.5 1389.8 268.9C1390.1 267.2 1390.4 265.6 1390.7 263.9C1391 262.3 1391.3 260.7 1391.5 259C1391.8 257.4 1392.1 255.8 1392.5 254.1C1392.8 252.5 1393.1 250.9 1393.4 249.2C1393.7 247.6 1394 246 1394.3 244.4C1394.6 242.7 1395 241.1 1395.3 239.5C1395.6 237.9 1396 236.2 1396.3 234.6C1396.6 233 1397 231.4 1397.3 229.8C1397.7 228.1 1398 226.5 1398.4 224.9C1398.7 223.3 1399.1 221.7 1399.4 220.1C1399.8 218.5 1400.1 216.8 1400.5 215.2C1400.8 213.6 1401.2 212 1401.6 210.4C1401.9 208.8 1402.3 207.2 1402.7 205.5C1403.1 203.9 1403.4 202.3 1403.8 200.7C1404.2 199.1 1404.6 197.5 1404.9 195.9C1405.3 194.3 1405.7 192.7 1406.1 191C1406.5 189.4 1406.9 187.8 1407.3 186.2C1407.7 184.6 1408 183 1408.4 181.4C1408.8 179.8 1409.2 178.2 1409.6 176.5C1410 174.9 1410.4 173.3 1410.8 171.7C1411.2 170.1 1411.6 168.5 1412 166.9C1412.4 165.3 1412.8 163.7 1413.2 162.1C1413.6 160.4 1414 158.8 1414.4 157.2C1414.8 155.6 1415.3 154 1415.7 152.4C1416.1 150.8 1416.5 149.2 1416.9 147.6C1417.3 146 1417.7 144.3 1418.1 142.7C1418.5 141.1 1418.9 139.5 1419.3 137.9C1419.7 136.3 1420.1 134.7 1420.6 133.1C1421 131.5 1421.4 129.8 1421.8 128.2C1422.2 126.6 1422.6 125 1423 123.4C1423.4 121.8 1423.8 120.2 1424.2 118.6C1424.6 117 1425 115.3 1425.4 113.7C1425.8 112.1 1426.2 110.5 1426.6 108.9C1427 107.3 1427.4 105.7 1427.8 104C1428.2 102.4 1428.6 100.8 1429 99.2C1429.4 97.6 1429.8 96 1430.2 94.4C1430.6 92.8 1431 91.1 1431.4 89.5C1431.8 87.9 1432.2 86.3 1432.6 84.7C1432.9 83.1 1433.3 81.4 1433.7 79.8C1434.1 78.2 1434.5 76.6 1434.8 75C1435.2 73.4 1435.6 71.7 1436 70.1C1436.3 68.5 1436.7 66.9 1437.1 65.3C1437.4 63.6 1437.8 62 1438.2 60.4C1438.5 58.8 1438.9 57.2 1439.2 55.5C1439.6 53.9 1440.1 51.5 1440.3 50.7" fill="none" stroke="#000" stroke-opacity="0.85" stroke-width="0.9" stroke-linejoin="round"/>
<path d="M1409.2 52.1C1408.9 52.9 1408.3 55.3 1407.8 56.9C1407.4 58.5 1407 60.1 1406.7 61.8C1406.3 63.4 1406 65 1405.6 66.6C1405.3 68.3 1405 69.9 1404.7 71.5C1404.4 73.2 1404.2 74.8 1403.9 76.5C1403.6 78.1 1403.4 79.8 1403.1 81.4C1402.9 83.1 1402.7 84.7 1402.4 86.4C1402.2 88.1 1402 89.7 1401.8 91.4C1401.6 93 1401.4 94.7 1401.2 96.4C1401 98 1400.8 99.7 1400.6 101.3C1400.4 103 1400.1 104.7 1399.9 106.3C1399.7 108 1399.5 109.6 1399.3 111.3C1399 112.9 1398.8 114.6 1398.6 116.2C1398.3 117.9 1398.1 119.5 1397.8 121.1C1397.6 122.8 1397.3 124.4 1397.1 126.1C1396.8 127.7 1396.5 129.3 1396.3 131C1396 132.6 1395.7 134.2 1395.4 135.9C1395.2 137.5 1394.9 139.1 1394.6 140.8C1394.3 142.4 1394 144 1393.7 145.7C1393.4 147.3 1393.1 149 1392.8 150.6C1392.5 152.2 1392.2 153.9 1391.9 155.5C1391.6 157.2 1391.3 158.8 1391 160.5C1390.7 162.1 1390.4 163.8 1390.1 165.4C1389.8 167.1 1389.5 168.7 1389.2 170.4C1388.9 172 1388.6 173.7 1388.3 175.3C1388 177 1387.7 178.7 1387.4 180.3C1387.1 182 1386.8 183.6 1386.5 185.3C1386.2 186.9 1385.9 188.6 1385.7 190.3C1385.4 191.9 1385.1 193.6 1384.9 195.2C1384.6 196.8 1384.4 198.5 1384.1 200.1C1383.9 201.8 1383.7 203.4 1383.5 205C1383.2 206.7 1383 208.3 1382.8 209.9C1382.6 211.5 1382.5 213.1 1382.3 214.8C1382.1 216.4 1382 218 1381.8 219.6C1381.7 221.2 1381.6 222.8 1381.4 224.4C1381.3 226 1381.2 227.7 1381.1 229.3C1381 231 1380.9 232.7 1380.8 234.4C1380.7 236.1 1380.6 237.9 1380.5 239.6C1380.4 241.4 1380.3 243.3 1380.3 245.2C1380.2 247 1380.1 249 1380.1 250.9C1380 252.7 1380 254.7 1380.1 256.4C1380.2 258.2 1380.4 260.1 1380.7 261.3C1380.9 262.5 1381.3 263.8 1381.7 263.8C1382.1 263.9 1382.6 263.2 1383.1 261.6C1383.6 260.1 1384.2 256.7 1384.6 254.4C1385.1 252.1 1385.6 249.6 1386 247.7C1386.3 245.7 1386.6 244.4 1386.9 242.9C1387.2 241.3 1387.3 239.7 1387.5 238.1C1387.8 236.5 1387.9 234.9 1388.1 233.3C1388.4 231.7 1388.6 230 1388.9 228.4C1389.2 226.8 1389.5 225.2 1389.9 223.6C1390.3 222 1390.6 220.4 1391 218.7C1391.4 217.1 1391.9 215.5 1392.3 213.9C1392.7 212.3 1393.1 210.7 1393.5 209.1C1393.9 207.5 1394.4 205.9 1394.7 204.3C1395.1 202.7 1395.5 201.1 1395.9 199.5C1396.2 197.9 1396.6 196.3 1396.9 194.7C1397.2 193 1397.5 191.4 1397.8 189.8C1398.2 188.2 1398.4 186.6 1398.7 184.9C1399 183.3 1399.3 181.7 1399.6 180C1399.8 178.4 1400.1 176.8 1400.4 175.2C1400.6 173.5 1400.9 171.9 1401.1 170.2C1401.4 168.6 1401.6 167 1401.9 165.3C1402.1 163.7 1402.3 162.1 1402.6 160.4C1402.8 158.8 1403.1 157.1 1403.3 155.5C1403.6 153.8 1403.8 152.2 1404.1 150.5C1404.3 148.9 1404.6 147.2 1404.8 145.6C1405.1 143.9 1405.4 142.3 1405.6 140.6C1405.9 139 1406.1 137.3 1406.4 135.7C1406.6 134 1406.9 132.4 1407.2 130.7C1407.4 129.1 1407.7 127.4 1407.9 125.8C1408.1 124.1 1408.4 122.4 1408.6 120.8C1408.8 119.1 1409.1 117.5 1409.3 115.8C1409.5 114.2 1409.7 112.5 1409.9 110.8C1410.1 109.2 1410.3 107.5 1410.5 105.9C1410.7 104.2 1410.9 102.5 1411.1 100.9C1411.2 99.2 1411.4 97.6 1411.5 95.9C1411.7 94.2 1411.8 92.6 1411.9 90.9C1412 89.3 1412.1 87.6 1412.2 85.9C1412.3 84.3 1412.4 82.6 1412.5 81C1412.5 79.3 1412.6 77.6 1412.6 76C1412.6 74.3 1412.6 72.7 1412.6 71C1412.6 69.4 1412.6 67.7 1412.5 66C1412.5 64.4 1412.4 61.9 1412.3 61.1Z" fill="none" stroke="#000" stroke-opacity="0.85" stroke-width="0.9" stroke-linejoin="round"/>
<path d="M1405.2 624.4C1405.2 623.6 1405.1 621.1 1405.1 619.5C1405.1 617.8 1405.2 616.2 1405.2 614.5C1405.3 612.9 1405.4 611.2 1405.5 609.6C1405.6 607.9 1405.8 606.3 1405.9 604.6C1406.1 602.9 1406.2 601.3 1406.4 599.6C1406.6 598 1406.8 596.3 1407 594.7C1407.3 593 1407.5 591.4 1407.7 589.7C1408 588.1 1408.2 586.5 1408.5 584.8C1408.7 583.2 1409 581.6 1409.2 580C1409.5 578.3 1409.7 576.7 1410 575.1C1410.2 573.5 1410.5 571.9 1410.7 570.3C1410.9 568.8 1411.2 567.2 1411.4 565.6C1411.7 564 1411.9 562.4 1412.2 560.9C1412.5 559.3 1412.9 557.7 1413.2 556.1C1413.6 554.5 1414 552.8 1414.5 551.2C1414.9 549.5 1415.4 547.9 1416 546.2C1416.6 544.5 1417.3 542.8 1418 541C1418.8 539.3 1419.6 537.5 1420.5 535.8C1421.4 534.1 1422.4 532.4 1423.4 530.9C1424.4 529.3 1425.4 527.9 1426.5 526.7C1427.6 525.5 1428.8 524.5 1429.9 523.8C1431.1 523.1 1432.2 522.7 1433.4 522.6C1434.6 522.6 1435.8 522.9 1436.9 523.5C1438.1 524.1 1439.2 525.1 1440.3 526.3C1441.3 527.4 1442.3 528.9 1443.2 530.4C1444.1 531.9 1444.9 533.6 1445.6 535.3C1446.3 537 1446.9 538.9 1447.4 540.7C1447.9 542.5 1448.3 544.3 1448.7 546.1C1449 547.9 1449.3 549.7 1449.5 551.4C1449.8 553.1 1449.9 554.8 1450 556.4C1450.1 558.1 1450.2 559.7 1450.2 561.3C1450.2 562.9 1450.2 564.5 1450.1 566.1C1450.1 567.7 1450 569.3 1449.9 570.9C1449.8 572.5 1449.7 574.2 1449.5 575.8C1449.4 577.4 1449.2 579 1449 580.6C1448.8 582.3 1448.6 583.9 1448.4 585.5C1448.2 587.2 1447.9 588.8 1447.6 590.4C1447.4 592.1 1447.1 593.7 1446.8 595.3C1446.5 597 1446.2 598.6 1445.9 600.2C1445.6 601.9 1445.2 603.5 1444.9 605.1C1444.6 606.8 1444.2 608.4 1443.8 610C1443.5 611.6 1443.1 613.2 1442.7 614.8C1442.3 616.4 1441.9 618.1 1441.5 619.6C1441.1 621.2 1440.5 623.6 1440.3 624.4" fill="none" stroke="#000" stroke-opacity="0.85" stroke-width="0.9" stroke-linejoin="round"/>
</g>
<path d="M1176.24 50.6V624.6M1291.08 50.6V624.6M1405.92 50.6V624.6M1520.76 50.6V624.6M1061.4 533.25H1635.6M1061.4 441.89H1635.6M1061.4 350.54H1635.6M1061.4 259.18H1635.6M1061.4 167.83H1635.6M1061.4 76.47H1635.6" stroke="#262626" stroke-opacity="0.15" stroke-width="1.2" fill="none"/>
<g clip-path="url(#clip-b)">
<path d="M1386 50.7L1386 71.9L1385.7 94.6L1385.4 117.2L1385.4 134.2L1386.5 147.7L1388.8 161.3L1391.1 173.7L1393.3 185.1L1395.6 196.4L1395.6 196.3L1396.7 208.8L1397.3 221.2L1397.5 233.6L1397.5 246.1L1397.3 258.5L1397.1 271L1396.7 283.4L1396.2 295.9L1395.9 308.3L1395.6 320.7L1395.2 333.2L1394.8 345.6L1395 344.7L1394.8 357.1L1394.5 369.6L1393.9 382L1393.7 394.5L1393.3 406.9L1392.8 419.4L1392.5 431.8L1392.2 444.3L1391.6 456.7L1391.4 469.1L1391.1 481.6L1390.5 494L1390.3 484.7L1389.9 497.1L1389.7 509.6L1389.4 522L1389.1 534.5L1388.8 546.9L1388.5 559.4L1388.2 571.8L1387.7 584.3L1387.3 596.7L1387.1 609.1L1386.9 624.4" stroke="#0000ff" stroke-width="6.9" stroke-dasharray="7.6 5.1" stroke-dashoffset="0" fill="none"/>
</g>
<path d="M1176.24 624.6v-4.6M1176.24 50.6v4.6M1291.08 624.6v-4.6M1291.08 50.6v4.6M1405.92 624.6v-4.6M1405.92 50.6v4.6M1520.76 624.6v-4.6M1520.76 50.6v4.6M1061.4 533.25h4.6M1635.6 533.25h-4.6M1061.4 441.89h4.6M1635.6 441.89h-4.6M1061.4 350.54h4.6M1635.6 350.54h-4.6M1061.4 259.18h4.6M1635.6 259.18h-4.6M1061.4 167.83h4.6M1635.6 167.83h-4.6M1061.4 76.47h4.6M1635.6 76.47h-4.6" stroke="#262626" stroke-width="1.2" fill="none"/>
<rect x="1061.4" y="50.6" width="574.2" height="574" fill="none" stroke="#262626" stroke-width="1.3"/>
<text x="1061.4" y="670.1" font-size="34.3" text-anchor="middle">0</text>
<text x="1176.24" y="670.1" font-size="34.3" text-anchor="middle">20</text>
<text x="1291.08" y="670.1" font-size="34.3" text-anchor="middle">40</text>
<text x="1405.92" y="670.1" font-size="34.3" text-anchor="middle">60</text>
<text x="1520.76" y="670.1" font-size="34.3" text-anchor="middle">80</text>
<text x="1635.6" y="670.1" font-size="34.3" text-anchor="middle">100</text>
<text x="1051.4" y="638.5" font-size="34.3" text-anchor="end">0</text>
<text x="1051.4" y="547.15" font-size="34.3" text-anchor="end">0.5</text>
<text x="1051.4" y="455.79" font-size="34.3" text-anchor="end">1</text>
<text x="1051.4" y="364.44" font-size="34.3" text-anchor="end">1.5</text>
<text x="1051.4" y="273.08" font-size="34.3" text-anchor="end">2</text>
<text x="1051.4" y="181.73" font-size="34.3" text-anchor="end">2.5</text>
<text x="1051.4" y="90.37" font-size="34.3" text-anchor="end">3</text>
<text x="1348.5" y="718.6" font-size="39.3" text-anchor="middle"><tspan class="r">Ω</tspan> (Hz)</text>
<text x="947.4" y="280.6" font-size="39.3" text-anchor="middle" class="m">β</text>
<text x="947.4" y="329.6" font-size="39.3" text-anchor="middle">(rad)</text>
<text x="1402.9" y="31.9" font-size="37.8" text-anchor="middle" style="fill:#000">(b) <tspan class="m">μ</tspan> = 0.1</text>
<rect x="1676.4" y="50.3" width="28.9" height="575" fill="url(#cb)" stroke="#262626" stroke-width="1.2"/>
<text x="1712.2" y="62.3" font-size="30.6">0</text>
<text x="1712.2" y="177.3" font-size="30.6">-0.5</text>
<text x="1712.2" y="292.3" font-size="30.6">-1</text>
<text x="1712.2" y="407.3" font-size="30.6">-1.5</text>
<text x="1712.2" y="522.3" font-size="30.6">-2</text>
<text x="1712.2" y="637.3" font-size="30.6">-2.5</text>
<path d="M1705.3 165.3h-5.7M1705.3 280.3h-5.7M1705.3 395.3h-5.7M1705.3 510.3h-5.7" stroke="#262626" stroke-width="1.2" fill="none"/>
</g>
<g id="panel-c">
<clipPath id="clip-c"><rect x="152.5" y="829.2" width="577.2" height="575.1"/></clipPath>
<g clip-path="url(#clip-c)">
<path d="M206.7 829.5C205.7 829.6 202.4 829.6 200.3 829.8C198.2 830.1 196.2 830.6 194.3 831.1C192.3 831.7 190.5 832.5 188.7 833.4C186.9 834.2 185.2 835.2 183.6 836.3C182 837.4 180.4 838.7 179 840C177.5 841.3 176.2 842.7 174.9 844.2C173.6 845.7 172.4 847.3 171.3 848.9C170.2 850.5 169.2 852.2 168.3 854C167.4 855.7 166.6 857.5 165.9 859.3C165.2 861.1 164.6 862.9 164 864.8C163.5 866.6 163 868.5 162.6 870.5C162.2 872.4 161.8 874.3 161.5 876.3C161.2 878.3 161 880.2 160.8 882.2C160.5 884.2 160.4 886.3 160.2 888.3C160.1 890.3 160 892.3 159.9 894.4C159.8 896.4 159.7 898.5 159.6 900.5C159.6 902.5 159.5 904.6 159.4 906.6C159.3 908.7 159.3 910.7 159.2 912.7C159.1 914.7 159 916.8 158.9 918.8C158.9 920.8 158.8 922.9 158.7 924.9C158.6 926.9 158.5 928.9 158.5 930.9C158.4 932.9 158.3 935 158.2 937C158.2 939 158.1 941 158 943C158 945 157.9 947 157.8 949C157.8 951 157.7 953 157.6 955C157.6 957 157.5 959 157.4 961C157.4 963 157.3 965 157.3 967C157.2 969 157.2 971 157.1 973C157.1 975 157.1 977 157 979C157 981 157 982.9 156.9 984.9C156.9 986.9 156.9 988.9 156.9 990.9C156.9 992.9 156.8 994.8 156.8 996.8C156.8 998.8 156.8 1000.8 156.8 1002.8C156.8 1004.7 156.9 1006.7 156.9 1008.7C156.9 1010.7 156.9 1012.7 156.9 1014.6C157 1016.6 157 1018.6 157.1 1020.6C157.1 1022.6 157.2 1024.6 157.2 1026.6C157.3 1028.6 157.3 1030.6 157.4 1032.6C157.5 1034.6 157.6 1036.6 157.7 1038.6C157.8 1040.6 157.9 1042.7 158 1044.7C158.1 1046.8 158.2 1048.8 158.3 1050.9C158.5 1052.9 158.6 1055 158.8 1057.1C158.9 1059.2 159.1 1061.3 159.3 1063.4C159.4 1065.5 159.6 1067.6 159.9 1069.7C160.2 1071.7 160.5 1073.8 160.9 1075.8C161.3 1077.7 161.7 1079.7 162.3 1081.6C162.8 1083.5 163.4 1085.3 164.2 1087C164.9 1088.7 165.8 1090.4 166.8 1091.9C167.8 1093.4 168.9 1094.8 170.1 1096.1C171.4 1097.4 172.8 1098.6 174.4 1099.6C175.9 1100.6 177.7 1101.5 179.4 1102.3C181.2 1103 183.1 1103.7 185.1 1104.2C187 1104.7 189 1105.2 191 1105.5C193.1 1105.8 195.1 1106 197.2 1106.1C199.2 1106.2 201.2 1106.2 203.3 1106.2C205.3 1106.1 207.4 1106 209.4 1105.8C211.4 1105.7 213.5 1105.5 215.5 1105.3C217.5 1105.1 219.6 1104.9 221.6 1104.7C223.6 1104.6 225.6 1104.4 227.6 1104.2C229.7 1104 231.7 1103.9 233.7 1103.7C235.7 1103.6 237.7 1103.4 239.7 1103.3C241.7 1103.1 243.7 1103 245.7 1102.8C247.7 1102.7 249.7 1102.5 251.7 1102.4C253.7 1102.2 255.7 1102.1 257.7 1101.9C259.6 1101.7 261.6 1101.6 263.6 1101.4C265.6 1101.2 267.6 1101 269.6 1100.8C271.6 1100.6 273.5 1100.4 275.5 1100.1C277.5 1099.9 279.5 1099.7 281.5 1099.4C283.4 1099.2 285.4 1098.9 287.4 1098.6C289.4 1098.4 291.3 1098.1 293.3 1097.8C295.3 1097.5 297.3 1097.2 299.2 1096.9C301.2 1096.6 303.2 1096.2 305.1 1095.9C307.1 1095.6 309.1 1095.2 311 1094.9C313 1094.5 315 1094.1 316.9 1093.7C318.9 1093.3 320.9 1093 322.8 1092.5C324.8 1092.1 326.7 1091.7 328.7 1091.3C330.7 1090.9 332.6 1090.4 334.6 1090C336.5 1089.5 338.5 1089.1 340.4 1088.6C342.4 1088.1 344.4 1087.6 346.3 1087.1C348.3 1086.6 350.2 1086.1 352.2 1085.6C354.1 1085.1 356.1 1084.5 358 1084C360 1083.4 361.9 1082.9 363.8 1082.3C365.8 1081.7 367.7 1081.1 369.7 1080.5C371.6 1079.9 373.5 1079.3 375.4 1078.6C377.3 1078 379.2 1077.3 381.1 1076.6C383 1075.9 384.8 1075.1 386.7 1074.3C388.5 1073.6 390.3 1072.7 392.1 1071.9C393.9 1071 395.7 1070.1 397.4 1069.2C399.1 1068.2 400.9 1067.2 402.5 1066.2C404.2 1065.2 405.8 1064.1 407.4 1062.9C409 1061.8 410.6 1060.6 412.1 1059.3C413.7 1058 415.1 1056.7 416.6 1055.4C418 1054 419.5 1052.6 420.8 1051.2C422.2 1049.8 423.6 1048.3 424.9 1046.8C426.2 1045.2 427.4 1043.7 428.7 1042.1C429.9 1040.5 431.1 1038.9 432.2 1037.2C433.4 1035.6 434.5 1033.9 435.6 1032.2C436.7 1030.5 437.8 1028.8 438.8 1027.1C439.8 1025.3 440.8 1023.6 441.7 1021.8C442.7 1020.1 443.6 1018.3 444.5 1016.5C445.4 1014.7 446.2 1012.9 447 1011.1C447.8 1009.2 448.6 1007.4 449.4 1005.6C450.2 1003.7 450.9 1001.9 451.6 1000C452.3 998.1 453 996.2 453.6 994.4C454.3 992.5 454.9 990.6 455.6 988.7C456.2 986.8 456.8 984.9 457.3 982.9C457.9 981 458.4 979.1 459 977.2C459.5 975.2 460 973.3 460.5 971.3C461 969.4 461.5 967.4 462 965.5C462.4 963.5 462.9 961.6 463.3 959.6C463.8 957.6 464.2 955.7 464.6 953.7C465 951.7 465.4 949.8 465.8 947.8C466.2 945.8 466.6 943.8 467 941.9C467.4 939.9 467.8 937.9 468.1 935.9C468.5 934 468.9 932 469.2 930C469.6 928 470 926.1 470.3 924.1C470.7 922.1 471 920.1 471.4 918.2C471.8 916.2 472.1 914.2 472.5 912.3C472.8 910.3 473.2 908.3 473.5 906.4C473.9 904.4 474.2 902.5 474.6 900.5C474.9 898.5 475.3 896.6 475.6 894.6C475.9 892.6 476.3 890.7 476.6 888.7C476.9 886.7 477.3 884.8 477.6 882.8C477.9 880.8 478.3 878.9 478.6 876.9C478.9 874.9 479.2 873 479.5 871C479.9 869 480.2 867.1 480.5 865.1C480.8 863.1 481.1 861.1 481.4 859.2C481.7 857.2 482 855.2 482.3 853.2C482.6 851.3 482.9 849.3 483.2 847.3C483.5 845.3 483.7 843.3 484 841.3C484.3 839.3 484.6 837.3 484.8 835.3C485.1 833.3 485.5 830.3 485.6 829.3Z" fill="#cdcdcd" stroke="#000" stroke-opacity="0.85" stroke-width="0.9" stroke-linejoin="round"/>
<rect x="152.5" y="934" width="3.4" height="100" fill="#cdcdcd"/><path d="M729.3 853.5C728.4 853.7 725.4 854.1 723.4 854.4C721.4 854.7 719.4 854.9 717.4 855.2C715.5 855.5 713.5 855.7 711.5 855.9C709.5 856.1 707.5 856.4 705.6 856.6C703.6 856.8 701.6 857 699.6 857.2C697.6 857.4 695.7 857.6 693.7 857.8C691.7 858 689.7 858.1 687.7 858.3C685.7 858.5 683.8 858.7 681.8 858.9C679.8 859.1 677.8 859.2 675.8 859.4C673.8 859.6 671.9 859.8 669.9 860C667.9 860.2 665.9 860.4 663.9 860.6C661.9 860.8 659.9 861 657.9 861.2C656 861.4 654 861.7 652 861.9C650 862.1 648 862.4 646 862.6C644 862.9 642 863.2 640 863.5C638 863.8 636 864.1 634 864.4C632 864.7 630 865 628 865.4C625.9 865.8 623.9 866.1 621.9 866.5C619.9 866.9 617.9 867.4 615.9 867.8C613.9 868.2 611.9 868.7 609.8 869.2C607.8 869.7 605.8 870.2 603.8 870.7C601.8 871.2 599.8 871.8 597.9 872.4C595.9 872.9 593.9 873.5 591.9 874.2C590 874.8 588 875.5 586.1 876.1C584.1 876.8 582.2 877.5 580.3 878.2C578.4 879 576.5 879.7 574.6 880.5C572.8 881.3 570.9 882.1 569.1 883C567.2 883.8 565.4 884.7 563.6 885.6C561.8 886.5 560.1 887.4 558.3 888.4C556.6 889.3 554.9 890.3 553.2 891.4C551.5 892.4 549.8 893.4 548.2 894.5C546.6 895.6 545 896.7 543.4 897.9C541.9 899.1 540.3 900.2 538.8 901.5C537.3 902.7 535.9 904 534.5 905.2C533 906.5 531.7 907.9 530.3 909.2C529 910.6 527.7 912 526.4 913.4C525.1 914.9 523.9 916.3 522.7 917.8C521.6 919.4 520.4 920.9 519.3 922.5C518.2 924 517.1 925.6 516.1 927.3C515.1 928.9 514.1 930.5 513.1 932.2C512.1 933.9 511.2 935.6 510.3 937.3C509.4 939.1 508.5 940.8 507.7 942.6C506.8 944.4 506 946.2 505.2 948C504.4 949.8 503.7 951.7 502.9 953.5C502.2 955.4 501.5 957.3 500.8 959.2C500.1 961.1 499.4 963 498.8 964.9C498.1 966.8 497.5 968.7 496.9 970.7C496.3 972.6 495.7 974.6 495.1 976.6C494.5 978.5 494 980.5 493.4 982.5C492.9 984.5 492.4 986.4 491.8 988.4C491.3 990.4 490.8 992.4 490.3 994.4C489.9 996.4 489.4 998.4 488.9 1000.4C488.4 1002.4 488 1004.4 487.5 1006.4C487.1 1008.4 486.6 1010.4 486.2 1012.4C485.8 1014.4 485.3 1016.4 484.9 1018.4C484.5 1020.4 484.1 1022.4 483.7 1024.4C483.2 1026.4 482.8 1028.4 482.4 1030.3C482 1032.3 481.6 1034.3 481.3 1036.3C480.9 1038.3 480.5 1040.3 480.1 1042.3C479.7 1044.2 479.4 1046.2 479 1048.2C478.6 1050.2 478.3 1052.2 477.9 1054.1C477.5 1056.1 477.2 1058.1 476.8 1060.1C476.5 1062 476.1 1064 475.8 1066C475.4 1068 475.1 1069.9 474.7 1071.9C474.4 1073.9 474 1075.8 473.7 1077.8C473.4 1079.8 473 1081.7 472.7 1083.7C472.3 1085.7 472 1087.6 471.7 1089.6C471.3 1091.5 471 1093.5 470.7 1095.5C470.3 1097.4 470 1099.4 469.7 1101.3C469.3 1103.3 469 1105.2 468.6 1107.2C468.3 1109.1 468 1111.1 467.6 1113C467.3 1115 466.9 1116.9 466.6 1118.9C466.3 1120.8 465.9 1122.8 465.6 1124.7C465.2 1126.7 464.9 1128.6 464.5 1130.6C464.2 1132.5 463.8 1134.4 463.5 1136.4C463.1 1138.3 462.8 1140.3 462.4 1142.2C462.1 1144.2 461.7 1146.1 461.4 1148.1C461 1150 460.7 1152 460.3 1153.9C460 1155.9 459.6 1157.8 459.3 1159.8C458.9 1161.7 458.6 1163.7 458.2 1165.6C457.9 1167.6 457.5 1169.5 457.2 1171.5C456.8 1173.5 456.5 1175.4 456.1 1177.4C455.8 1179.3 455.4 1181.3 455 1183.3C454.7 1185.2 454.3 1187.2 454 1189.2C453.6 1191.2 453.3 1193.2 452.9 1195.1C452.6 1197.1 452.2 1199.1 451.9 1201.1C451.5 1203.1 451.2 1205.1 450.8 1207.1C450.5 1209.1 450.1 1211.1 449.8 1213.1C449.4 1215.1 449.1 1217.1 448.7 1219.1C448.4 1221.1 448 1223.2 447.7 1225.2C447.3 1227.2 447 1229.3 446.6 1231.3C446.3 1233.3 445.9 1235.4 445.6 1237.4C445.2 1239.5 444.9 1241.5 444.5 1243.5C444.1 1245.6 443.7 1247.6 443.4 1249.6C443 1251.7 442.6 1253.7 442.2 1255.7C441.8 1257.8 441.4 1259.8 440.9 1261.8C440.5 1263.8 440 1265.8 439.6 1267.8C439.1 1269.8 438.6 1271.8 438.1 1273.8C437.6 1275.7 437.1 1277.7 436.6 1279.6C436 1281.6 435.5 1283.5 434.9 1285.4C434.3 1287.4 433.7 1289.3 433 1291.2C432.4 1293 431.7 1294.9 431 1296.8C430.3 1298.6 429.6 1300.4 428.8 1302.2C428.1 1304 427.3 1305.8 426.5 1307.6C425.6 1309.4 424.8 1311.1 423.9 1312.8C423 1314.5 422.1 1316.2 421.1 1317.9C420.1 1319.5 419.1 1321.1 418.1 1322.7C417 1324.3 415.9 1325.9 414.8 1327.5C413.6 1329 412.5 1330.5 411.2 1332C410 1333.4 408.8 1334.9 407.5 1336.3C406.2 1337.7 404.8 1339.1 403.4 1340.4C402.1 1341.8 400.6 1343.1 399.2 1344.4C397.8 1345.7 396.3 1347 394.8 1348.2C393.2 1349.4 391.7 1350.6 390.1 1351.8C388.5 1353 386.9 1354.1 385.3 1355.2C383.7 1356.4 382 1357.4 380.3 1358.5C378.6 1359.6 376.9 1360.6 375.2 1361.6C373.5 1362.6 371.7 1363.6 369.9 1364.5C368.2 1365.5 366.3 1366.4 364.5 1367.3C362.7 1368.2 360.9 1369 359 1369.9C357.2 1370.7 355.3 1371.5 353.4 1372.3C351.5 1373.1 349.6 1373.9 347.7 1374.6C345.8 1375.4 343.9 1376.1 342 1376.7C340.1 1377.4 338.1 1378.1 336.2 1378.7C334.2 1379.4 332.3 1380 330.3 1380.6C328.4 1381.2 326.4 1381.7 324.4 1382.3C322.5 1382.8 320.5 1383.3 318.5 1383.8C316.5 1384.3 314.6 1384.8 312.6 1385.2C310.6 1385.7 308.6 1386.1 306.6 1386.6C304.6 1387 302.7 1387.4 300.7 1387.8C298.7 1388.2 296.7 1388.6 294.7 1389C292.7 1389.3 290.7 1389.7 288.7 1390.1C286.7 1390.4 284.8 1390.8 282.8 1391.1C280.8 1391.5 278.8 1391.8 276.8 1392.1C274.8 1392.5 272.8 1392.8 270.8 1393.1C268.9 1393.5 266.9 1393.8 264.9 1394.1C262.9 1394.5 260.9 1394.8 259 1395.2C257 1395.5 255 1395.8 253 1396.2C251.1 1396.6 249.1 1396.9 247.1 1397.3C245.2 1397.6 243.2 1398 241.3 1398.4C239.3 1398.8 237.4 1399.2 235.4 1399.6C233.5 1400 231.5 1400.5 229.6 1400.9C227.7 1401.4 225.8 1401.8 223.8 1402.3C221.9 1402.8 219.1 1403.6 218.1 1403.8L486.2 1403.8C486.4 1402.9 487 1400.2 487.4 1398.3C487.8 1396.5 488.2 1394.6 488.6 1392.8C489 1390.9 489.4 1389 489.7 1387.1C490.1 1385.2 490.5 1383.3 490.8 1381.4C491.2 1379.4 491.5 1377.5 491.8 1375.6C492.2 1373.6 492.5 1371.7 492.8 1369.7C493.1 1367.8 493.5 1365.8 493.8 1363.8C494.1 1361.9 494.4 1359.9 494.7 1357.9C495 1355.9 495.3 1353.9 495.6 1351.9C495.9 1349.9 496.2 1347.9 496.5 1345.9C496.9 1343.9 497.2 1341.9 497.5 1339.9C497.8 1337.9 498.1 1335.9 498.4 1333.9C498.7 1331.9 499 1329.8 499.4 1327.8C499.7 1325.8 500 1323.8 500.3 1321.8C500.7 1319.8 501 1317.7 501.4 1315.7C501.7 1313.7 502.1 1311.7 502.4 1309.7C502.8 1307.7 503.2 1305.7 503.6 1303.7C504 1301.7 504.3 1299.7 504.8 1297.7C505.2 1295.7 505.6 1293.7 506 1291.7C506.5 1289.7 506.9 1287.8 507.4 1285.8C507.8 1283.8 508.3 1281.9 508.8 1279.9C509.3 1278 509.8 1276 510.4 1274.1C510.9 1272.2 511.4 1270.3 512 1268.3C512.6 1266.4 513.2 1264.5 513.8 1262.6C514.4 1260.8 515 1258.9 515.7 1257C516.3 1255.1 517 1253.3 517.7 1251.5C518.4 1249.6 519.1 1247.8 519.9 1246C520.6 1244.2 521.4 1242.4 522.2 1240.6C523 1238.8 523.8 1237.1 524.7 1235.3C525.6 1233.6 526.4 1231.9 527.4 1230.2C528.3 1228.5 529.2 1226.8 530.2 1225.1C531.2 1223.4 532.2 1221.8 533.2 1220.2C534.3 1218.5 535.3 1216.9 536.4 1215.4C537.5 1213.8 538.7 1212.2 539.9 1210.7C541 1209.1 542.2 1207.6 543.5 1206.1C544.7 1204.6 546 1203.2 547.3 1201.7C548.6 1200.3 550 1198.9 551.4 1197.5C552.7 1196.1 554.1 1194.7 555.6 1193.4C557 1192 558.5 1190.7 560 1189.4C561.5 1188.1 563 1186.9 564.5 1185.7C566.1 1184.4 567.7 1183.2 569.3 1182.1C570.9 1180.9 572.5 1179.7 574.1 1178.6C575.8 1177.5 577.4 1176.4 579.1 1175.4C580.8 1174.3 582.5 1173.3 584.3 1172.3C586 1171.3 587.7 1170.4 589.5 1169.5C591.3 1168.5 593.1 1167.7 594.9 1166.8C596.7 1165.9 598.5 1165.1 600.3 1164.3C602.2 1163.6 604 1162.8 605.9 1162.1C607.8 1161.4 609.6 1160.7 611.5 1160C613.4 1159.4 615.3 1158.8 617.2 1158.2C619.2 1157.7 621.1 1157.1 623 1156.6C625 1156.1 626.9 1155.7 628.9 1155.3C630.8 1154.8 632.8 1154.5 634.7 1154.1C636.7 1153.8 638.7 1153.5 640.6 1153.2C642.6 1152.9 644.6 1152.6 646.6 1152.4C648.6 1152.1 650.6 1151.9 652.5 1151.7C654.5 1151.5 656.5 1151.3 658.5 1151.1C660.5 1150.9 662.5 1150.7 664.5 1150.6C666.5 1150.4 668.5 1150.2 670.5 1150C672.4 1149.8 674.4 1149.6 676.4 1149.4C678.4 1149.2 680.4 1149 682.3 1148.7C684.3 1148.5 686.3 1148.2 688.2 1147.9C690.2 1147.7 692.2 1147.4 694.1 1147.1C696.1 1146.8 698 1146.5 700 1146.2C702 1145.9 703.9 1145.6 705.9 1145.3C707.8 1144.9 709.8 1144.6 711.7 1144.3C713.7 1144 715.6 1143.6 717.6 1143.3C719.5 1143 721.5 1142.6 723.5 1142.3C725.4 1141.9 728.4 1141.5 729.3 1141.3Z" fill="#cdcdcd" stroke="#000" stroke-opacity="0.85" stroke-width="0.9" stroke-linejoin="round"/>
<path d="M446 1403.8C446 1403 446.1 1400.5 446.2 1398.9C446.2 1397.2 446.3 1395.6 446.4 1393.9C446.4 1392.2 446.5 1390.6 446.6 1388.9C446.6 1387.3 446.7 1385.6 446.8 1383.9C446.9 1382.3 446.9 1380.6 447 1379C447.1 1377.3 447.2 1375.6 447.3 1374C447.3 1372.3 447.4 1370.6 447.5 1369C447.6 1367.3 447.7 1365.7 447.7 1364C447.8 1362.3 447.9 1360.7 448 1359C448.1 1357.3 448.2 1355.7 448.3 1354C448.4 1352.3 448.5 1350.7 448.6 1349C448.7 1347.3 448.7 1345.7 448.8 1344C448.9 1342.3 449 1340.7 449.1 1339C449.2 1337.3 449.3 1335.7 449.4 1334C449.6 1332.3 449.7 1330.7 449.8 1329C449.9 1327.3 450 1325.7 450.1 1324C450.2 1322.3 450.3 1320.7 450.4 1319C450.5 1317.3 450.6 1315.7 450.7 1314C450.9 1312.3 451 1310.7 451.1 1309C451.2 1307.3 451.3 1305.6 451.4 1304C451.6 1302.3 451.7 1300.6 451.8 1299C451.9 1297.3 452 1295.6 452.2 1294C452.3 1292.3 452.4 1290.6 452.5 1289C452.7 1287.3 452.8 1285.6 452.9 1284C453.1 1282.3 453.2 1280.6 453.3 1279C453.4 1277.3 453.6 1275.6 453.7 1274C453.8 1272.3 454 1270.6 454.1 1269C454.2 1267.3 454.4 1265.6 454.5 1264C454.7 1262.3 454.8 1260.6 454.9 1259C455.1 1257.3 455.2 1255.6 455.4 1254C455.5 1252.3 455.6 1250.6 455.8 1249C455.9 1247.3 456.1 1245.7 456.2 1244C456.4 1242.3 456.5 1240.7 456.7 1239C456.8 1237.3 457 1235.7 457.1 1234C457.2 1232.4 457.4 1230.7 457.5 1229C457.7 1227.4 457.9 1225.7 458 1224.1C458.2 1222.4 458.3 1220.7 458.5 1219.1C458.6 1217.4 458.8 1215.8 458.9 1214.1C459.1 1212.5 459.2 1210.8 459.4 1209.2C459.6 1207.5 459.7 1205.8 459.9 1204.2C460 1202.5 460.2 1200.9 460.4 1199.2C460.5 1197.6 460.7 1195.9 460.8 1194.3C461 1192.6 461.2 1191 461.3 1189.3C461.5 1187.7 461.7 1186 461.9 1184.4C462 1182.7 462.2 1181.1 462.4 1179.5C462.5 1177.8 462.7 1176.2 462.9 1174.5C463.1 1172.9 463.3 1171.3 463.5 1169.6C463.6 1168 463.8 1166.4 464 1164.8C464.2 1163.1 464.4 1161.5 464.6 1159.9C464.8 1158.3 465 1156.6 465.2 1155C465.4 1153.4 465.6 1151.8 465.8 1150.2C466 1148.6 466.3 1147 466.5 1145.3C466.7 1143.7 466.9 1142.1 467.2 1140.5C467.4 1138.9 467.6 1137.4 467.9 1135.8C468.1 1134.2 468.3 1132.6 468.6 1131C468.8 1129.4 469.1 1127.8 469.4 1126.3C469.6 1124.7 469.9 1123.1 470.1 1121.6C470.4 1120 470.7 1118.4 471 1116.9C471.3 1115.3 471.5 1113.8 471.8 1112.2C472.1 1110.7 472.4 1109.1 472.7 1107.6C473 1106 473.3 1104.5 473.7 1103C474 1101.5 474.3 1099.9 474.6 1098.4C475 1096.9 475.3 1095.4 475.6 1093.8C475.9 1092.3 476.3 1090.8 476.6 1089.3C477 1087.8 477.3 1086.2 477.6 1084.7C478 1083.2 478.3 1081.7 478.7 1080.2C479 1078.6 479.3 1077.1 479.7 1075.6C480 1074 480.3 1072.5 480.7 1071C481 1069.4 481.3 1067.9 481.7 1066.3C482 1064.8 482.3 1063.2 482.7 1061.7C483 1060.1 483.3 1058.6 483.6 1057C483.9 1055.4 484.2 1053.8 484.6 1052.2C484.9 1050.6 485.3 1048.9 485.7 1047.2C486.1 1045.6 486.5 1043.9 486.9 1042.1C487.3 1040.4 487.8 1038.6 488.4 1036.8C488.9 1034.9 489.5 1033 490.1 1031.1C490.7 1029.2 491.4 1027.2 492.2 1025.2C492.9 1023.3 493.7 1021.3 494.6 1019.4C495.4 1017.5 496.4 1015.7 497.4 1014.1C498.3 1012.5 499.4 1011 500.4 1009.9C501.4 1008.8 502.5 1008 503.5 1007.7C504.6 1007.3 505.7 1007.3 506.7 1007.6C507.8 1007.9 508.8 1008.5 509.8 1009.4C510.9 1010.2 511.9 1011.3 512.8 1012.6C513.8 1013.8 514.7 1015.3 515.6 1016.8C516.4 1018.3 517.3 1019.9 518 1021.6C518.8 1023.2 519.4 1025 520.1 1026.7C520.7 1028.4 521.3 1030.1 521.8 1031.9C522.3 1033.6 522.7 1035.4 523.1 1037.1C523.5 1038.9 523.9 1040.6 524.2 1042.4C524.6 1044.2 524.9 1045.9 525.1 1047.6C525.4 1049.4 525.6 1051.1 525.8 1052.8C526 1054.5 526.2 1056.3 526.3 1058C526.5 1059.7 526.6 1061.3 526.7 1063C526.8 1064.7 526.9 1066.4 527 1068C527 1069.7 527.1 1071.4 527.1 1073C527.1 1074.7 527.1 1076.3 527.1 1078C527.1 1079.6 527 1081.3 527 1082.9C526.9 1084.5 526.9 1086.2 526.8 1087.8C526.7 1089.4 526.6 1091.1 526.5 1092.7C526.4 1094.3 526.3 1096 526.2 1097.6C526.1 1099.2 525.9 1100.9 525.8 1102.5C525.7 1104.1 525.5 1105.7 525.4 1107.4C525.2 1109 525.1 1110.7 524.9 1112.3C524.8 1113.9 524.6 1115.6 524.5 1117.2C524.3 1118.9 524.1 1120.5 523.9 1122.1C523.8 1123.8 523.6 1125.4 523.4 1127.1C523.2 1128.7 523 1130.4 522.8 1132C522.6 1133.7 522.4 1135.3 522.2 1137C522 1138.6 521.8 1140.3 521.6 1141.9C521.3 1143.6 521.1 1145.2 520.9 1146.9C520.7 1148.5 520.4 1150.2 520.2 1151.8C520 1153.5 519.7 1155.1 519.5 1156.8C519.3 1158.4 519 1160.1 518.8 1161.7C518.5 1163.4 518.3 1165 518 1166.7C517.8 1168.3 517.5 1170 517.2 1171.7C517 1173.3 516.7 1175 516.5 1176.6C516.2 1178.3 515.9 1179.9 515.7 1181.6C515.4 1183.2 515.1 1184.9 514.8 1186.5C514.6 1188.2 514.3 1189.8 514 1191.5C513.7 1193.1 513.5 1194.8 513.2 1196.4C512.9 1198.1 512.6 1199.7 512.3 1201.4C512.1 1203 511.8 1204.7 511.5 1206.3C511.2 1208 510.9 1209.6 510.6 1211.3C510.3 1212.9 510 1214.6 509.8 1216.2C509.5 1217.8 509.2 1219.5 508.9 1221.1C508.6 1222.8 508.3 1224.4 508 1226C507.7 1227.7 507.4 1229.3 507.1 1231C506.8 1232.6 506.5 1234.2 506.2 1235.9C505.9 1237.5 505.7 1239.2 505.4 1240.8C505.1 1242.4 504.8 1244.1 504.5 1245.7C504.2 1247.3 503.9 1249 503.6 1250.6C503.3 1252.2 503 1253.9 502.7 1255.5C502.4 1257.2 502.1 1258.8 501.9 1260.4C501.6 1262.1 501.3 1263.7 501 1265.3C500.7 1267 500.4 1268.6 500.1 1270.2C499.8 1271.9 499.5 1273.5 499.3 1275.1C499 1276.8 498.7 1278.4 498.4 1280C498.1 1281.7 497.9 1283.3 497.6 1284.9C497.3 1286.6 497 1288.2 496.7 1289.8C496.5 1291.5 496.2 1293.1 495.9 1294.8C495.7 1296.4 495.4 1298 495.1 1299.7C494.9 1301.3 494.6 1302.9 494.3 1304.6C494.1 1306.2 493.8 1307.8 493.5 1309.5C493.3 1311.1 493 1312.8 492.8 1314.4C492.5 1316 492.3 1317.7 492 1319.3C491.8 1321 491.5 1322.6 491.3 1324.2C491.1 1325.9 490.8 1327.5 490.6 1329.2C490.3 1330.8 490.1 1332.5 489.9 1334.1C489.7 1335.8 489.4 1337.4 489.2 1339C489 1340.7 488.8 1342.3 488.6 1344C488.3 1345.6 488.1 1347.3 487.9 1348.9C487.7 1350.6 487.5 1352.2 487.3 1353.9C487.1 1355.5 486.9 1357.2 486.7 1358.8C486.5 1360.5 486.4 1362.2 486.2 1363.8C486 1365.5 485.8 1367.1 485.7 1368.8C485.5 1370.4 485.3 1372.1 485.1 1373.8C485 1375.4 484.8 1377.1 484.7 1378.8C484.5 1380.4 484.4 1382.1 484.2 1383.8C484.1 1385.4 483.9 1387.1 483.8 1388.8C483.7 1390.4 483.6 1392.1 483.4 1393.8C483.3 1395.5 483.2 1397.1 483.1 1398.8C483 1400.5 482.8 1403 482.8 1403.8Z" fill="#999999" stroke="#000" stroke-opacity="0.85" stroke-width="0.9" stroke-linejoin="round"/>
<path d="M457.3 1403.8C457.3 1403 457.3 1400.5 457.2 1398.8C457.2 1397.1 457.2 1395.4 457.2 1393.8C457.2 1392.1 457.1 1390.4 457.1 1388.7C457.1 1387.1 457.1 1385.4 457.1 1383.7C457.1 1382 457.1 1380.4 457.1 1378.7C457.1 1377 457 1375.4 457 1373.7C457 1372.1 457 1370.4 457 1368.7C457 1367.1 457 1365.4 457 1363.7C457 1362.1 457 1360.4 457.1 1358.8C457.1 1357.1 457.1 1355.4 457.1 1353.8C457.1 1352.1 457.1 1350.4 457.1 1348.8C457.1 1347.1 457.2 1345.5 457.2 1343.8C457.2 1342.1 457.2 1340.5 457.3 1338.8C457.3 1337.2 457.3 1335.5 457.3 1333.8C457.4 1332.2 457.4 1330.5 457.4 1328.8C457.5 1327.2 457.5 1325.5 457.6 1323.8C457.6 1322.2 457.6 1320.5 457.7 1318.8C457.7 1317.1 457.8 1315.5 457.8 1313.8C457.9 1312.1 458 1310.4 458 1308.8C458.1 1307.1 458.1 1305.4 458.2 1303.7C458.3 1302.1 458.3 1300.4 458.4 1298.7C458.5 1297 458.5 1295.3 458.6 1293.7C458.7 1292 458.8 1290.3 458.9 1288.6C458.9 1286.9 459 1285.3 459.1 1283.6C459.2 1281.9 459.3 1280.2 459.4 1278.5C459.5 1276.9 459.5 1275.2 459.6 1273.5C459.7 1271.8 459.8 1270.2 459.9 1268.5C460 1266.8 460.1 1265.1 460.2 1263.5C460.3 1261.8 460.5 1260.1 460.6 1258.5C460.7 1256.8 460.8 1255.1 460.9 1253.5C461 1251.8 461.1 1250.1 461.2 1248.5C461.4 1246.8 461.5 1245.2 461.6 1243.5C461.7 1241.9 461.8 1240.2 462 1238.6C462.1 1237 462.2 1235.3 462.3 1233.7C462.5 1232 462.6 1230.4 462.7 1228.8C462.9 1227.1 463 1225.5 463.1 1223.9C463.3 1222.3 463.4 1220.6 463.6 1219C463.7 1217.4 463.8 1215.7 464 1214.1C464.1 1212.5 464.2 1210.8 464.4 1209.2C464.5 1207.5 464.7 1205.9 464.8 1204.2C464.9 1202.6 465.1 1200.9 465.2 1199.2C465.4 1197.6 465.5 1195.9 465.6 1194.2C465.8 1192.5 465.9 1190.8 466.1 1189.1C466.2 1187.4 466.3 1185.6 466.5 1183.9C466.6 1182.2 466.7 1180.4 466.9 1178.7C467 1176.9 467.2 1175.1 467.3 1173.4C467.4 1171.6 467.6 1169.9 467.7 1168.1C467.9 1166.4 468.1 1164.7 468.2 1162.9C468.4 1161.2 468.6 1159.5 468.7 1157.8C468.9 1156.1 469.1 1154.5 469.3 1152.8C469.5 1151.2 469.7 1149.5 469.9 1148C470.1 1146.4 470.4 1144.8 470.6 1143.3C470.8 1141.7 471.1 1140.3 471.4 1138.8C471.6 1137.3 471.9 1135.9 472.2 1134.5C472.5 1133.1 472.8 1131.7 473.1 1130.3C473.4 1128.9 473.7 1127.6 474.1 1126.2C474.4 1124.8 474.7 1123.5 475.1 1122.1C475.4 1120.7 475.8 1119.3 476.1 1117.9C476.5 1116.5 476.8 1115.1 477.2 1113.7C477.5 1112.2 477.9 1110.8 478.2 1109.2C478.6 1107.7 478.9 1106.2 479.3 1104.6C479.7 1103 480 1101.4 480.4 1099.7C480.7 1098 481.1 1096.3 481.5 1094.6C481.9 1092.8 482.3 1091.1 482.7 1089.3C483.2 1087.4 483.6 1085.6 484.1 1083.8C484.6 1081.9 485.2 1080 485.7 1078.1C486.3 1076.3 486.9 1074.3 487.6 1072.5C488.2 1070.8 488.9 1069 489.6 1067.6C490.3 1066.1 491 1064.8 491.7 1063.9C492.5 1063.1 493.2 1062.5 493.9 1062.4C494.7 1062.3 495.4 1062.8 496.1 1063.5C496.8 1064.2 497.6 1065.5 498.2 1066.8C498.9 1068.2 499.5 1069.9 500.1 1071.7C500.7 1073.5 501.3 1075.5 501.7 1077.5C502.2 1079.4 502.6 1081.5 503 1083.4C503.3 1085.4 503.6 1087.3 503.8 1089.2C504.1 1091.1 504.2 1092.9 504.3 1094.7C504.5 1096.5 504.5 1098.3 504.6 1100.1C504.6 1101.8 504.6 1103.6 504.7 1105.3C504.7 1107 504.6 1108.7 504.6 1110.4C504.6 1112.1 504.6 1113.8 504.6 1115.5C504.5 1117.2 504.5 1118.8 504.5 1120.5C504.4 1122.2 504.4 1123.8 504.3 1125.5C504.3 1127.2 504.2 1128.8 504.1 1130.5C504.1 1132.1 504 1133.7 503.9 1135.4C503.8 1137 503.8 1138.7 503.7 1140.3C503.6 1142 503.5 1143.6 503.4 1145.2C503.3 1146.9 503.2 1148.5 503.1 1150.2C503 1151.8 502.9 1153.5 502.8 1155.1C502.7 1156.8 502.6 1158.4 502.5 1160.1C502.4 1161.7 502.3 1163.4 502.2 1165C502.1 1166.7 501.9 1168.3 501.8 1170C501.7 1171.6 501.6 1173.3 501.4 1175C501.3 1176.6 501.2 1178.3 501 1179.9C500.9 1181.6 500.8 1183.3 500.6 1184.9C500.5 1186.6 500.4 1188.2 500.2 1189.9C500.1 1191.6 499.9 1193.2 499.8 1194.9C499.6 1196.6 499.5 1198.2 499.3 1199.9C499.2 1201.6 499 1203.2 498.9 1204.9C498.7 1206.5 498.6 1208.2 498.4 1209.9C498.2 1211.5 498.1 1213.2 497.9 1214.9C497.7 1216.5 497.6 1218.2 497.4 1219.9C497.2 1221.5 497.1 1223.2 496.9 1224.9C496.7 1226.5 496.6 1228.2 496.4 1229.8C496.2 1231.5 496 1233.2 495.9 1234.8C495.7 1236.5 495.5 1238.1 495.3 1239.8C495.2 1241.5 495 1243.1 494.8 1244.8C494.6 1246.4 494.4 1248.1 494.3 1249.7C494.1 1251.4 493.9 1253 493.7 1254.7C493.5 1256.3 493.3 1258 493.1 1259.6C493 1261.3 492.8 1262.9 492.6 1264.6C492.4 1266.2 492.2 1267.9 492 1269.5C491.8 1271.2 491.7 1272.8 491.5 1274.5C491.3 1276.1 491.1 1277.8 490.9 1279.4C490.7 1281.1 490.5 1282.7 490.4 1284.4C490.2 1286 490 1287.7 489.8 1289.3C489.6 1291 489.4 1292.6 489.3 1294.3C489.1 1295.9 488.9 1297.6 488.7 1299.2C488.5 1300.9 488.3 1302.5 488.2 1304.2C488 1305.8 487.8 1307.4 487.6 1309.1C487.4 1310.7 487.3 1312.4 487.1 1314C486.9 1315.7 486.7 1317.3 486.6 1319C486.4 1320.6 486.2 1322.3 486.1 1323.9C485.9 1325.6 485.7 1327.2 485.6 1328.9C485.4 1330.5 485.2 1332.2 485.1 1333.8C484.9 1335.5 484.7 1337.2 484.6 1338.8C484.4 1340.5 484.3 1342.1 484.1 1343.8C484 1345.4 483.8 1347.1 483.7 1348.7C483.5 1350.4 483.4 1352.1 483.2 1353.7C483.1 1355.4 483 1357 482.8 1358.7C482.7 1360.4 482.5 1362 482.4 1363.7C482.3 1365.3 482.2 1367 482 1368.7C481.9 1370.3 481.8 1372 481.7 1373.7C481.5 1375.3 481.4 1377 481.3 1378.7C481.2 1380.3 481.1 1382 481 1383.7C480.9 1385.4 480.8 1387 480.7 1388.7C480.6 1390.4 480.5 1392.1 480.4 1393.8C480.3 1395.4 480.2 1397.1 480.2 1398.8C480.1 1400.5 480 1403 479.9 1403.8Z" fill="#666666" stroke="#000" stroke-opacity="0.85" stroke-width="0.9" stroke-linejoin="round"/>
<path d="M472 1399.9C471.7 1399.1 470.7 1396.9 470.1 1395.4C469.4 1393.9 468.9 1392.4 468.4 1390.9C467.9 1389.3 467.4 1387.8 466.9 1386.2C466.5 1384.7 466.1 1383.1 465.8 1381.5C465.4 1379.9 465.1 1378.4 464.8 1376.8C464.5 1375.2 464.2 1373.5 464 1371.9C463.8 1370.3 463.6 1368.7 463.4 1367C463.2 1365.4 463.1 1363.8 463 1362.1C462.8 1360.5 462.8 1358.8 462.7 1357.1C462.6 1355.5 462.5 1353.8 462.5 1352.2C462.5 1350.5 462.4 1348.8 462.4 1347.1C462.4 1345.5 462.4 1343.8 462.5 1342.1C462.5 1340.4 462.5 1338.7 462.5 1337C462.6 1335.4 462.6 1333.7 462.7 1332C462.7 1330.3 462.8 1328.6 462.8 1326.9C462.9 1325.3 462.9 1323.6 463 1321.9C463 1320.2 463.1 1318.5 463.1 1316.9C463.2 1315.2 463.2 1313.5 463.3 1311.9C463.3 1310.2 463.4 1308.5 463.4 1306.9C463.5 1305.2 463.5 1303.5 463.6 1301.9C463.6 1300.2 463.7 1298.5 463.7 1296.9C463.8 1295.2 463.8 1293.6 463.9 1291.9C463.9 1290.3 463.9 1288.6 464 1287C464 1285.3 464.1 1283.7 464.1 1282C464.2 1280.3 464.2 1278.7 464.3 1277C464.3 1275.4 464.4 1273.7 464.5 1272.1C464.5 1270.4 464.6 1268.8 464.6 1267.1C464.7 1265.5 464.8 1263.8 464.8 1262.2C464.9 1260.5 465 1258.9 465 1257.2C465.1 1255.6 465.2 1253.9 465.3 1252.2C465.4 1250.6 465.4 1248.9 465.5 1247.3C465.6 1245.6 465.7 1243.9 465.8 1242.3C465.9 1240.6 466 1239 466.1 1237.3C466.2 1235.6 466.3 1234 466.4 1232.3C466.5 1230.6 466.7 1229 466.8 1227.3C466.9 1225.6 467 1223.9 467.2 1222.3C467.3 1220.6 467.4 1218.9 467.5 1217.3C467.7 1215.6 467.8 1213.9 467.9 1212.3C468.1 1210.6 468.2 1208.9 468.4 1207.3C468.5 1205.6 468.6 1203.9 468.8 1202.3C468.9 1200.6 469.1 1198.9 469.2 1197.3C469.4 1195.6 469.5 1194 469.7 1192.3C469.8 1190.6 470 1189 470.1 1187.3C470.3 1185.7 470.4 1184 470.6 1182.4C470.7 1180.7 470.9 1179.1 471.1 1177.4C471.2 1175.8 471.4 1174.1 471.5 1172.5C471.7 1170.9 471.8 1169.2 472 1167.6C472.2 1166 472.3 1164.3 472.5 1162.7C472.6 1161.1 472.8 1159.4 473 1157.8C473.1 1156.2 473.3 1154.5 473.4 1152.9C473.6 1151.3 473.8 1149.6 473.9 1147.9C474.1 1146.3 474.3 1144.6 474.5 1142.9C474.6 1141.2 474.8 1139.5 475 1137.8C475.2 1136 475.4 1134.3 475.5 1132.5C475.7 1130.8 475.9 1128.9 476.1 1127.1C476.3 1125.4 476.5 1123.3 476.8 1121.9C477 1120.6 477.3 1119.2 477.6 1119C477.9 1118.7 478.2 1119.5 478.6 1120.4C479 1121.2 479.4 1123.2 479.8 1124.2C480.3 1125.2 480.7 1126.2 481.2 1126.4C481.6 1126.5 482 1126.3 482.5 1125.2C482.9 1124 483.3 1121.8 483.7 1119.4C484.1 1117.1 484.4 1113.3 485 1111.1C485.5 1108.9 486.1 1106.9 486.7 1106.1C487.4 1105.3 488.3 1105.7 489 1106.4C489.7 1107.1 490.5 1108.7 491.2 1110.1C491.8 1111.6 492.3 1113.6 492.6 1115.2C493 1116.7 493.1 1118.4 493.1 1119.5C493.2 1120.6 493.1 1121.1 493.1 1121.6C493.2 1122.2 493.1 1122.1 493.2 1122.8C493.3 1123.4 493.5 1124.4 493.6 1125.5C493.8 1126.6 493.9 1128 494 1129.5C494.1 1130.9 494.2 1132.6 494.2 1134.2C494.3 1135.9 494.3 1137.7 494.4 1139.5C494.4 1141.3 494.4 1143.1 494.4 1144.9C494.5 1146.7 494.5 1148.5 494.5 1150.2C494.5 1151.9 494.6 1153.6 494.6 1155.3C494.6 1157 494.6 1158.6 494.6 1160.3C494.6 1161.9 494.6 1163.6 494.6 1165.2C494.6 1166.9 494.6 1168.5 494.6 1170.1C494.6 1171.8 494.6 1173.4 494.6 1175.1C494.5 1176.7 494.5 1178.4 494.4 1180C494.4 1181.7 494.4 1183.3 494.3 1185C494.2 1186.6 494.2 1188.3 494.1 1189.9C494 1191.6 494 1193.2 493.9 1194.9C493.8 1196.5 493.7 1198.2 493.6 1199.9C493.6 1201.5 493.5 1203.2 493.4 1204.8C493.3 1206.5 493.2 1208.2 493.1 1209.8C493 1211.5 492.9 1213.1 492.7 1214.8C492.6 1216.5 492.5 1218.1 492.4 1219.8C492.3 1221.4 492.2 1223.1 492 1224.8C491.9 1226.4 491.8 1228.1 491.7 1229.8C491.5 1231.4 491.4 1233.1 491.3 1234.7C491.1 1236.4 491 1238.1 490.9 1239.7C490.7 1241.4 490.6 1243 490.5 1244.7C490.3 1246.4 490.2 1248 490 1249.7C489.9 1251.3 489.8 1253 489.6 1254.7C489.5 1256.3 489.3 1258 489.2 1259.6C489.1 1261.3 488.9 1263 488.8 1264.6C488.6 1266.3 488.5 1267.9 488.3 1269.6C488.2 1271.2 488.1 1272.9 487.9 1274.6C487.8 1276.2 487.6 1277.9 487.5 1279.5C487.3 1281.2 487.2 1282.8 487 1284.5C486.9 1286.1 486.7 1287.8 486.6 1289.5C486.4 1291.1 486.2 1292.8 486.1 1294.4C485.9 1296.1 485.8 1297.7 485.6 1299.4C485.5 1301 485.3 1302.7 485.2 1304.3C485 1306 484.8 1307.7 484.7 1309.3C484.5 1311 484.4 1312.6 484.2 1314.3C484 1315.9 483.9 1317.6 483.7 1319.2C483.6 1320.9 483.4 1322.5 483.2 1324.2C483.1 1325.8 482.9 1327.5 482.7 1329.1C482.6 1330.8 482.4 1332.5 482.2 1334.1C482.1 1335.8 481.9 1337.4 481.7 1339.1C481.6 1340.7 481.4 1342.4 481.2 1344C481.1 1345.7 480.9 1347.3 480.7 1349C480.6 1350.6 480.4 1352.3 480.2 1353.9C480 1355.6 479.9 1357.3 479.7 1358.9C479.5 1360.6 479.3 1362.2 479.2 1363.9C479 1365.5 478.8 1367.2 478.6 1368.8C478.5 1370.5 478.3 1372.1 478.1 1373.8C477.9 1375.5 477.8 1377.1 477.6 1378.8C477.4 1380.4 477.2 1382.1 477.1 1383.7C476.9 1385.4 476.7 1387 476.5 1388.7C476.3 1390.4 476.1 1392.8 476 1393.7Z" fill="#333333" stroke="#000" stroke-opacity="0.85" stroke-width="0.9" stroke-linejoin="round"/>
<path d="M473.5 1349.5C473.3 1348.8 472.6 1346.4 472.2 1344.8C471.7 1343.2 471.4 1341.6 471 1340C470.7 1338.4 470.4 1336.8 470.1 1335.2C469.8 1333.6 469.5 1332 469.3 1330.4C469.1 1328.8 468.9 1327.2 468.7 1325.5C468.5 1323.9 468.3 1322.3 468.2 1320.6C468.1 1319 468 1317.4 467.9 1315.7C467.8 1314.1 467.7 1312.4 467.6 1310.8C467.6 1309.1 467.6 1307.5 467.5 1305.8C467.5 1304.2 467.5 1302.5 467.5 1300.8C467.5 1299.2 467.6 1297.5 467.6 1295.8C467.7 1294.2 467.7 1292.5 467.8 1290.8C467.8 1289.2 467.9 1287.5 468 1285.8C468.1 1284.2 468.2 1282.5 468.3 1280.8C468.4 1279.1 468.5 1277.4 468.6 1275.8C468.7 1274.1 468.8 1272.4 468.9 1270.7C469 1269.1 469.1 1267.4 469.3 1265.7C469.4 1264 469.5 1262.4 469.6 1260.7C469.7 1259 469.8 1257.3 470 1255.6C470.1 1254 470.2 1252.3 470.3 1250.6C470.4 1249 470.5 1247.3 470.6 1245.6C470.7 1243.9 470.7 1242.3 470.8 1240.6C470.9 1238.9 471 1237.3 471.1 1235.6C471.2 1234 471.3 1232.3 471.4 1230.6C471.5 1229 471.5 1227.3 471.6 1225.7C471.7 1224 471.9 1222.4 472 1220.7C472.1 1219.1 472.2 1217.4 472.3 1215.8C472.5 1214.1 472.6 1212.5 472.8 1210.9C472.9 1209.2 473.1 1207.6 473.3 1205.9C473.5 1204.3 473.7 1202.7 473.9 1201.1C474.1 1199.4 474.3 1197.8 474.6 1196.2C474.8 1194.6 475.1 1193 475.4 1191.3C475.6 1189.7 475.9 1188.1 476.2 1186.4C476.5 1184.8 476.8 1183.2 477 1181.5C477.3 1179.8 477.6 1178.2 477.9 1176.5C478.2 1174.8 478.4 1173.1 478.8 1171.3C479.1 1169.4 479.5 1167.5 480 1165.5C480.6 1163.5 481.3 1161 482.1 1159.2C482.8 1157.4 483.6 1155.4 484.4 1154.5C485.1 1153.6 485.8 1153.4 486.3 1153.8C486.9 1154.2 487.4 1155.4 487.8 1156.8C488.2 1158.1 488.5 1160.1 488.7 1161.9C488.9 1163.7 488.9 1165.7 489 1167.6C489 1169.6 489 1171.6 489 1173.5C489 1175.5 489 1177.4 489 1179.2C489 1181 489.1 1182.8 489.2 1184.5C489.2 1186.2 489.3 1187.8 489.4 1189.5C489.4 1191.1 489.5 1192.7 489.6 1194.3C489.6 1195.9 489.7 1197.5 489.7 1199.1C489.7 1200.7 489.7 1202.3 489.7 1204C489.7 1205.6 489.7 1207.2 489.6 1208.8C489.5 1210.5 489.5 1212.1 489.4 1213.7C489.3 1215.4 489.2 1217 489.1 1218.7C489 1220.3 488.8 1222 488.7 1223.7C488.6 1225.3 488.4 1227 488.3 1228.7C488.1 1230.3 488 1232 487.8 1233.7C487.6 1235.3 487.5 1237 487.3 1238.7C487.1 1240.3 487 1242 486.8 1243.7C486.6 1245.3 486.4 1247 486.3 1248.6C486.1 1250.3 485.9 1252 485.7 1253.6C485.6 1255.3 485.4 1256.9 485.2 1258.6C485.1 1260.2 484.9 1261.9 484.7 1263.5C484.6 1265.2 484.4 1266.8 484.2 1268.5C484.1 1270.1 483.9 1271.8 483.7 1273.4C483.6 1275.1 483.4 1276.7 483.2 1278.4C483 1280 482.9 1281.7 482.7 1283.3C482.5 1284.9 482.4 1286.6 482.2 1288.2C482 1289.9 481.8 1291.5 481.7 1293.2C481.5 1294.8 481.3 1296.4 481.1 1298.1C481 1299.7 480.8 1301.4 480.6 1303C480.4 1304.7 480.3 1306.3 480.1 1308C479.9 1309.6 479.7 1311.3 479.5 1312.9C479.3 1314.6 479.1 1316.2 479 1317.9C478.8 1319.5 478.6 1321.2 478.4 1322.8C478.2 1324.5 478 1326.1 477.8 1327.8C477.6 1329.4 477.4 1331.1 477.2 1332.8C477 1334.4 476.8 1336.1 476.6 1337.8C476.4 1339.4 476.1 1341.9 476 1342.8Z" fill="#000000" stroke="#000" stroke-opacity="0.85" stroke-width="0.9" stroke-linejoin="round"/>
<path d="M496.3 1403.8C496.4 1403.3 496.6 1401.5 496.7 1400.5C496.8 1399.5 496.9 1398.7 497.1 1397.8C497.2 1396.9 497.3 1396.2 497.5 1395.3C497.7 1394.4 497.9 1393.6 498.2 1392.6C498.5 1391.6 498.8 1390.5 499.2 1389.4C499.6 1388.2 500.1 1386.9 500.5 1385.8C501 1384.7 501.6 1383.5 502.1 1382.6C502.7 1381.7 503.3 1380.9 503.9 1380.5C504.5 1380.1 505.2 1380 505.8 1380.2C506.3 1380.5 506.8 1381.3 507.2 1382.2C507.6 1383 507.9 1384.3 508.2 1385.4C508.4 1386.5 508.6 1387.8 508.7 1388.9C508.8 1390.1 508.8 1391.1 508.8 1392.2C508.8 1393.2 508.8 1394.1 508.9 1395.1C508.9 1396 508.9 1396.9 508.9 1397.8C508.9 1398.8 508.9 1399.7 508.9 1400.7C508.9 1401.7 509 1403.3 509 1403.8" fill="none" stroke="#000" stroke-opacity="0.85" stroke-width="0.9" stroke-linejoin="round"/>
<path d="M446.1 829.3C446.1 830 446.1 831.9 446.1 833.2C446 834.5 446 835.9 446 837.2C446 838.5 446 839.9 446 841.2C446 842.6 446 843.9 446.1 845.3C446.1 846.6 446.1 848 446.1 849.4C446.1 850.7 446.2 852.1 446.2 853.5C446.2 854.9 446.2 856.2 446.3 857.6C446.3 859 446.4 860.3 446.4 861.7C446.5 863 446.5 864.4 446.6 865.7C446.6 867.1 446.7 868.4 446.7 869.8C446.8 871.1 446.9 872.4 446.9 873.7C447 875 447.1 876.3 447.2 877.6C447.3 878.9 447.4 880.2 447.5 881.4C447.6 882.7 447.7 884 447.8 885.2C447.9 886.5 448.1 887.8 448.2 889.1C448.4 890.4 448.6 891.7 448.8 893C449 894.4 449.2 895.8 449.5 897.2C449.8 898.6 450.1 900.1 450.5 901.6C450.8 903.1 451.2 904.7 451.7 906.2C452.1 907.6 452.7 909.2 453.3 910.5C453.9 911.9 454.5 913.3 455.3 914.2C456 915.2 456.8 916 457.6 916.2C458.3 916.5 459.2 916.3 460 915.7C460.8 915.2 461.6 914.1 462.3 913C463 911.9 463.7 910.5 464.3 909.1C464.9 907.7 465.3 906.2 465.8 904.8C466.3 903.3 466.6 901.8 467 900.4C467.4 898.9 467.7 897.5 468 896.1C468.3 894.7 468.6 893.3 468.9 892C469.2 890.6 469.4 889.3 469.7 888C470 886.7 470.2 885.4 470.4 884.2C470.7 882.9 470.9 881.6 471.2 880.4C471.4 879.1 471.6 877.9 471.8 876.6C472.1 875.3 472.3 874.1 472.5 872.8C472.8 871.5 473 870.2 473.2 868.9C473.5 867.6 473.7 866.3 473.9 864.9C474.2 863.6 474.4 862.3 474.7 861C474.9 859.6 475.2 858.3 475.4 856.9C475.7 855.6 475.9 854.3 476.2 852.9C476.5 851.6 476.7 850.2 477 848.9C477.3 847.6 477.5 846.2 477.8 844.9C478.1 843.6 478.4 842.2 478.7 840.9C479 839.6 479.3 838.3 479.6 837C479.9 835.7 480.2 834.4 480.5 833.1C480.8 831.8 481.3 830 481.4 829.3Z" fill="#999999" stroke="#000" stroke-opacity="0.85" stroke-width="0.9" stroke-linejoin="round"/>
<path d="M457.7 829.3C457.7 829.9 457.7 831.5 457.7 832.5C457.7 833.6 457.7 834.5 457.7 835.5C457.8 836.5 457.8 837.4 457.8 838.3C457.9 839.3 457.9 840.2 458 841.1C458.1 842 458.1 842.9 458.2 843.9C458.3 844.8 458.4 845.7 458.4 846.7C458.5 847.7 458.6 848.7 458.7 849.8C458.8 850.8 458.9 851.9 459 853C459.2 854.2 459.3 855.3 459.5 856.5C459.7 857.6 459.9 858.7 460.2 859.8C460.5 860.8 460.8 861.9 461.3 862.7C461.7 863.5 462.2 864.3 462.8 864.7C463.4 865.1 464.1 865.3 464.7 865.2C465.4 865.1 466.1 864.7 466.8 864.2C467.4 863.6 468 862.7 468.6 861.8C469.2 860.9 469.8 859.8 470.3 858.7C470.9 857.6 471.3 856.4 471.8 855.3C472.2 854.2 472.6 853.1 472.9 852.1C473.2 851.1 473.4 850.2 473.7 849.3C473.9 848.4 474.1 847.5 474.3 846.6C474.5 845.8 474.7 844.9 474.9 844C475.1 843 475.3 842.1 475.5 841.1C475.7 840.2 475.9 839.2 476.1 838.2C476.2 837.2 476.4 836.2 476.6 835.2C476.7 834.2 476.9 833.2 477.1 832.3C477.2 831.3 477.4 829.8 477.5 829.3Z" fill="#666666" stroke="#000" stroke-opacity="0.85" stroke-width="0.9" stroke-linejoin="round"/>
<path d="M495 829.3C494.7 830.1 494 832.5 493.6 834.1C493.1 835.7 492.7 837.3 492.3 838.9C491.9 840.6 491.5 842.2 491.2 843.8C490.8 845.5 490.4 847.1 490.1 848.7C489.8 850.4 489.5 852 489.2 853.7C488.8 855.3 488.6 857 488.3 858.7C488 860.3 487.7 862 487.5 863.6C487.2 865.3 486.9 867 486.7 868.6C486.4 870.3 486.2 871.9 486 873.6C485.7 875.3 485.5 876.9 485.3 878.6C485 880.2 484.8 881.9 484.6 883.6C484.3 885.2 484.1 886.9 483.9 888.5C483.6 890.1 483.4 891.8 483.2 893.4C482.9 895.1 482.7 896.7 482.5 898.4C482.2 900 482 901.6 481.7 903.3C481.5 904.9 481.3 906.5 481 908.2C480.8 909.8 480.6 911.5 480.3 913.1C480.1 914.7 479.9 916.4 479.6 918C479.4 919.7 479.2 921.3 478.9 923C478.7 924.6 478.5 926.3 478.2 927.9C478 929.6 477.8 931.2 477.6 932.9C477.3 934.6 477.1 936.2 476.9 937.9C476.6 939.6 476.4 941.3 476.2 942.9C476 944.6 475.7 946.3 475.5 948C475.3 949.7 475.1 951.4 474.9 953.1C474.6 954.8 474.4 956.5 474.2 958.1C474 959.8 473.8 961.5 473.5 963.2C473.3 964.9 473.1 966.6 472.9 968.2C472.6 969.9 472.4 971.6 472.2 973.2C472 974.9 471.8 976.5 471.5 978.2C471.3 979.8 471.1 981.4 470.9 983.1C470.6 984.7 470.4 986.3 470.2 987.9C469.9 989.5 469.7 991.1 469.5 992.6C469.3 994.2 469 995.8 468.8 997.3C468.6 998.9 468.3 1000.4 468.1 1002C467.9 1003.6 467.6 1005.1 467.4 1006.8C467.2 1008.4 467 1010.1 466.8 1011.8C466.6 1013.6 466.4 1015.3 466.3 1017.2C466.1 1019.1 465.9 1021.1 465.8 1023.1C465.7 1025.1 465.6 1027.4 465.5 1029.5C465.4 1031.6 465.4 1033.8 465.4 1035.7C465.4 1037.6 465.5 1039.6 465.7 1040.9C465.9 1042.3 466.2 1043.5 466.6 1044C466.9 1044.4 467.3 1044.3 467.8 1043.6C468.2 1042.9 468.8 1041.4 469.3 1039.8C469.8 1038.2 470.3 1036 470.8 1033.9C471.3 1031.8 471.7 1029.5 472.2 1027.5C472.6 1025.4 473 1023.4 473.4 1021.5C473.8 1019.7 474.1 1018 474.5 1016.3C474.8 1014.7 475.1 1013.1 475.4 1011.5C475.8 1010 476.1 1008.4 476.4 1006.8C476.7 1005.2 477 1003.6 477.3 1002C477.5 1000.4 477.8 998.8 478.1 997.1C478.4 995.5 478.7 993.9 479 992.2C479.2 990.6 479.5 989 479.8 987.3C480.1 985.7 480.4 984 480.7 982.4C480.9 980.7 481.2 979.1 481.5 977.4C481.8 975.8 482.1 974.1 482.4 972.5C482.7 970.8 483 969.2 483.3 967.5C483.7 965.9 484 964.2 484.3 962.6C484.6 961 484.9 959.3 485.3 957.7C485.6 956 485.9 954.4 486.2 952.7C486.6 951.1 486.9 949.5 487.2 947.8C487.6 946.2 487.9 944.5 488.2 942.9C488.6 941.3 488.9 939.6 489.3 938C489.6 936.3 490 934.7 490.3 933.1C490.7 931.4 491 929.8 491.4 928.1C491.7 926.5 492.1 924.9 492.4 923.2C492.8 921.6 493.1 920 493.5 918.3C493.8 916.7 494.2 915 494.5 913.4C494.9 911.8 495.2 910.1 495.6 908.5C496 906.9 496.3 905.2 496.6 903.6C497 902 497.3 900.3 497.7 898.7C498 897 498.4 895.4 498.7 893.8C499.1 892.1 499.4 890.5 499.7 888.9C500 887.2 500.4 885.6 500.7 883.9C501 882.3 501.3 880.7 501.7 879C502 877.4 502.3 875.7 502.6 874.1C502.9 872.4 503.2 870.8 503.5 869.1C503.8 867.5 504 865.9 504.3 864.2C504.6 862.6 504.9 860.9 505.1 859.3C505.4 857.6 505.6 855.9 505.9 854.3C506.1 852.6 506.4 851 506.6 849.3C506.8 847.7 507 846 507.2 844.3C507.4 842.7 507.6 841 507.8 839.3C508 837.7 508.2 836 508.4 834.3C508.5 832.7 508.7 830.2 508.8 829.3" fill="none" stroke="#000" stroke-opacity="0.85" stroke-width="0.9" stroke-linejoin="round"/>
</g>
<path d="M267.94 829.2V1404.3M383.38 829.2V1404.3M498.82 829.2V1404.3M614.26 829.2V1404.3M152.5 1312.77H729.7M152.5 1221.24H729.7M152.5 1129.71H729.7M152.5 1038.18H729.7M152.5 946.65H729.7M152.5 855.12H729.7" stroke="#262626" stroke-opacity="0.15" stroke-width="1.2" fill="none"/>
<g clip-path="url(#clip-c)">
<path d="M472 829.4L471.4 848.9L470.5 871.6L469.8 894.2L469.2 916.8L469 939.4L469.2 953.6L479.4 957.8L490.1 962.6L491.8 973.4L491.2 974.7L490.7 988.3L489.5 1000.7L488.4 1013.2L487.5 1025.6L486.7 1038.1L486.2 1050.5L485.2 1062.9L484.8 1075.4L484.1 1087.8L483.7 1100.3L483 1112.7L482.5 1125.2L482.2 1125.4L481.9 1137.8L481.4 1150.2L480.8 1162.7L480.5 1175.1L479.9 1187.6L479.6 1200L479.4 1212.5L478.8 1224.9L478.5 1237.4L477.7 1250.9L476.9 1263.4L476.9 1264.7L476.5 1277.1L476.2 1289.6L476 1302L475.7 1314.5L475.1 1326.9L474.8 1339.4L474.3 1351.8L473.5 1364.3L473.1 1376.7L473.1 1389.1L472.6 1403.8" stroke="#0000ff" stroke-width="6.9" stroke-dasharray="7.6 5.1" stroke-dashoffset="0" fill="none"/>
</g>
<path d="M267.94 1404.3v-4.6M267.94 829.2v4.6M383.38 1404.3v-4.6M383.38 829.2v4.6M498.82 1404.3v-4.6M498.82 829.2v4.6M614.26 1404.3v-4.6M614.26 829.2v4.6M152.5 1312.77h4.6M729.7 1312.77h-4.6M152.5 1221.24h4.6M729.7 1221.24h-4.6M152.5 1129.71h4.6M729.7 1129.71h-4.6M152.5 1038.18h4.6M729.7 1038.18h-4.6M152.5 946.65h4.6M729.7 946.65h-4.6M152.5 855.12h4.6M729.7 855.12h-4.6" stroke="#262626" stroke-width="1.2" fill="none"/>
<rect x="152.5" y="829.2" width="577.2" height="575.1" fill="none" stroke="#262626" stroke-width="1.3"/>
<text x="152.5" y="1449.8" font-size="34.3" text-anchor="middle">0</text>
<text x="267.94" y="1449.8" font-size="34.3" text-anchor="middle">20</text>
<text x="383.38" y="1449.8" font-size="34.3" text-anchor="middle">40</text>
<text x="498.82" y="1449.8" font-size="34.3" text-anchor="middle">60</text>
<text x="614.26" y="1449.8" font-size="34.3" text-anchor="middle">80</text>
<text x="729.7" y="1449.8" font-size="34.3" text-anchor="middle">100</text>
<text x="142.5" y="1418.2" font-size="34.3" text-anchor="end">0</text>
<text x="142.5" y="1326.67" font-size="34.3" text-anchor="end">0.5</text>
<text x="142.5" y="1235.14" font-size="34.3" text-anchor="end">1</text>
<text x="142.5" y="1143.61" font-size="34.3" text-anchor="end">1.5</text>
<text x="142.5" y="1052.08" font-size="34.3" text-anchor="end">2</text>
<text x="142.5" y="960.55" font-size="34.3" text-anchor="end">2.5</text>
<text x="142.5" y="869.02" font-size="34.3" text-anchor="end">3</text>
<text x="441.1" y="1498.3" font-size="39.3" text-anchor="middle"><tspan class="r">Ω</tspan> (Hz)</text>
<text x="38.5" y="1059.75" font-size="39.3" text-anchor="middle" class="m">β</text>
<text x="38.5" y="1108.75" font-size="39.3" text-anchor="middle">(rad)</text>
<text x="439" y="811.4" font-size="37.8" text-anchor="middle" style="fill:#000">(c) <tspan class="m">μ</tspan> = 0.15</text>
<rect x="770.3" y="828.9" width="28.9" height="576.1" fill="url(#cb)" stroke="#262626" stroke-width="1.2"/>
<text x="806.1" y="840.9" font-size="30.6">0</text>
<text x="806.1" y="956.12" font-size="30.6">-0.5</text>
<text x="806.1" y="1071.34" font-size="30.6">-1</text>
<text x="806.1" y="1186.56" font-size="30.6">-1.5</text>
<text x="806.1" y="1301.78" font-size="30.6">-2</text>
<text x="806.1" y="1417" font-size="30.6">-2.5</text>
<path d="M799.2 944.12h-5.7M799.2 1059.34h-5.7M799.2 1174.56h-5.7M799.2 1289.78h-5.7" stroke="#262626" stroke-width="1.2" fill="none"/>
</g>
<g id="panel-d">
<clipPath id="clip-d"><rect x="1060.5" y="828" width="577" height="577.2"/></clipPath>
<g clip-path="url(#clip-d)">
<path d="M1106.6 828.6C1105.4 828.7 1101.8 828.7 1099.6 829.1C1097.4 829.4 1095.4 829.9 1093.5 830.6C1091.6 831.2 1089.8 832.1 1088.1 833C1086.5 834 1085 835.1 1083.5 836.3C1082.1 837.5 1080.8 838.8 1079.6 840.2C1078.4 841.7 1077.3 843.2 1076.3 844.8C1075.3 846.4 1074.4 848.1 1073.6 849.8C1072.7 851.5 1072 853.4 1071.3 855.2C1070.6 857 1070 858.9 1069.5 860.8C1069 862.7 1068.5 864.7 1068.1 866.6C1067.6 868.5 1067.3 870.5 1067 872.5C1066.6 874.4 1066.4 876.4 1066.1 878.4C1065.9 880.4 1065.7 882.4 1065.6 884.4C1065.4 886.4 1065.3 888.4 1065.2 890.4C1065.1 892.4 1065 894.5 1064.9 896.5C1064.9 898.5 1064.8 900.5 1064.8 902.6C1064.8 904.6 1064.8 906.6 1064.7 908.6C1064.7 910.7 1064.7 912.7 1064.7 914.7C1064.7 916.7 1064.7 918.7 1064.7 920.7C1064.7 922.7 1064.6 924.7 1064.6 926.8C1064.6 928.8 1064.6 930.8 1064.6 932.8C1064.6 934.8 1064.6 936.8 1064.6 938.8C1064.6 940.7 1064.6 942.7 1064.5 944.7C1064.5 946.7 1064.5 948.7 1064.5 950.7C1064.5 952.7 1064.5 954.7 1064.5 956.7C1064.5 958.7 1064.5 960.6 1064.5 962.6C1064.5 964.6 1064.4 966.6 1064.4 968.6C1064.4 970.6 1064.4 972.6 1064.4 974.5C1064.4 976.5 1064.4 978.5 1064.3 980.5C1064.3 982.5 1064.3 984.5 1064.3 986.5C1064.3 988.4 1064.3 990.4 1064.2 992.4C1064.2 994.4 1064.2 996.4 1064.2 998.4C1064.2 1000.4 1064.1 1002.4 1064.1 1004.4C1064.1 1006.4 1064 1008.4 1064 1010.4C1064 1012.4 1064 1014.4 1063.9 1016.4C1063.9 1018.4 1063.8 1020.4 1063.8 1022.4C1063.8 1024.4 1063.7 1026.4 1063.7 1028.4C1063.7 1030.5 1063.7 1032.5 1063.7 1034.5C1063.6 1036.5 1063.6 1038.5 1063.7 1040.6C1063.7 1042.6 1063.7 1044.6 1063.7 1046.6C1063.8 1048.6 1063.9 1050.7 1063.9 1052.7C1064 1054.7 1064.1 1056.7 1064.3 1058.8C1064.4 1060.8 1064.6 1062.8 1064.7 1064.9C1064.9 1066.9 1065.2 1068.9 1065.4 1070.9C1065.7 1073 1065.9 1075 1066.3 1077C1066.7 1079 1067.1 1081 1067.6 1082.9C1068.1 1084.8 1068.6 1086.6 1069.4 1088.4C1070.1 1090.1 1070.9 1091.8 1071.9 1093.4C1072.8 1095 1074 1096.4 1075.2 1097.7C1076.4 1099.1 1077.8 1100.3 1079.2 1101.4C1080.7 1102.5 1082.2 1103.5 1083.9 1104.3C1085.5 1105.2 1087.2 1105.9 1089 1106.5C1090.7 1107.2 1092.5 1107.7 1094.4 1108.1C1096.3 1108.5 1098.2 1108.8 1100.1 1109C1102.1 1109.2 1104 1109.3 1106.1 1109.4C1108.1 1109.4 1110.1 1109.4 1112.2 1109.3C1114.2 1109.3 1116.3 1109.1 1118.4 1109C1120.5 1108.8 1122.6 1108.6 1124.7 1108.3C1126.8 1108.1 1128.9 1107.8 1131 1107.6C1133.1 1107.3 1135.2 1107 1137.2 1106.7C1139.3 1106.5 1141.4 1106.2 1143.4 1106C1145.5 1105.7 1147.5 1105.5 1149.5 1105.2C1151.5 1105 1153.5 1104.8 1155.5 1104.6C1157.4 1104.4 1159.4 1104.2 1161.4 1104C1163.3 1103.8 1165.3 1103.6 1167.2 1103.4C1169.2 1103.2 1171.1 1103 1173.1 1102.8C1175 1102.6 1176.9 1102.4 1178.9 1102.2C1180.8 1102 1182.8 1101.8 1184.7 1101.5C1186.7 1101.3 1188.6 1101.1 1190.6 1100.9C1192.5 1100.6 1194.5 1100.4 1196.5 1100.1C1198.4 1099.9 1200.4 1099.6 1202.3 1099.3C1204.3 1099.1 1206.3 1098.8 1208.3 1098.5C1210.2 1098.2 1212.2 1097.9 1214.2 1097.6C1216.1 1097.2 1218.1 1096.9 1220.1 1096.6C1222.1 1096.2 1224 1095.8 1226 1095.5C1228 1095.1 1229.9 1094.7 1231.9 1094.3C1233.9 1093.9 1235.8 1093.5 1237.8 1093C1239.8 1092.6 1241.7 1092.1 1243.7 1091.7C1245.6 1091.2 1247.6 1090.7 1249.5 1090.2C1251.5 1089.7 1253.4 1089.2 1255.4 1088.6C1257.3 1088.1 1259.2 1087.5 1261.2 1086.9C1263.1 1086.3 1265 1085.7 1266.9 1085.1C1268.8 1084.5 1270.8 1083.8 1272.7 1083.2C1274.6 1082.5 1276.4 1081.8 1278.3 1081.1C1280.2 1080.4 1282.1 1079.6 1284 1078.9C1285.8 1078.1 1287.7 1077.3 1289.5 1076.5C1291.3 1075.7 1293.2 1074.9 1295 1074C1296.7 1073.1 1298.5 1072.2 1300.3 1071.2C1302 1070.3 1303.8 1069.3 1305.5 1068.3C1307.1 1067.3 1308.8 1066.2 1310.4 1065.1C1312.1 1064 1313.7 1062.8 1315.2 1061.6C1316.8 1060.5 1318.3 1059.2 1319.8 1057.9C1321.3 1056.6 1322.7 1055.3 1324.1 1053.9C1325.5 1052.5 1326.8 1051.1 1328.1 1049.6C1329.4 1048.1 1330.7 1046.6 1331.9 1045C1333.1 1043.4 1334.3 1041.8 1335.4 1040.2C1336.6 1038.5 1337.6 1036.8 1338.7 1035.1C1339.8 1033.4 1340.8 1031.7 1341.8 1029.9C1342.8 1028.2 1343.8 1026.4 1344.8 1024.6C1345.7 1022.8 1346.6 1021 1347.5 1019.2C1348.4 1017.4 1349.3 1015.6 1350.2 1013.7C1351 1011.9 1351.9 1010.1 1352.7 1008.2C1353.5 1006.4 1354.3 1004.6 1355.1 1002.7C1355.9 1000.9 1356.6 999.1 1357.4 997.2C1358.1 995.4 1358.8 993.5 1359.5 991.7C1360.3 989.8 1361 988 1361.6 986.1C1362.3 984.2 1363 982.4 1363.6 980.5C1364.3 978.6 1364.9 976.8 1365.5 974.9C1366.1 973 1366.7 971.1 1367.3 969.2C1367.9 967.3 1368.5 965.4 1369.1 963.5C1369.6 961.6 1370.2 959.7 1370.7 957.8C1371.3 955.9 1371.8 954 1372.3 952C1372.8 950.1 1373.3 948.2 1373.8 946.3C1374.3 944.3 1374.8 942.4 1375.2 940.4C1375.7 938.5 1376.1 936.6 1376.6 934.6C1377 932.7 1377.4 930.7 1377.8 928.8C1378.3 926.8 1378.7 924.9 1379 922.9C1379.4 920.9 1379.8 919 1380.2 917C1380.6 915 1380.9 913.1 1381.3 911.1C1381.6 909.1 1381.9 907.2 1382.3 905.2C1382.6 903.2 1382.9 901.3 1383.2 899.3C1383.5 897.3 1383.9 895.3 1384.2 893.3C1384.5 891.4 1384.7 889.4 1385 887.4C1385.3 885.4 1385.6 883.4 1385.9 881.5C1386.2 879.5 1386.4 877.5 1386.7 875.5C1387 873.5 1387.3 871.6 1387.5 869.6C1387.8 867.6 1388.1 865.6 1388.3 863.6C1388.6 861.6 1388.9 859.7 1389.1 857.7C1389.4 855.7 1389.7 853.7 1389.9 851.7C1390.2 849.7 1390.5 847.8 1390.8 845.8C1391 843.8 1391.3 841.8 1391.6 839.9C1391.9 837.9 1392.2 835.9 1392.4 833.9C1392.7 832 1393.2 829 1393.3 828Z" fill="#999999" stroke="#000" stroke-opacity="0.85" stroke-width="0.9" stroke-linejoin="round"/>
<path d="M1636 852.2C1635.1 852.3 1632.2 852.8 1630.3 853C1628.3 853.3 1626.4 853.5 1624.5 853.8C1622.5 854 1620.6 854.2 1618.6 854.4C1616.7 854.6 1614.7 854.9 1612.7 855C1610.8 855.2 1608.8 855.4 1606.8 855.6C1604.9 855.8 1602.9 856 1600.9 856.1C1598.9 856.3 1596.9 856.5 1595 856.6C1593 856.8 1591 857 1589 857.1C1587 857.3 1585 857.4 1583 857.6C1581 857.8 1579 857.9 1577 858.1C1575 858.3 1573 858.4 1571 858.6C1569 858.8 1567 859 1564.9 859.2C1562.9 859.4 1560.9 859.6 1558.9 859.8C1556.9 860 1554.9 860.2 1552.9 860.4C1550.9 860.6 1548.8 860.9 1546.8 861.1C1544.8 861.4 1542.8 861.7 1540.8 861.9C1538.8 862.2 1536.8 862.5 1534.7 862.8C1532.7 863.1 1530.7 863.5 1528.7 863.8C1526.7 864.2 1524.7 864.5 1522.7 864.9C1520.7 865.3 1518.7 865.7 1516.7 866.1C1514.7 866.6 1512.7 867 1510.7 867.5C1508.7 868 1506.7 868.5 1504.7 869C1502.8 869.5 1500.8 870 1498.8 870.6C1496.9 871.2 1494.9 871.7 1493 872.4C1491.1 873 1489.1 873.6 1487.2 874.3C1485.3 874.9 1483.4 875.6 1481.6 876.3C1479.7 877.1 1477.8 877.8 1476 878.6C1474.1 879.3 1472.3 880.1 1470.5 880.9C1468.7 881.8 1466.9 882.6 1465.2 883.5C1463.4 884.4 1461.6 885.3 1459.9 886.2C1458.2 887.2 1456.5 888.1 1454.9 889.1C1453.2 890.1 1451.5 891.2 1449.9 892.2C1448.3 893.3 1446.7 894.4 1445.2 895.5C1443.6 896.6 1442.1 897.8 1440.6 899C1439.1 900.2 1437.7 901.4 1436.2 902.6C1434.8 903.9 1433.4 905.2 1432.1 906.5C1430.7 907.8 1429.4 909.2 1428.1 910.6C1426.8 912 1425.6 913.4 1424.4 914.9C1423.1 916.3 1422 917.8 1420.8 919.4C1419.7 920.9 1418.6 922.4 1417.5 924C1416.4 925.6 1415.4 927.2 1414.4 928.9C1413.4 930.5 1412.4 932.2 1411.4 933.9C1410.5 935.6 1409.5 937.3 1408.6 939C1407.7 940.8 1406.9 942.5 1406 944.3C1405.2 946.1 1404.4 947.9 1403.6 949.7C1402.8 951.6 1402 953.4 1401.3 955.3C1400.5 957.1 1399.8 959 1399.1 960.9C1398.4 962.8 1397.7 964.7 1397.1 966.6C1396.4 968.5 1395.8 970.4 1395.1 972.4C1394.5 974.3 1393.9 976.2 1393.3 978.2C1392.7 980.2 1392.1 982.1 1391.6 984.1C1391 986.1 1390.5 988 1389.9 990C1389.4 992 1388.9 994 1388.4 996C1387.9 997.9 1387.4 999.9 1386.9 1001.9C1386.4 1003.9 1385.9 1005.9 1385.4 1007.9C1385 1009.9 1384.5 1011.9 1384 1013.8C1383.6 1015.8 1383.1 1017.8 1382.7 1019.8C1382.3 1021.7 1381.8 1023.7 1381.4 1025.7C1381 1027.7 1380.6 1029.6 1380.2 1031.6C1379.8 1033.6 1379.3 1035.6 1378.9 1037.5C1378.6 1039.5 1378.2 1041.5 1377.8 1043.4C1377.4 1045.4 1377 1047.4 1376.6 1049.3C1376.3 1051.3 1375.9 1053.3 1375.5 1055.2C1375.2 1057.2 1374.8 1059.1 1374.4 1061.1C1374.1 1063.1 1373.7 1065 1373.4 1067C1373 1068.9 1372.7 1070.9 1372.4 1072.8C1372 1074.8 1371.7 1076.7 1371.4 1078.7C1371 1080.6 1370.7 1082.6 1370.4 1084.6C1370 1086.5 1369.7 1088.5 1369.4 1090.4C1369.1 1092.4 1368.8 1094.3 1368.4 1096.3C1368.1 1098.2 1367.8 1100.1 1367.5 1102.1C1367.2 1104 1366.9 1106 1366.6 1107.9C1366.2 1109.9 1365.9 1111.8 1365.6 1113.8C1365.3 1115.7 1365 1117.7 1364.7 1119.6C1364.4 1121.6 1364.1 1123.5 1363.8 1125.4C1363.5 1127.4 1363.2 1129.3 1362.9 1131.3C1362.5 1133.2 1362.2 1135.2 1361.9 1137.1C1361.6 1139.1 1361.3 1141 1361 1142.9C1360.7 1144.9 1360.4 1146.8 1360.1 1148.8C1359.8 1150.7 1359.5 1152.7 1359.1 1154.6C1358.8 1156.6 1358.5 1158.5 1358.2 1160.5C1357.9 1162.4 1357.6 1164.4 1357.2 1166.3C1356.9 1168.3 1356.6 1170.3 1356.3 1172.2C1356 1174.2 1355.6 1176.1 1355.3 1178.1C1355 1180.1 1354.7 1182 1354.3 1184C1354 1185.9 1353.7 1187.9 1353.3 1189.9C1353 1191.8 1352.7 1193.8 1352.3 1195.8C1352 1197.8 1351.6 1199.7 1351.3 1201.7C1350.9 1203.7 1350.6 1205.7 1350.2 1207.7C1349.9 1209.6 1349.5 1211.6 1349.2 1213.6C1348.8 1215.6 1348.4 1217.6 1348.1 1219.6C1347.7 1221.6 1347.3 1223.6 1346.9 1225.6C1346.6 1227.6 1346.2 1229.6 1345.8 1231.6C1345.4 1233.6 1345 1235.6 1344.6 1237.6C1344.2 1239.6 1343.8 1241.6 1343.4 1243.6C1343 1245.7 1342.5 1247.7 1342.1 1249.7C1341.7 1251.7 1341.2 1253.7 1340.7 1255.7C1340.3 1257.6 1339.8 1259.6 1339.3 1261.6C1338.8 1263.6 1338.3 1265.6 1337.8 1267.5C1337.2 1269.5 1336.7 1271.4 1336.1 1273.4C1335.6 1275.3 1335 1277.3 1334.4 1279.2C1333.8 1281.1 1333.2 1283 1332.5 1284.9C1331.9 1286.8 1331.2 1288.6 1330.5 1290.5C1329.8 1292.4 1329.1 1294.2 1328.4 1296C1327.6 1297.8 1326.9 1299.7 1326.1 1301.4C1325.3 1303.2 1324.4 1305 1323.6 1306.7C1322.7 1308.5 1321.8 1310.2 1320.9 1311.9C1320 1313.6 1319 1315.3 1318 1316.9C1317.1 1318.5 1316 1320.2 1315 1321.8C1313.9 1323.3 1312.8 1324.9 1311.7 1326.4C1310.6 1328 1309.4 1329.5 1308.2 1331C1307 1332.4 1305.8 1333.9 1304.5 1335.3C1303.2 1336.7 1301.9 1338.1 1300.5 1339.4C1299.2 1340.8 1297.8 1342.1 1296.4 1343.4C1294.9 1344.7 1293.5 1346 1292 1347.2C1290.5 1348.4 1289 1349.6 1287.5 1350.8C1285.9 1352 1284.3 1353.1 1282.7 1354.3C1281.1 1355.4 1279.5 1356.5 1277.9 1357.5C1276.2 1358.6 1274.5 1359.6 1272.8 1360.7C1271.1 1361.7 1269.4 1362.7 1267.6 1363.6C1265.9 1364.6 1264.1 1365.5 1262.3 1366.4C1260.6 1367.3 1258.8 1368.2 1256.9 1369.1C1255.1 1369.9 1253.3 1370.8 1251.4 1371.6C1249.6 1372.4 1247.7 1373.2 1245.8 1374C1243.9 1374.7 1242 1375.5 1240.1 1376.2C1238.2 1376.9 1236.3 1377.6 1234.3 1378.3C1232.4 1378.9 1230.5 1379.6 1228.5 1380.2C1226.6 1380.8 1224.6 1381.4 1222.7 1382C1220.7 1382.6 1218.7 1383.2 1216.8 1383.7C1214.8 1384.3 1212.8 1384.8 1210.8 1385.3C1208.9 1385.8 1206.9 1386.3 1204.9 1386.7C1202.9 1387.2 1200.9 1387.7 1199 1388.1C1197 1388.5 1195 1389 1193 1389.4C1191 1389.8 1189 1390.2 1187 1390.6C1185 1390.9 1183.1 1391.3 1181.1 1391.7C1179.1 1392.1 1177.1 1392.4 1175.1 1392.8C1173.1 1393.1 1171.1 1393.5 1169.1 1393.8C1167.2 1394.2 1165.2 1394.5 1163.2 1394.9C1161.2 1395.2 1159.2 1395.5 1157.3 1395.9C1155.3 1396.2 1153.3 1396.5 1151.4 1396.9C1149.4 1397.2 1147.4 1397.6 1145.5 1397.9C1143.5 1398.3 1141.6 1398.6 1139.6 1399C1137.7 1399.3 1135.7 1399.7 1133.8 1400.1C1131.9 1400.5 1129.9 1400.8 1128 1401.2C1126.1 1401.6 1124.2 1402 1122.3 1402.5C1120.4 1402.9 1118.5 1403.3 1116.6 1403.8C1114.7 1404.2 1111.8 1404.9 1110.9 1405.1L1393.7 1405.2C1393.8 1404.2 1394.2 1401.3 1394.5 1399.4C1394.8 1397.4 1395.1 1395.5 1395.4 1393.5C1395.6 1391.6 1395.9 1389.6 1396.2 1387.7C1396.5 1385.7 1396.7 1383.8 1397 1381.8C1397.3 1379.9 1397.6 1377.9 1397.8 1376C1398.1 1374 1398.4 1372.1 1398.7 1370.1C1399 1368.2 1399.2 1366.2 1399.5 1364.3C1399.8 1362.3 1400.1 1360.4 1400.4 1358.4C1400.7 1356.5 1401 1354.5 1401.3 1352.6C1401.6 1350.6 1401.9 1348.6 1402.2 1346.7C1402.5 1344.7 1402.8 1342.8 1403.1 1340.8C1403.5 1338.8 1403.8 1336.9 1404.1 1334.9C1404.5 1333 1404.8 1331 1405.2 1329C1405.5 1327.1 1405.9 1325.1 1406.2 1323.1C1406.6 1321.2 1407 1319.2 1407.4 1317.2C1407.8 1315.3 1408.2 1313.3 1408.6 1311.3C1409 1309.4 1409.4 1307.4 1409.8 1305.4C1410.3 1303.5 1410.7 1301.5 1411.2 1299.5C1411.6 1297.6 1412.1 1295.6 1412.6 1293.6C1413.1 1291.7 1413.6 1289.7 1414.1 1287.7C1414.6 1285.8 1415.1 1283.8 1415.7 1281.9C1416.2 1279.9 1416.8 1278 1417.3 1276C1417.9 1274.1 1418.5 1272.1 1419.1 1270.2C1419.8 1268.3 1420.4 1266.4 1421 1264.5C1421.7 1262.6 1422.4 1260.7 1423.1 1258.8C1423.8 1256.9 1424.5 1255 1425.2 1253.2C1426 1251.3 1426.7 1249.5 1427.5 1247.7C1428.3 1245.8 1429.1 1244 1429.9 1242.2C1430.8 1240.4 1431.6 1238.6 1432.5 1236.9C1433.4 1235.1 1434.3 1233.4 1435.2 1231.6C1436.2 1229.9 1437.1 1228.2 1438.1 1226.5C1439.1 1224.9 1440.1 1223.2 1441.2 1221.6C1442.2 1219.9 1443.3 1218.3 1444.4 1216.7C1445.5 1215.2 1446.7 1213.6 1447.8 1212.1C1449 1210.5 1450.2 1209 1451.4 1207.6C1452.7 1206.1 1453.9 1204.6 1455.2 1203.2C1456.5 1201.8 1457.9 1200.4 1459.2 1199C1460.6 1197.7 1462 1196.3 1463.4 1195C1464.8 1193.7 1466.2 1192.4 1467.7 1191.2C1469.2 1189.9 1470.6 1188.7 1472.2 1187.5C1473.7 1186.3 1475.2 1185.1 1476.8 1184C1478.4 1182.8 1479.9 1181.7 1481.6 1180.6C1483.2 1179.5 1484.8 1178.5 1486.5 1177.4C1488.1 1176.4 1489.8 1175.4 1491.5 1174.4C1493.2 1173.5 1494.9 1172.5 1496.6 1171.6C1498.4 1170.7 1500.1 1169.8 1501.9 1168.9C1503.7 1168.1 1505.5 1167.2 1507.3 1166.4C1509.1 1165.6 1510.9 1164.9 1512.7 1164.1C1514.6 1163.4 1516.4 1162.6 1518.3 1162C1520.2 1161.3 1522.1 1160.6 1523.9 1160C1525.8 1159.3 1527.7 1158.7 1529.7 1158.1C1531.6 1157.6 1533.5 1157 1535.5 1156.5C1537.4 1156 1539.3 1155.5 1541.3 1155C1543.3 1154.6 1545.2 1154.1 1547.2 1153.7C1549.2 1153.3 1551.2 1152.9 1553.1 1152.6C1555.1 1152.2 1557.1 1151.8 1559.1 1151.5C1561.1 1151.2 1563.1 1150.9 1565.1 1150.6C1567.1 1150.3 1569.1 1150 1571.2 1149.7C1573.2 1149.5 1575.2 1149.2 1577.2 1149C1579.2 1148.7 1581.2 1148.5 1583.2 1148.3C1585.2 1148.1 1587.3 1147.8 1589.3 1147.6C1591.3 1147.4 1593.3 1147.2 1595.3 1147C1597.3 1146.8 1599.3 1146.6 1601.3 1146.4C1603.3 1146.2 1605.3 1145.9 1607.2 1145.7C1609.2 1145.5 1611.2 1145.3 1613.2 1145.1C1615.1 1144.8 1617.1 1144.6 1619 1144.4C1621 1144.1 1622.9 1143.9 1624.8 1143.6C1626.8 1143.3 1628.7 1143.1 1630.6 1142.8C1632.5 1142.5 1635.3 1142 1636.3 1141.9Z" fill="#999999" stroke="#000" stroke-opacity="0.85" stroke-width="0.9" stroke-linejoin="round"/>
<path d="M1350.9 1405.2C1350.9 1404.2 1351 1401.2 1351.1 1399.1C1351.1 1397.1 1351.2 1395.1 1351.2 1393.1C1351.3 1391.1 1351.3 1389.1 1351.4 1387C1351.4 1385 1351.5 1383 1351.6 1381C1351.6 1379 1351.7 1377 1351.7 1375C1351.8 1373 1351.9 1371 1351.9 1368.9C1352 1366.9 1352.1 1364.9 1352.1 1362.9C1352.2 1360.9 1352.3 1358.9 1352.3 1356.9C1352.4 1354.9 1352.5 1352.9 1352.6 1350.9C1352.6 1348.9 1352.7 1346.9 1352.8 1344.9C1352.9 1342.9 1352.9 1340.9 1353 1338.9C1353.1 1336.9 1353.2 1334.9 1353.3 1332.9C1353.4 1330.9 1353.4 1328.9 1353.5 1326.9C1353.6 1324.9 1353.7 1322.9 1353.8 1321C1353.9 1319 1354 1317 1354.1 1315C1354.2 1313 1354.3 1311 1354.4 1309C1354.5 1307 1354.6 1305 1354.7 1303C1354.8 1301 1354.9 1299 1355.1 1297C1355.2 1295 1355.3 1293 1355.4 1291C1355.5 1289.1 1355.6 1287.1 1355.8 1285.1C1355.9 1283.1 1356 1281.1 1356.1 1279.1C1356.3 1277.1 1356.4 1275.1 1356.5 1273.1C1356.7 1271.1 1356.8 1269.1 1356.9 1267.1C1357.1 1265.1 1357.2 1263.1 1357.4 1261.1C1357.5 1259.1 1357.7 1257.1 1357.8 1255.1C1358 1253.1 1358.1 1251.1 1358.3 1249.1C1358.5 1247.1 1358.6 1245.1 1358.8 1243.1C1359 1241.1 1359.1 1239.1 1359.3 1237.1C1359.5 1235.1 1359.6 1233.1 1359.8 1231.1C1360 1229.1 1360.2 1227.1 1360.4 1225.1C1360.6 1223.1 1360.8 1221.1 1360.9 1219.1C1361.1 1217.1 1361.3 1215.1 1361.5 1213.1C1361.7 1211.1 1361.9 1209 1362.2 1207C1362.4 1205 1362.6 1203 1362.8 1201C1363 1199 1363.2 1197 1363.5 1194.9C1363.7 1192.9 1363.9 1190.9 1364.1 1188.9C1364.4 1186.9 1364.6 1184.9 1364.8 1182.8C1365.1 1180.8 1365.3 1178.8 1365.6 1176.8C1365.8 1174.8 1366.1 1172.8 1366.3 1170.8C1366.6 1168.8 1366.8 1166.7 1367.1 1164.7C1367.3 1162.7 1367.6 1160.7 1367.8 1158.7C1368.1 1156.7 1368.3 1154.7 1368.6 1152.7C1368.9 1150.7 1369.1 1148.8 1369.4 1146.8C1369.6 1144.8 1369.9 1142.8 1370.2 1140.8C1370.4 1138.9 1370.7 1136.9 1371 1134.9C1371.2 1132.9 1371.5 1131 1371.8 1129C1372.1 1127.1 1372.3 1125.1 1372.6 1123.2C1372.9 1121.2 1373.1 1119.3 1373.4 1117.4C1373.7 1115.5 1374 1113.5 1374.2 1111.6C1374.5 1109.7 1374.8 1107.8 1375 1105.9C1375.3 1104 1375.6 1102.1 1375.9 1100.2C1376.1 1098.3 1376.4 1096.4 1376.7 1094.5C1377 1092.6 1377.2 1090.7 1377.5 1088.8C1377.8 1086.9 1378.1 1084.9 1378.4 1083C1378.7 1081 1379 1079 1379.3 1077C1379.6 1075 1379.9 1073 1380.2 1070.9C1380.6 1068.9 1380.9 1066.8 1381.2 1064.6C1381.6 1062.5 1381.9 1060.3 1382.3 1058.1C1382.6 1055.9 1383 1053.6 1383.4 1051.3C1383.8 1049.1 1384.3 1046.7 1384.8 1044.4C1385.2 1042.1 1385.8 1039.8 1386.4 1037.5C1387 1035.1 1387.6 1032.8 1388.3 1030.5C1389.1 1028.3 1389.9 1026 1390.7 1024C1391.6 1022 1392.5 1020 1393.4 1018.4C1394.4 1016.8 1395.4 1015.4 1396.5 1014.5C1397.5 1013.5 1398.6 1012.9 1399.8 1012.7C1400.9 1012.5 1402.1 1012.7 1403.2 1013.2C1404.4 1013.7 1405.6 1014.6 1406.7 1015.6C1407.8 1016.7 1409 1018.1 1410 1019.6C1411.1 1021.2 1412.1 1023 1413 1024.8C1414 1026.7 1414.8 1028.8 1415.6 1030.9C1416.4 1033 1417 1035.2 1417.6 1037.4C1418.1 1039.6 1418.6 1041.9 1419 1044.2C1419.4 1046.5 1419.7 1048.8 1420 1051.1C1420.3 1053.4 1420.5 1055.7 1420.7 1058C1420.9 1060.2 1421 1062.5 1421.1 1064.7C1421.3 1066.8 1421.4 1069 1421.5 1071.1C1421.5 1073.2 1421.6 1075.3 1421.6 1077.3C1421.7 1079.4 1421.7 1081.4 1421.7 1083.4C1421.7 1085.4 1421.7 1087.4 1421.6 1089.3C1421.6 1091.3 1421.5 1093.2 1421.5 1095.2C1421.4 1097.1 1421.3 1099 1421.3 1100.9C1421.2 1102.9 1421.1 1104.8 1421 1106.7C1420.9 1108.6 1420.8 1110.6 1420.6 1112.5C1420.5 1114.4 1420.4 1116.4 1420.3 1118.3C1420.1 1120.2 1420 1122.2 1419.9 1124.2C1419.7 1126.1 1419.6 1128.1 1419.5 1130C1419.3 1132 1419.2 1134 1419 1136C1418.8 1137.9 1418.7 1139.9 1418.5 1141.9C1418.3 1143.9 1418.2 1145.9 1418 1147.9C1417.8 1149.9 1417.7 1151.9 1417.5 1153.9C1417.3 1155.9 1417.1 1157.9 1416.9 1159.9C1416.7 1161.9 1416.5 1163.9 1416.3 1165.9C1416.1 1167.9 1415.9 1169.9 1415.7 1172C1415.5 1174 1415.3 1176 1415.1 1178C1414.9 1180 1414.7 1182 1414.5 1184C1414.3 1186.1 1414.1 1188.1 1413.8 1190.1C1413.6 1192.1 1413.4 1194.1 1413.2 1196.1C1412.9 1198.1 1412.7 1200.2 1412.5 1202.2C1412.3 1204.2 1412 1206.2 1411.8 1208.2C1411.6 1210.2 1411.3 1212.2 1411.1 1214.2C1410.9 1216.2 1410.6 1218.2 1410.4 1220.2C1410.1 1222.2 1409.9 1224.2 1409.7 1226.2C1409.4 1228.2 1409.2 1230.2 1408.9 1232.2C1408.7 1234.2 1408.4 1236.2 1408.2 1238.2C1408 1240.2 1407.7 1242.2 1407.5 1244.2C1407.2 1246.2 1407 1248.1 1406.7 1250.1C1406.5 1252.1 1406.2 1254.1 1405.9 1256.1C1405.7 1258.1 1405.4 1260.1 1405.2 1262C1404.9 1264 1404.7 1266 1404.4 1268C1404.2 1270 1403.9 1272 1403.7 1273.9C1403.4 1275.9 1403.1 1277.9 1402.9 1279.9C1402.6 1281.9 1402.4 1283.9 1402.1 1285.8C1401.9 1287.8 1401.6 1289.8 1401.3 1291.8C1401.1 1293.8 1400.8 1295.7 1400.6 1297.7C1400.3 1299.7 1400.1 1301.7 1399.8 1303.7C1399.5 1305.6 1399.3 1307.6 1399 1309.6C1398.8 1311.6 1398.5 1313.6 1398.3 1315.5C1398 1317.5 1397.8 1319.5 1397.5 1321.5C1397.3 1323.5 1397 1325.4 1396.8 1327.4C1396.5 1329.4 1396.3 1331.4 1396 1333.4C1395.8 1335.4 1395.5 1337.3 1395.3 1339.3C1395 1341.3 1394.8 1343.3 1394.5 1345.3C1394.3 1347.3 1394 1349.2 1393.8 1351.2C1393.5 1353.2 1393.3 1355.2 1393.1 1357.2C1392.8 1359.2 1392.6 1361.2 1392.3 1363.2C1392.1 1365.2 1391.9 1367.2 1391.6 1369.2C1391.4 1371.1 1391.2 1373.1 1390.9 1375.1C1390.7 1377.1 1390.5 1379.1 1390.3 1381.1C1390 1383.1 1389.8 1385.1 1389.6 1387.1C1389.4 1389.1 1389.2 1391.1 1388.9 1393.1C1388.7 1395.2 1388.5 1397.2 1388.3 1399.2C1388.1 1401.2 1387.8 1404.2 1387.7 1405.2Z" fill="#333333" stroke="#000" stroke-opacity="0.85" stroke-width="0.9" stroke-linejoin="round"/>
<path d="M1359.7 1405.2C1359.7 1404.2 1359.7 1401.2 1359.7 1399.2C1359.7 1397.2 1359.7 1395.2 1359.7 1393.2C1359.7 1391.1 1359.7 1389.1 1359.7 1387.1C1359.7 1385.1 1359.7 1383.1 1359.7 1381.1C1359.7 1379.1 1359.7 1377.1 1359.7 1375.1C1359.7 1373.1 1359.7 1371.1 1359.7 1369.1C1359.7 1367.1 1359.7 1365.1 1359.7 1363.1C1359.7 1361.1 1359.7 1359.1 1359.7 1357.1C1359.7 1355.1 1359.7 1353.1 1359.7 1351.1C1359.7 1349.1 1359.7 1347.1 1359.7 1345.1C1359.8 1343.1 1359.8 1341.1 1359.8 1339.1C1359.8 1337.1 1359.8 1335.1 1359.8 1333.1C1359.8 1331.1 1359.9 1329.1 1359.9 1327.1C1359.9 1325.1 1359.9 1323.1 1359.9 1321.1C1360 1319.2 1360 1317.2 1360 1315.2C1360 1313.2 1360.1 1311.2 1360.1 1309.2C1360.1 1307.2 1360.2 1305.2 1360.2 1303.2C1360.2 1301.2 1360.3 1299.2 1360.3 1297.2C1360.3 1295.2 1360.4 1293.2 1360.4 1291.2C1360.5 1289.2 1360.5 1287.2 1360.6 1285.2C1360.6 1283.2 1360.7 1281.2 1360.7 1279.2C1360.8 1277.2 1360.9 1275.2 1360.9 1273.2C1361 1271.2 1361.1 1269.2 1361.1 1267.3C1361.2 1265.3 1361.3 1263.3 1361.4 1261.3C1361.4 1259.3 1361.5 1257.3 1361.6 1255.3C1361.7 1253.3 1361.8 1251.3 1361.9 1249.3C1362 1247.3 1362.1 1245.3 1362.2 1243.3C1362.3 1241.3 1362.4 1239.3 1362.5 1237.3C1362.6 1235.2 1362.7 1233.2 1362.8 1231.2C1362.9 1229.2 1363 1227.2 1363.2 1225.2C1363.3 1223.2 1363.4 1221.2 1363.6 1219.2C1363.7 1217.2 1363.8 1215.2 1364 1213.2C1364.1 1211.2 1364.3 1209.2 1364.4 1207.2C1364.6 1205.2 1364.7 1203.2 1364.9 1201.2C1365.1 1199.2 1365.3 1197.2 1365.4 1195.2C1365.6 1193.2 1365.8 1191.2 1366 1189.2C1366.2 1187.2 1366.4 1185.2 1366.6 1183.2C1366.8 1181.2 1367 1179.2 1367.3 1177.2C1367.5 1175.2 1367.7 1173.3 1368 1171.3C1368.2 1169.3 1368.5 1167.3 1368.7 1165.4C1369 1163.4 1369.3 1161.4 1369.5 1159.5C1369.8 1157.5 1370.1 1155.5 1370.4 1153.6C1370.7 1151.6 1371 1149.7 1371.3 1147.7C1371.6 1145.8 1372 1143.9 1372.3 1141.9C1372.6 1140 1373 1138.1 1373.3 1136.1C1373.7 1134.2 1374 1132.3 1374.4 1130.3C1374.7 1128.4 1375.1 1126.4 1375.5 1124.5C1375.8 1122.5 1376.2 1120.6 1376.5 1118.6C1376.8 1116.6 1377.2 1114.6 1377.5 1112.6C1377.8 1110.6 1378.2 1108.6 1378.5 1106.5C1378.8 1104.5 1379 1102.4 1379.3 1100.3C1379.6 1098.2 1379.9 1096.1 1380.2 1094C1380.5 1091.8 1380.8 1089.7 1381.2 1087.5C1381.6 1085.3 1382 1083.1 1382.6 1080.9C1383.2 1078.7 1383.8 1076.5 1384.6 1074.3C1385.3 1072.2 1386.2 1069.9 1387.1 1068.1C1388 1066.3 1388.9 1064.5 1389.9 1063.4C1390.8 1062.3 1391.8 1061.5 1392.7 1061.3C1393.6 1061.1 1394.4 1061.5 1395.3 1062.2C1396.1 1062.9 1396.9 1064.1 1397.6 1065.6C1398.4 1067 1399.1 1068.9 1399.8 1070.9C1400.4 1072.9 1401.1 1075.2 1401.6 1077.5C1402.2 1079.9 1402.7 1082.5 1403.2 1085C1403.6 1087.6 1404 1090.3 1404.4 1092.8C1404.7 1095.4 1405 1098 1405.2 1100.4C1405.4 1102.8 1405.6 1105.1 1405.7 1107.4C1405.8 1109.6 1405.8 1111.8 1405.8 1113.8C1405.8 1115.9 1405.8 1118 1405.7 1119.9C1405.6 1121.9 1405.5 1123.8 1405.4 1125.7C1405.3 1127.6 1405.1 1129.5 1405 1131.3C1404.8 1133.2 1404.6 1135 1404.5 1136.9C1404.3 1138.7 1404.1 1140.5 1404 1142.4C1403.8 1144.2 1403.7 1146.1 1403.5 1148C1403.4 1149.8 1403.2 1151.7 1403.1 1153.7C1403 1155.6 1402.9 1157.5 1402.8 1159.4C1402.6 1161.4 1402.5 1163.3 1402.4 1165.3C1402.3 1167.2 1402.2 1169.2 1402.1 1171.2C1402.1 1173.2 1402 1175.2 1401.9 1177.2C1401.8 1179.2 1401.7 1181.2 1401.6 1183.2C1401.6 1185.2 1401.5 1187.2 1401.4 1189.3C1401.3 1191.3 1401.3 1193.3 1401.2 1195.3C1401.1 1197.4 1401 1199.4 1401 1201.5C1400.9 1203.5 1400.8 1205.5 1400.8 1207.6C1400.7 1209.6 1400.6 1211.7 1400.5 1213.7C1400.5 1215.7 1400.4 1217.8 1400.3 1219.8C1400.2 1221.9 1400.1 1223.9 1400 1225.9C1399.9 1228 1399.8 1230 1399.7 1232C1399.6 1234.1 1399.5 1236.1 1399.4 1238.1C1399.3 1240.1 1399.2 1242.1 1399.1 1244.1C1399 1246.1 1398.9 1248.2 1398.8 1250.2C1398.6 1252.2 1398.5 1254.2 1398.4 1256.2C1398.3 1258.2 1398.1 1260.2 1398 1262.2C1397.9 1264.2 1397.7 1266.2 1397.6 1268.2C1397.4 1270.1 1397.3 1272.1 1397.1 1274.1C1397 1276.1 1396.8 1278.1 1396.7 1280.1C1396.5 1282.1 1396.4 1284 1396.2 1286C1396.1 1288 1395.9 1290 1395.7 1292C1395.6 1293.9 1395.4 1295.9 1395.2 1297.9C1395.1 1299.9 1394.9 1301.9 1394.7 1303.8C1394.5 1305.8 1394.4 1307.8 1394.2 1309.7C1394 1311.7 1393.8 1313.7 1393.6 1315.7C1393.4 1317.6 1393.3 1319.6 1393.1 1321.6C1392.9 1323.6 1392.7 1325.5 1392.5 1327.5C1392.3 1329.5 1392.1 1331.5 1391.9 1333.4C1391.7 1335.4 1391.5 1337.4 1391.3 1339.4C1391.1 1341.3 1390.9 1343.3 1390.7 1345.3C1390.5 1347.3 1390.3 1349.3 1390.1 1351.2C1389.9 1353.2 1389.7 1355.2 1389.5 1357.2C1389.3 1359.2 1389.1 1361.1 1388.8 1363.1C1388.6 1365.1 1388.4 1367.1 1388.2 1369.1C1388 1371.1 1387.8 1373.1 1387.6 1375.1C1387.3 1377.1 1387.1 1379.1 1386.9 1381.1C1386.7 1383.1 1386.5 1385.1 1386.3 1387.1C1386 1389.1 1385.8 1391.1 1385.6 1393.1C1385.4 1395.1 1385.2 1397.1 1384.9 1399.1C1384.7 1401.2 1384.4 1404.2 1384.3 1405.2Z" fill="#000000" stroke="#000" stroke-opacity="0.85" stroke-width="0.9" stroke-linejoin="round"/>
<path d="M1350.9 828C1350.9 828.7 1350.8 830.6 1350.8 832C1350.8 833.3 1350.8 834.6 1350.8 836C1350.8 837.3 1350.8 838.7 1350.8 840C1350.9 841.4 1350.9 842.7 1350.9 844.1C1351 845.4 1351 846.8 1351.1 848.1C1351.2 849.5 1351.2 850.9 1351.3 852.2C1351.4 853.6 1351.5 854.9 1351.6 856.3C1351.7 857.6 1351.8 859 1351.9 860.3C1352 861.7 1352.1 863 1352.2 864.4C1352.3 865.7 1352.4 867.1 1352.5 868.4C1352.6 869.7 1352.7 871 1352.8 872.4C1353 873.7 1353.1 875 1353.2 876.3C1353.3 877.6 1353.4 878.9 1353.5 880.2C1353.6 881.5 1353.7 882.7 1353.8 884C1353.9 885.3 1354.1 886.6 1354.2 887.9C1354.3 889.2 1354.5 890.5 1354.7 891.9C1354.8 893.2 1355 894.6 1355.3 896C1355.5 897.4 1355.7 898.8 1356 900.3C1356.3 901.8 1356.6 903.3 1357 904.8C1357.3 906.4 1357.7 908 1358.2 909.5C1358.6 911 1359.1 912.6 1359.6 913.9C1360.1 915.3 1360.7 916.6 1361.3 917.6C1361.9 918.6 1362.5 919.5 1363.2 920C1363.9 920.6 1364.6 920.9 1365.4 920.9C1366.2 920.8 1367 920.4 1367.8 919.7C1368.6 919 1369.5 917.9 1370.3 916.7C1371.1 915.6 1371.8 914.1 1372.5 912.7C1373.2 911.3 1373.8 909.8 1374.3 908.3C1374.8 906.8 1375.3 905.3 1375.7 903.8C1376.2 902.3 1376.5 900.7 1376.9 899.3C1377.2 897.8 1377.5 896.4 1377.8 895.1C1378.1 893.7 1378.4 892.4 1378.6 891.1C1378.9 889.8 1379.1 888.5 1379.4 887.2C1379.6 886 1379.8 884.7 1380 883.5C1380.2 882.2 1380.5 881 1380.7 879.8C1380.9 878.5 1381.1 877.2 1381.3 876C1381.5 874.7 1381.8 873.4 1382 872.1C1382.2 870.8 1382.4 869.5 1382.7 868.2C1382.9 866.9 1383.1 865.5 1383.4 864.2C1383.6 862.9 1383.8 861.5 1384.1 860.2C1384.3 858.8 1384.5 857.5 1384.7 856.1C1385 854.8 1385.2 853.4 1385.4 852C1385.6 850.7 1385.8 849.3 1386 848C1386.2 846.6 1386.4 845.2 1386.6 843.9C1386.8 842.5 1386.9 841.2 1387.1 839.8C1387.3 838.5 1387.4 837.2 1387.6 835.8C1387.7 834.5 1387.8 833.2 1387.9 831.9C1388.1 830.6 1388.2 828.7 1388.2 828Z" fill="#333333" stroke="#000" stroke-opacity="0.85" stroke-width="0.9" stroke-linejoin="round"/>
<path d="M1361.1 828C1361.1 828.7 1361.1 831 1361.2 832.4C1361.2 833.8 1361.3 835.1 1361.4 836.4C1361.4 837.7 1361.5 839 1361.6 840.2C1361.7 841.5 1361.8 842.7 1361.9 844C1362 845.2 1362.1 846.4 1362.2 847.7C1362.3 849 1362.5 850.3 1362.6 851.6C1362.7 852.9 1362.9 854.3 1363 855.8C1363.2 857.2 1363.4 858.7 1363.6 860.2C1363.8 861.7 1364.1 863.3 1364.4 864.9C1364.8 866.4 1365.2 868.2 1365.7 869.6C1366.2 871.1 1366.8 872.5 1367.5 873.5C1368.2 874.5 1369 875.2 1369.8 875.4C1370.6 875.7 1371.5 875.4 1372.3 875C1373.2 874.5 1374.1 873.7 1374.9 872.7C1375.7 871.7 1376.5 870.4 1377.2 869.2C1377.8 867.9 1378.4 866.4 1378.8 864.9C1379.3 863.5 1379.6 861.9 1379.9 860.4C1380.2 858.9 1380.4 857.4 1380.5 855.9C1380.7 854.4 1380.9 852.9 1381 851.6C1381.2 850.2 1381.3 848.9 1381.5 847.6C1381.6 846.3 1381.8 845 1381.9 843.8C1382.1 842.5 1382.2 841.3 1382.4 840.1C1382.5 838.8 1382.6 837.6 1382.8 836.3C1382.9 835 1383.1 833.7 1383.2 832.3C1383.4 830.9 1383.6 828.7 1383.7 828Z" fill="#000000" stroke="#000" stroke-opacity="0.85" stroke-width="0.9" stroke-linejoin="round"/>
</g>
<path d="M1175.9 828V1405.2M1291.3 828V1405.2M1406.7 828V1405.2M1522.1 828V1405.2M1060.5 1313.34H1637.5M1060.5 1221.47H1637.5M1060.5 1129.61H1637.5M1060.5 1037.74H1637.5M1060.5 945.88H1637.5M1060.5 854.01H1637.5" stroke="#262626" stroke-opacity="0.15" stroke-width="1.2" fill="none"/>
<g clip-path="url(#clip-d)">
<path d="M1375.2 828L1374.7 839.9L1373.8 852.3L1373 864.8L1372.4 877.2L1371.5 889.7L1371 902.1L1370.4 914.5L1369.2 927L1368.4 939.4L1367.9 951.9L1368.8 961.5L1384.8 963.4L1397.5 965.2L1396.7 975.8L1395 988.3L1393.3 999.6L1392.2 1012L1390.5 1025.6L1389.9 1038.1L1389.1 1050.5L1387.7 1062.9L1386.5 1075.4L1386 1087.8L1385.4 1100.3L1384.8 1112.7L1384.3 1125.4L1383.9 1137.8L1383.5 1150.2L1383.1 1162.7L1382.6 1175.1L1382.4 1187.6L1382 1200L1381.4 1212.5L1381.2 1224.9L1380.9 1237.4L1380.3 1250.9L1380.1 1263.4L1379.8 1264.7L1379.2 1277.1L1379 1289.6L1378.6 1302L1378.3 1314.5L1378.1 1326.9L1377.8 1339.4L1377.5 1351.8L1377.1 1364.3L1376.9 1376.7L1376 1390.3L1374.9 1405.2" stroke="#0000ff" stroke-width="6.9" stroke-dasharray="7.6 5.1" stroke-dashoffset="0" fill="none"/>
</g>
<path d="M1175.9 1405.2v-4.6M1175.9 828v4.6M1291.3 1405.2v-4.6M1291.3 828v4.6M1406.7 1405.2v-4.6M1406.7 828v4.6M1522.1 1405.2v-4.6M1522.1 828v4.6M1060.5 1313.34h4.6M1637.5 1313.34h-4.6M1060.5 1221.47h4.6M1637.5 1221.47h-4.6M1060.5 1129.61h4.6M1637.5 1129.61h-4.6M1060.5 1037.74h4.6M1637.5 1037.74h-4.6M1060.5 945.88h4.6M1637.5 945.88h-4.6M1060.5 854.01h4.6M1637.5 854.01h-4.6" stroke="#262626" stroke-width="1.2" fill="none"/>
<rect x="1060.5" y="828" width="577" height="577.2" fill="none" stroke="#262626" stroke-width="1.3"/>
<text x="1060.5" y="1450.7" font-size="34.3" text-anchor="middle">0</text>
<text x="1175.9" y="1450.7" font-size="34.3" text-anchor="middle">20</text>
<text x="1291.3" y="1450.7" font-size="34.3" text-anchor="middle">40</text>
<text x="1406.7" y="1450.7" font-size="34.3" text-anchor="middle">60</text>
<text x="1522.1" y="1450.7" font-size="34.3" text-anchor="middle">80</text>
<text x="1637.5" y="1450.7" font-size="34.3" text-anchor="middle">100</text>
<text x="1050.5" y="1419.1" font-size="34.3" text-anchor="end">0</text>
<text x="1050.5" y="1327.24" font-size="34.3" text-anchor="end">0.5</text>
<text x="1050.5" y="1235.37" font-size="34.3" text-anchor="end">1</text>
<text x="1050.5" y="1143.51" font-size="34.3" text-anchor="end">1.5</text>
<text x="1050.5" y="1051.64" font-size="34.3" text-anchor="end">2</text>
<text x="1050.5" y="959.78" font-size="34.3" text-anchor="end">2.5</text>
<text x="1050.5" y="867.91" font-size="34.3" text-anchor="end">3</text>
<text x="1349" y="1499.2" font-size="39.3" text-anchor="middle"><tspan class="r">Ω</tspan> (Hz)</text>
<text x="946.5" y="1059.6" font-size="39.3" text-anchor="middle" class="m">β</text>
<text x="946.5" y="1108.6" font-size="39.3" text-anchor="middle">(rad)</text>
<text x="1349.2" y="810.4" font-size="37.8" text-anchor="middle" style="fill:#000">(d) <tspan class="m">μ</tspan> = 0.2</text>
<rect x="1678.5" y="827.7" width="28.8" height="578.2" fill="url(#cb)" stroke="#262626" stroke-width="1.2"/>
<text x="1714.2" y="839.7" font-size="30.6">0</text>
<text x="1714.2" y="955.34" font-size="30.6">-0.5</text>
<text x="1714.2" y="1070.98" font-size="30.6">-1</text>
<text x="1714.2" y="1186.62" font-size="30.6">-1.5</text>
<text x="1714.2" y="1302.26" font-size="30.6">-2</text>
<text x="1714.2" y="1417.9" font-size="30.6">-2.5</text>
<path d="M1707.3 943.34h-5.7M1707.3 1058.98h-5.7M1707.3 1174.62h-5.7M1707.3 1290.26h-5.7" stroke="#262626" stroke-width="1.2" fill="none"/>
</g>
</g>
</svg>
</body></html>
